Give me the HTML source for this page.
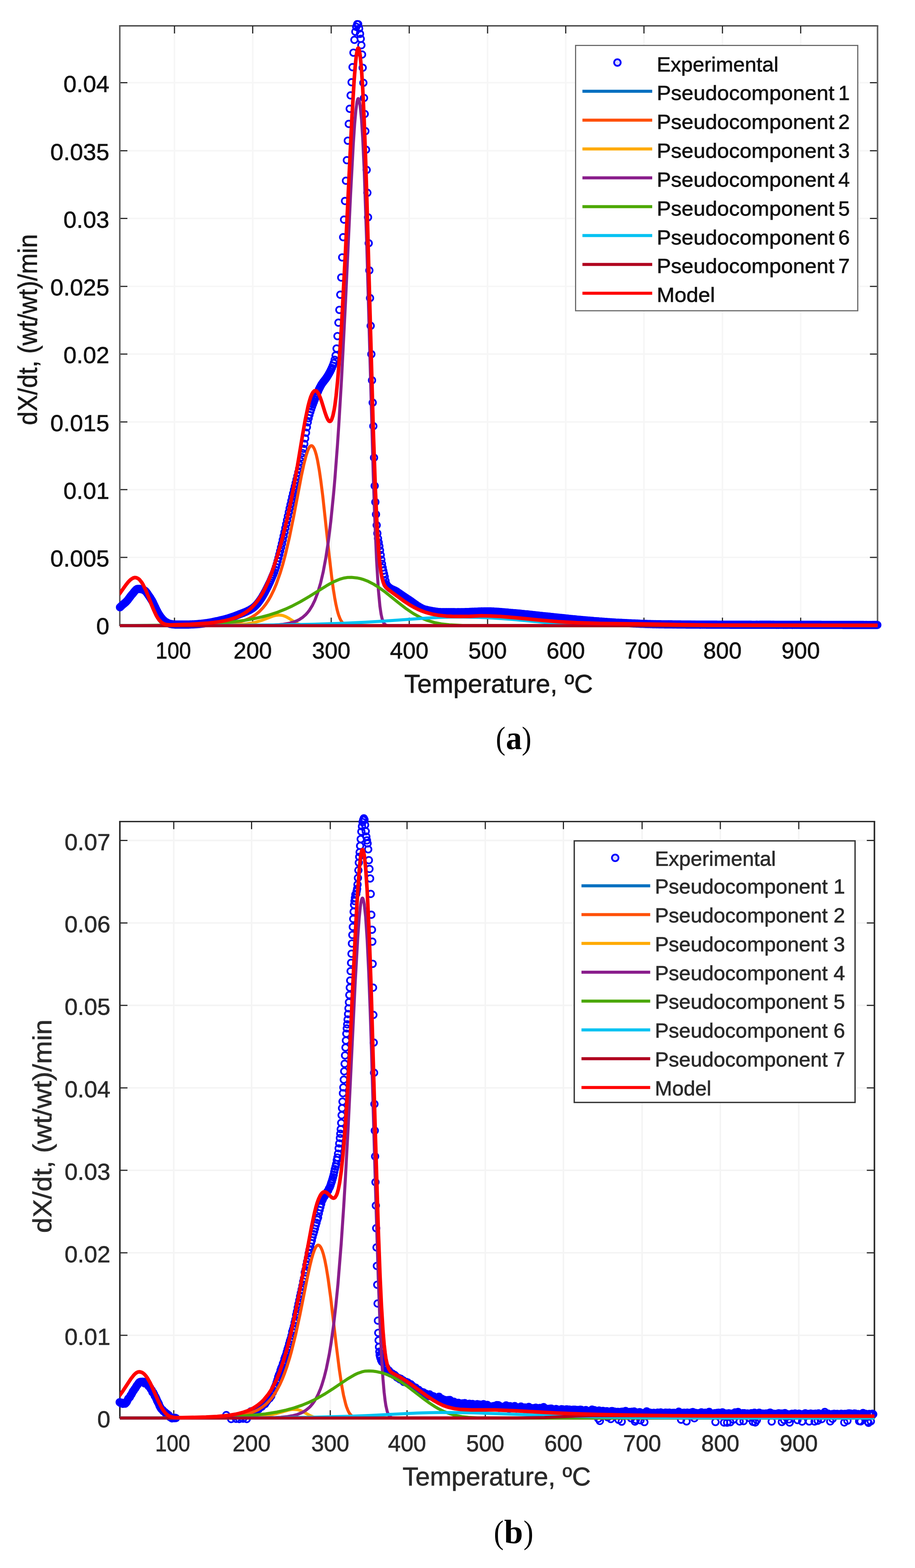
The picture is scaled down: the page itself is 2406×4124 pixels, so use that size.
<!DOCTYPE html><html><head><meta charset="utf-8"><title>DTG deconvolution</title><style>html,body{margin:0;padding:0;background:#fff}svg{display:block}</style></head><body>
<svg width="2406" height="4124" viewBox="0 0 2406 4124">
<rect width="2406" height="4124" fill="#fff"/>
<g font-family='"Liberation Sans", Arial, sans-serif' font-size="62" fill="#111" stroke="#111" stroke-width="0.9">
<path d="M458.8,68.0V1644.5M664.5,68.0V1644.5M870.9,68.0V1644.5M1076.1,68.0V1644.5M1282.1,68.0V1644.5M1487.6,68.0V1644.5M1693.3,68.0V1644.5M1899.7,68.0V1644.5M2105.4,68.0V1644.5M315.0,1466.0H2307.5M315.0,1287.7H2307.5M315.0,1109.8H2307.5M315.0,931.2H2307.5M315.0,753.2H2307.5M315.0,574.6H2307.5M315.0,396.6H2307.5M315.0,217.6H2307.5" stroke="#f6f6f6" stroke-width="4" fill="none"/>
<path d="M458.8,1644.5v-20.0M458.8,68.0v20.0M664.5,1644.5v-20.0M664.5,68.0v20.0M870.9,1644.5v-20.0M870.9,68.0v20.0M1076.1,1644.5v-20.0M1076.1,68.0v20.0M1282.1,1644.5v-20.0M1282.1,68.0v20.0M1487.6,1644.5v-20.0M1487.6,68.0v20.0M1693.3,1644.5v-20.0M1693.3,68.0v20.0M1899.7,1644.5v-20.0M1899.7,68.0v20.0M2105.4,1644.5v-20.0M2105.4,68.0v20.0M315.0,1644.4h20.0M2307.5,1644.4h-20.0M315.0,1466.0h20.0M2307.5,1466.0h-20.0M315.0,1287.7h20.0M2307.5,1287.7h-20.0M315.0,1109.8h20.0M2307.5,1109.8h-20.0M315.0,931.2h20.0M2307.5,931.2h-20.0M315.0,753.2h20.0M2307.5,753.2h-20.0M315.0,574.6h20.0M2307.5,574.6h-20.0M315.0,396.6h20.0M2307.5,396.6h-20.0M315.0,217.6h20.0M2307.5,217.6h-20.0" stroke="#262626" stroke-width="3" fill="none"/>
<path d="M313.0,68.0H2309.5 M313.0,1644.5H2309.5" stroke="#262626" stroke-width="3" fill="none"/>
<path d="M315.0,68.0V1644.5 M2307.5,68.0V1644.5" stroke="#5e5e5e" stroke-width="4" fill="none"/>
<path d="M306.9,1597.2a8.6,8.6 0 1,0 17.2,0a8.6,8.6 0 1,0 -17.2,0M309.2,1595.0a8.6,8.6 0 1,0 17.2,0a8.6,8.6 0 1,0 -17.2,0M311.4,1592.9a8.6,8.6 0 1,0 17.2,0a8.6,8.6 0 1,0 -17.2,0M313.7,1590.8a8.6,8.6 0 1,0 17.2,0a8.6,8.6 0 1,0 -17.2,0M316.0,1588.9a8.6,8.6 0 1,0 17.2,0a8.6,8.6 0 1,0 -17.2,0M318.2,1587.0a8.6,8.6 0 1,0 17.2,0a8.6,8.6 0 1,0 -17.2,0M320.5,1585.1a8.6,8.6 0 1,0 17.2,0a8.6,8.6 0 1,0 -17.2,0M322.8,1583.0a8.6,8.6 0 1,0 17.2,0a8.6,8.6 0 1,0 -17.2,0M325.0,1580.7a8.6,8.6 0 1,0 17.2,0a8.6,8.6 0 1,0 -17.2,0M327.3,1578.1a8.6,8.6 0 1,0 17.2,0a8.6,8.6 0 1,0 -17.2,0M329.5,1575.1a8.6,8.6 0 1,0 17.2,0a8.6,8.6 0 1,0 -17.2,0M331.8,1572.1a8.6,8.6 0 1,0 17.2,0a8.6,8.6 0 1,0 -17.2,0M334.1,1569.0a8.6,8.6 0 1,0 17.2,0a8.6,8.6 0 1,0 -17.2,0M336.3,1566.1a8.6,8.6 0 1,0 17.2,0a8.6,8.6 0 1,0 -17.2,0M338.6,1563.4a8.6,8.6 0 1,0 17.2,0a8.6,8.6 0 1,0 -17.2,0M340.9,1560.8a8.6,8.6 0 1,0 17.2,0a8.6,8.6 0 1,0 -17.2,0M343.1,1558.0a8.6,8.6 0 1,0 17.2,0a8.6,8.6 0 1,0 -17.2,0M345.4,1555.2a8.6,8.6 0 1,0 17.2,0a8.6,8.6 0 1,0 -17.2,0M347.7,1552.6a8.6,8.6 0 1,0 17.2,0a8.6,8.6 0 1,0 -17.2,0M349.9,1550.5a8.6,8.6 0 1,0 17.2,0a8.6,8.6 0 1,0 -17.2,0M352.2,1549.1a8.6,8.6 0 1,0 17.2,0a8.6,8.6 0 1,0 -17.2,0M354.5,1548.8a8.6,8.6 0 1,0 17.2,0a8.6,8.6 0 1,0 -17.2,0M356.7,1548.9a8.6,8.6 0 1,0 17.2,0a8.6,8.6 0 1,0 -17.2,0M359.0,1549.1a8.6,8.6 0 1,0 17.2,0a8.6,8.6 0 1,0 -17.2,0M361.3,1549.4a8.6,8.6 0 1,0 17.2,0a8.6,8.6 0 1,0 -17.2,0M363.5,1549.8a8.6,8.6 0 1,0 17.2,0a8.6,8.6 0 1,0 -17.2,0M365.8,1550.3a8.6,8.6 0 1,0 17.2,0a8.6,8.6 0 1,0 -17.2,0M368.0,1551.2a8.6,8.6 0 1,0 17.2,0a8.6,8.6 0 1,0 -17.2,0M370.3,1552.4a8.6,8.6 0 1,0 17.2,0a8.6,8.6 0 1,0 -17.2,0M372.6,1553.8a8.6,8.6 0 1,0 17.2,0a8.6,8.6 0 1,0 -17.2,0M374.8,1555.7a8.6,8.6 0 1,0 17.2,0a8.6,8.6 0 1,0 -17.2,0M377.1,1558.5a8.6,8.6 0 1,0 17.2,0a8.6,8.6 0 1,0 -17.2,0M379.4,1561.7a8.6,8.6 0 1,0 17.2,0a8.6,8.6 0 1,0 -17.2,0M381.6,1565.1a8.6,8.6 0 1,0 17.2,0a8.6,8.6 0 1,0 -17.2,0M383.9,1568.3a8.6,8.6 0 1,0 17.2,0a8.6,8.6 0 1,0 -17.2,0M386.2,1571.7a8.6,8.6 0 1,0 17.2,0a8.6,8.6 0 1,0 -17.2,0M388.4,1575.3a8.6,8.6 0 1,0 17.2,0a8.6,8.6 0 1,0 -17.2,0M390.7,1579.0a8.6,8.6 0 1,0 17.2,0a8.6,8.6 0 1,0 -17.2,0M393.0,1583.1a8.6,8.6 0 1,0 17.2,0a8.6,8.6 0 1,0 -17.2,0M395.2,1587.8a8.6,8.6 0 1,0 17.2,0a8.6,8.6 0 1,0 -17.2,0M397.5,1592.7a8.6,8.6 0 1,0 17.2,0a8.6,8.6 0 1,0 -17.2,0M399.8,1597.5a8.6,8.6 0 1,0 17.2,0a8.6,8.6 0 1,0 -17.2,0M402.0,1602.1a8.6,8.6 0 1,0 17.2,0a8.6,8.6 0 1,0 -17.2,0M404.3,1606.6a8.6,8.6 0 1,0 17.2,0a8.6,8.6 0 1,0 -17.2,0M406.5,1610.9a8.6,8.6 0 1,0 17.2,0a8.6,8.6 0 1,0 -17.2,0M408.8,1614.8a8.6,8.6 0 1,0 17.2,0a8.6,8.6 0 1,0 -17.2,0M411.1,1618.3a8.6,8.6 0 1,0 17.2,0a8.6,8.6 0 1,0 -17.2,0M413.3,1621.7a8.6,8.6 0 1,0 17.2,0a8.6,8.6 0 1,0 -17.2,0M415.6,1624.7a8.6,8.6 0 1,0 17.2,0a8.6,8.6 0 1,0 -17.2,0M417.9,1627.4a8.6,8.6 0 1,0 17.2,0a8.6,8.6 0 1,0 -17.2,0M420.1,1629.8a8.6,8.6 0 1,0 17.2,0a8.6,8.6 0 1,0 -17.2,0M422.4,1632.0a8.6,8.6 0 1,0 17.2,0a8.6,8.6 0 1,0 -17.2,0M424.7,1634.0a8.6,8.6 0 1,0 17.2,0a8.6,8.6 0 1,0 -17.2,0M426.9,1635.6a8.6,8.6 0 1,0 17.2,0a8.6,8.6 0 1,0 -17.2,0M429.2,1636.9a8.6,8.6 0 1,0 17.2,0a8.6,8.6 0 1,0 -17.2,0M431.5,1638.1a8.6,8.6 0 1,0 17.2,0a8.6,8.6 0 1,0 -17.2,0M433.7,1639.2a8.6,8.6 0 1,0 17.2,0a8.6,8.6 0 1,0 -17.2,0M436.0,1640.1a8.6,8.6 0 1,0 17.2,0a8.6,8.6 0 1,0 -17.2,0M438.3,1640.8a8.6,8.6 0 1,0 17.2,0a8.6,8.6 0 1,0 -17.2,0M440.5,1641.3a8.6,8.6 0 1,0 17.2,0a8.6,8.6 0 1,0 -17.2,0M442.8,1641.6a8.6,8.6 0 1,0 17.2,0a8.6,8.6 0 1,0 -17.2,0M445.0,1642.0a8.6,8.6 0 1,0 17.2,0a8.6,8.6 0 1,0 -17.2,0M447.3,1642.2a8.6,8.6 0 1,0 17.2,0a8.6,8.6 0 1,0 -17.2,0M449.6,1642.4a8.6,8.6 0 1,0 17.2,0a8.6,8.6 0 1,0 -17.2,0M451.8,1642.6a8.6,8.6 0 1,0 17.2,0a8.6,8.6 0 1,0 -17.2,0M454.1,1642.6a8.6,8.6 0 1,0 17.2,0a8.6,8.6 0 1,0 -17.2,0M456.4,1642.6a8.6,8.6 0 1,0 17.2,0a8.6,8.6 0 1,0 -17.2,0M458.6,1642.6a8.6,8.6 0 1,0 17.2,0a8.6,8.6 0 1,0 -17.2,0M460.9,1642.6a8.6,8.6 0 1,0 17.2,0a8.6,8.6 0 1,0 -17.2,0M463.2,1642.6a8.6,8.6 0 1,0 17.2,0a8.6,8.6 0 1,0 -17.2,0M465.4,1642.6a8.6,8.6 0 1,0 17.2,0a8.6,8.6 0 1,0 -17.2,0M467.7,1642.6a8.6,8.6 0 1,0 17.2,0a8.6,8.6 0 1,0 -17.2,0M470.0,1642.6a8.6,8.6 0 1,0 17.2,0a8.6,8.6 0 1,0 -17.2,0M472.2,1642.6a8.6,8.6 0 1,0 17.2,0a8.6,8.6 0 1,0 -17.2,0M474.5,1642.6a8.6,8.6 0 1,0 17.2,0a8.6,8.6 0 1,0 -17.2,0M476.8,1642.6a8.6,8.6 0 1,0 17.2,0a8.6,8.6 0 1,0 -17.2,0M479.0,1642.6a8.6,8.6 0 1,0 17.2,0a8.6,8.6 0 1,0 -17.2,0M481.3,1642.6a8.6,8.6 0 1,0 17.2,0a8.6,8.6 0 1,0 -17.2,0M483.5,1642.6a8.6,8.6 0 1,0 17.2,0a8.6,8.6 0 1,0 -17.2,0M485.8,1642.6a8.6,8.6 0 1,0 17.2,0a8.6,8.6 0 1,0 -17.2,0M488.1,1642.6a8.6,8.6 0 1,0 17.2,0a8.6,8.6 0 1,0 -17.2,0M490.3,1642.5a8.6,8.6 0 1,0 17.2,0a8.6,8.6 0 1,0 -17.2,0M492.6,1642.4a8.6,8.6 0 1,0 17.2,0a8.6,8.6 0 1,0 -17.2,0M494.9,1642.3a8.6,8.6 0 1,0 17.2,0a8.6,8.6 0 1,0 -17.2,0M497.1,1642.2a8.6,8.6 0 1,0 17.2,0a8.6,8.6 0 1,0 -17.2,0M499.4,1642.1a8.6,8.6 0 1,0 17.2,0a8.6,8.6 0 1,0 -17.2,0M501.7,1642.0a8.6,8.6 0 1,0 17.2,0a8.6,8.6 0 1,0 -17.2,0M503.9,1641.9a8.6,8.6 0 1,0 17.2,0a8.6,8.6 0 1,0 -17.2,0M506.2,1641.7a8.6,8.6 0 1,0 17.2,0a8.6,8.6 0 1,0 -17.2,0M508.5,1641.6a8.6,8.6 0 1,0 17.2,0a8.6,8.6 0 1,0 -17.2,0M510.7,1641.5a8.6,8.6 0 1,0 17.2,0a8.6,8.6 0 1,0 -17.2,0M513.0,1641.3a8.6,8.6 0 1,0 17.2,0a8.6,8.6 0 1,0 -17.2,0M515.3,1641.1a8.6,8.6 0 1,0 17.2,0a8.6,8.6 0 1,0 -17.2,0M517.5,1640.9a8.6,8.6 0 1,0 17.2,0a8.6,8.6 0 1,0 -17.2,0M519.8,1640.7a8.6,8.6 0 1,0 17.2,0a8.6,8.6 0 1,0 -17.2,0M522.0,1640.4a8.6,8.6 0 1,0 17.2,0a8.6,8.6 0 1,0 -17.2,0M524.3,1640.2a8.6,8.6 0 1,0 17.2,0a8.6,8.6 0 1,0 -17.2,0M526.6,1639.9a8.6,8.6 0 1,0 17.2,0a8.6,8.6 0 1,0 -17.2,0M528.8,1639.6a8.6,8.6 0 1,0 17.2,0a8.6,8.6 0 1,0 -17.2,0M531.1,1639.3a8.6,8.6 0 1,0 17.2,0a8.6,8.6 0 1,0 -17.2,0M533.4,1639.0a8.6,8.6 0 1,0 17.2,0a8.6,8.6 0 1,0 -17.2,0M535.6,1638.7a8.6,8.6 0 1,0 17.2,0a8.6,8.6 0 1,0 -17.2,0M537.9,1638.3a8.6,8.6 0 1,0 17.2,0a8.6,8.6 0 1,0 -17.2,0M540.2,1638.0a8.6,8.6 0 1,0 17.2,0a8.6,8.6 0 1,0 -17.2,0M542.4,1637.6a8.6,8.6 0 1,0 17.2,0a8.6,8.6 0 1,0 -17.2,0M544.7,1637.2a8.6,8.6 0 1,0 17.2,0a8.6,8.6 0 1,0 -17.2,0M547.0,1636.7a8.6,8.6 0 1,0 17.2,0a8.6,8.6 0 1,0 -17.2,0M549.2,1636.3a8.6,8.6 0 1,0 17.2,0a8.6,8.6 0 1,0 -17.2,0M551.5,1635.8a8.6,8.6 0 1,0 17.2,0a8.6,8.6 0 1,0 -17.2,0M553.8,1635.4a8.6,8.6 0 1,0 17.2,0a8.6,8.6 0 1,0 -17.2,0M556.0,1634.9a8.6,8.6 0 1,0 17.2,0a8.6,8.6 0 1,0 -17.2,0M558.3,1634.4a8.6,8.6 0 1,0 17.2,0a8.6,8.6 0 1,0 -17.2,0M560.5,1633.9a8.6,8.6 0 1,0 17.2,0a8.6,8.6 0 1,0 -17.2,0M562.8,1633.5a8.6,8.6 0 1,0 17.2,0a8.6,8.6 0 1,0 -17.2,0M565.1,1633.0a8.6,8.6 0 1,0 17.2,0a8.6,8.6 0 1,0 -17.2,0M567.3,1632.5a8.6,8.6 0 1,0 17.2,0a8.6,8.6 0 1,0 -17.2,0M569.6,1631.9a8.6,8.6 0 1,0 17.2,0a8.6,8.6 0 1,0 -17.2,0M571.9,1631.4a8.6,8.6 0 1,0 17.2,0a8.6,8.6 0 1,0 -17.2,0M574.1,1630.9a8.6,8.6 0 1,0 17.2,0a8.6,8.6 0 1,0 -17.2,0M576.4,1630.3a8.6,8.6 0 1,0 17.2,0a8.6,8.6 0 1,0 -17.2,0M578.7,1629.8a8.6,8.6 0 1,0 17.2,0a8.6,8.6 0 1,0 -17.2,0M580.9,1629.2a8.6,8.6 0 1,0 17.2,0a8.6,8.6 0 1,0 -17.2,0M583.2,1628.6a8.6,8.6 0 1,0 17.2,0a8.6,8.6 0 1,0 -17.2,0M585.5,1628.0a8.6,8.6 0 1,0 17.2,0a8.6,8.6 0 1,0 -17.2,0M587.7,1627.3a8.6,8.6 0 1,0 17.2,0a8.6,8.6 0 1,0 -17.2,0M590.0,1626.7a8.6,8.6 0 1,0 17.2,0a8.6,8.6 0 1,0 -17.2,0M592.3,1626.0a8.6,8.6 0 1,0 17.2,0a8.6,8.6 0 1,0 -17.2,0M594.5,1625.3a8.6,8.6 0 1,0 17.2,0a8.6,8.6 0 1,0 -17.2,0M596.8,1624.6a8.6,8.6 0 1,0 17.2,0a8.6,8.6 0 1,0 -17.2,0M599.0,1623.9a8.6,8.6 0 1,0 17.2,0a8.6,8.6 0 1,0 -17.2,0M601.3,1623.1a8.6,8.6 0 1,0 17.2,0a8.6,8.6 0 1,0 -17.2,0M603.6,1622.3a8.6,8.6 0 1,0 17.2,0a8.6,8.6 0 1,0 -17.2,0M605.8,1621.5a8.6,8.6 0 1,0 17.2,0a8.6,8.6 0 1,0 -17.2,0M608.1,1620.7a8.6,8.6 0 1,0 17.2,0a8.6,8.6 0 1,0 -17.2,0M610.4,1619.8a8.6,8.6 0 1,0 17.2,0a8.6,8.6 0 1,0 -17.2,0M612.6,1619.0a8.6,8.6 0 1,0 17.2,0a8.6,8.6 0 1,0 -17.2,0M614.9,1618.1a8.6,8.6 0 1,0 17.2,0a8.6,8.6 0 1,0 -17.2,0M617.2,1617.2a8.6,8.6 0 1,0 17.2,0a8.6,8.6 0 1,0 -17.2,0M619.4,1616.3a8.6,8.6 0 1,0 17.2,0a8.6,8.6 0 1,0 -17.2,0M621.7,1615.4a8.6,8.6 0 1,0 17.2,0a8.6,8.6 0 1,0 -17.2,0M624.0,1614.6a8.6,8.6 0 1,0 17.2,0a8.6,8.6 0 1,0 -17.2,0M626.2,1613.7a8.6,8.6 0 1,0 17.2,0a8.6,8.6 0 1,0 -17.2,0M628.5,1612.9a8.6,8.6 0 1,0 17.2,0a8.6,8.6 0 1,0 -17.2,0M630.8,1612.0a8.6,8.6 0 1,0 17.2,0a8.6,8.6 0 1,0 -17.2,0M633.0,1611.1a8.6,8.6 0 1,0 17.2,0a8.6,8.6 0 1,0 -17.2,0M635.3,1610.2a8.6,8.6 0 1,0 17.2,0a8.6,8.6 0 1,0 -17.2,0M637.5,1609.3a8.6,8.6 0 1,0 17.2,0a8.6,8.6 0 1,0 -17.2,0M639.8,1608.3a8.6,8.6 0 1,0 17.2,0a8.6,8.6 0 1,0 -17.2,0M642.1,1607.2a8.6,8.6 0 1,0 17.2,0a8.6,8.6 0 1,0 -17.2,0M644.3,1606.1a8.6,8.6 0 1,0 17.2,0a8.6,8.6 0 1,0 -17.2,0M646.6,1605.0a8.6,8.6 0 1,0 17.2,0a8.6,8.6 0 1,0 -17.2,0M648.9,1603.8a8.6,8.6 0 1,0 17.2,0a8.6,8.6 0 1,0 -17.2,0M651.1,1602.4a8.6,8.6 0 1,0 17.2,0a8.6,8.6 0 1,0 -17.2,0M653.4,1601.0a8.6,8.6 0 1,0 17.2,0a8.6,8.6 0 1,0 -17.2,0M655.7,1599.5a8.6,8.6 0 1,0 17.2,0a8.6,8.6 0 1,0 -17.2,0M657.9,1597.9a8.6,8.6 0 1,0 17.2,0a8.6,8.6 0 1,0 -17.2,0M660.2,1596.0a8.6,8.6 0 1,0 17.2,0a8.6,8.6 0 1,0 -17.2,0M662.5,1593.9a8.6,8.6 0 1,0 17.2,0a8.6,8.6 0 1,0 -17.2,0M664.7,1591.7a8.6,8.6 0 1,0 17.2,0a8.6,8.6 0 1,0 -17.2,0M667.0,1589.2a8.6,8.6 0 1,0 17.2,0a8.6,8.6 0 1,0 -17.2,0M669.3,1586.5a8.6,8.6 0 1,0 17.2,0a8.6,8.6 0 1,0 -17.2,0M671.5,1583.6a8.6,8.6 0 1,0 17.2,0a8.6,8.6 0 1,0 -17.2,0M673.8,1580.5a8.6,8.6 0 1,0 17.2,0a8.6,8.6 0 1,0 -17.2,0M676.0,1577.3a8.6,8.6 0 1,0 17.2,0a8.6,8.6 0 1,0 -17.2,0M678.3,1573.9a8.6,8.6 0 1,0 17.2,0a8.6,8.6 0 1,0 -17.2,0M680.6,1570.3a8.6,8.6 0 1,0 17.2,0a8.6,8.6 0 1,0 -17.2,0M682.8,1566.5a8.6,8.6 0 1,0 17.2,0a8.6,8.6 0 1,0 -17.2,0M685.1,1562.6a8.6,8.6 0 1,0 17.2,0a8.6,8.6 0 1,0 -17.2,0M687.4,1558.5a8.6,8.6 0 1,0 17.2,0a8.6,8.6 0 1,0 -17.2,0M689.6,1554.3a8.6,8.6 0 1,0 17.2,0a8.6,8.6 0 1,0 -17.2,0M691.9,1550.0a8.6,8.6 0 1,0 17.2,0a8.6,8.6 0 1,0 -17.2,0M694.2,1545.5a8.6,8.6 0 1,0 17.2,0a8.6,8.6 0 1,0 -17.2,0M696.4,1540.9a8.6,8.6 0 1,0 17.2,0a8.6,8.6 0 1,0 -17.2,0M698.7,1536.1a8.6,8.6 0 1,0 17.2,0a8.6,8.6 0 1,0 -17.2,0M701.0,1531.3a8.6,8.6 0 1,0 17.2,0a8.6,8.6 0 1,0 -17.2,0M703.2,1526.3a8.6,8.6 0 1,0 17.2,0a8.6,8.6 0 1,0 -17.2,0M705.5,1521.2a8.6,8.6 0 1,0 17.2,0a8.6,8.6 0 1,0 -17.2,0M707.7,1516.0a8.6,8.6 0 1,0 17.2,0a8.6,8.6 0 1,0 -17.2,0M710.0,1510.7a8.6,8.6 0 1,0 17.2,0a8.6,8.6 0 1,0 -17.2,0M712.3,1504.9a8.6,8.6 0 1,0 17.2,0a8.6,8.6 0 1,0 -17.2,0M714.5,1498.4a8.6,8.6 0 1,0 17.2,0a8.6,8.6 0 1,0 -17.2,0M716.8,1491.4a8.6,8.6 0 1,0 17.2,0a8.6,8.6 0 1,0 -17.2,0M719.1,1483.8a8.6,8.6 0 1,0 17.2,0a8.6,8.6 0 1,0 -17.2,0M721.3,1475.8a8.6,8.6 0 1,0 17.2,0a8.6,8.6 0 1,0 -17.2,0M723.6,1467.3a8.6,8.6 0 1,0 17.2,0a8.6,8.6 0 1,0 -17.2,0M725.9,1458.5a8.6,8.6 0 1,0 17.2,0a8.6,8.6 0 1,0 -17.2,0M728.1,1449.3a8.6,8.6 0 1,0 17.2,0a8.6,8.6 0 1,0 -17.2,0M730.4,1439.7a8.6,8.6 0 1,0 17.2,0a8.6,8.6 0 1,0 -17.2,0M732.7,1429.9a8.6,8.6 0 1,0 17.2,0a8.6,8.6 0 1,0 -17.2,0M734.9,1419.9a8.6,8.6 0 1,0 17.2,0a8.6,8.6 0 1,0 -17.2,0M737.2,1409.7a8.6,8.6 0 1,0 17.2,0a8.6,8.6 0 1,0 -17.2,0M739.5,1399.4a8.6,8.6 0 1,0 17.2,0a8.6,8.6 0 1,0 -17.2,0M741.7,1388.9a8.6,8.6 0 1,0 17.2,0a8.6,8.6 0 1,0 -17.2,0M744.0,1378.4a8.6,8.6 0 1,0 17.2,0a8.6,8.6 0 1,0 -17.2,0M746.2,1368.0a8.6,8.6 0 1,0 17.2,0a8.6,8.6 0 1,0 -17.2,0M748.5,1357.5a8.6,8.6 0 1,0 17.2,0a8.6,8.6 0 1,0 -17.2,0M750.8,1347.1a8.6,8.6 0 1,0 17.2,0a8.6,8.6 0 1,0 -17.2,0M753.0,1336.8a8.6,8.6 0 1,0 17.2,0a8.6,8.6 0 1,0 -17.2,0M755.3,1326.8a8.6,8.6 0 1,0 17.2,0a8.6,8.6 0 1,0 -17.2,0M757.6,1316.9a8.6,8.6 0 1,0 17.2,0a8.6,8.6 0 1,0 -17.2,0M759.8,1307.2a8.6,8.6 0 1,0 17.2,0a8.6,8.6 0 1,0 -17.2,0M762.1,1297.8a8.6,8.6 0 1,0 17.2,0a8.6,8.6 0 1,0 -17.2,0M764.4,1288.5a8.6,8.6 0 1,0 17.2,0a8.6,8.6 0 1,0 -17.2,0M766.6,1279.4a8.6,8.6 0 1,0 17.2,0a8.6,8.6 0 1,0 -17.2,0M768.9,1270.2a8.6,8.6 0 1,0 17.2,0a8.6,8.6 0 1,0 -17.2,0M771.2,1261.1a8.6,8.6 0 1,0 17.2,0a8.6,8.6 0 1,0 -17.2,0M773.4,1251.8a8.6,8.6 0 1,0 17.2,0a8.6,8.6 0 1,0 -17.2,0M775.7,1242.4a8.6,8.6 0 1,0 17.2,0a8.6,8.6 0 1,0 -17.2,0M778.0,1232.9a8.6,8.6 0 1,0 17.2,0a8.6,8.6 0 1,0 -17.2,0M780.2,1223.1a8.6,8.6 0 1,0 17.2,0a8.6,8.6 0 1,0 -17.2,0M782.5,1213.0a8.6,8.6 0 1,0 17.2,0a8.6,8.6 0 1,0 -17.2,0M784.7,1202.5a8.6,8.6 0 1,0 17.2,0a8.6,8.6 0 1,0 -17.2,0M787.0,1191.7a8.6,8.6 0 1,0 17.2,0a8.6,8.6 0 1,0 -17.2,0M789.3,1180.3a8.6,8.6 0 1,0 17.2,0a8.6,8.6 0 1,0 -17.2,0M791.5,1167.4a8.6,8.6 0 1,0 17.2,0a8.6,8.6 0 1,0 -17.2,0M793.8,1153.0a8.6,8.6 0 1,0 17.2,0a8.6,8.6 0 1,0 -17.2,0M796.1,1138.1a8.6,8.6 0 1,0 17.2,0a8.6,8.6 0 1,0 -17.2,0M798.3,1123.6a8.6,8.6 0 1,0 17.2,0a8.6,8.6 0 1,0 -17.2,0M800.6,1110.6a8.6,8.6 0 1,0 17.2,0a8.6,8.6 0 1,0 -17.2,0M802.9,1100.0a8.6,8.6 0 1,0 17.2,0a8.6,8.6 0 1,0 -17.2,0M805.1,1091.3a8.6,8.6 0 1,0 17.2,0a8.6,8.6 0 1,0 -17.2,0M807.4,1083.4a8.6,8.6 0 1,0 17.2,0a8.6,8.6 0 1,0 -17.2,0M809.7,1076.2a8.6,8.6 0 1,0 17.2,0a8.6,8.6 0 1,0 -17.2,0M811.9,1069.5a8.6,8.6 0 1,0 17.2,0a8.6,8.6 0 1,0 -17.2,0M814.2,1063.2a8.6,8.6 0 1,0 17.2,0a8.6,8.6 0 1,0 -17.2,0M816.5,1057.3a8.6,8.6 0 1,0 17.2,0a8.6,8.6 0 1,0 -17.2,0M818.7,1051.5a8.6,8.6 0 1,0 17.2,0a8.6,8.6 0 1,0 -17.2,0M821.0,1045.7a8.6,8.6 0 1,0 17.2,0a8.6,8.6 0 1,0 -17.2,0M823.2,1040.0a8.6,8.6 0 1,0 17.2,0a8.6,8.6 0 1,0 -17.2,0M825.5,1034.5a8.6,8.6 0 1,0 17.2,0a8.6,8.6 0 1,0 -17.2,0M827.8,1029.2a8.6,8.6 0 1,0 17.2,0a8.6,8.6 0 1,0 -17.2,0M830.0,1024.1a8.6,8.6 0 1,0 17.2,0a8.6,8.6 0 1,0 -17.2,0M832.3,1019.4a8.6,8.6 0 1,0 17.2,0a8.6,8.6 0 1,0 -17.2,0M834.6,1015.1a8.6,8.6 0 1,0 17.2,0a8.6,8.6 0 1,0 -17.2,0M836.8,1011.2a8.6,8.6 0 1,0 17.2,0a8.6,8.6 0 1,0 -17.2,0M839.1,1007.8a8.6,8.6 0 1,0 17.2,0a8.6,8.6 0 1,0 -17.2,0M841.4,1004.7a8.6,8.6 0 1,0 17.2,0a8.6,8.6 0 1,0 -17.2,0M843.6,1001.8a8.6,8.6 0 1,0 17.2,0a8.6,8.6 0 1,0 -17.2,0M845.9,998.9a8.6,8.6 0 1,0 17.2,0a8.6,8.6 0 1,0 -17.2,0M848.2,995.9a8.6,8.6 0 1,0 17.2,0a8.6,8.6 0 1,0 -17.2,0M850.4,992.7a8.6,8.6 0 1,0 17.2,0a8.6,8.6 0 1,0 -17.2,0M852.7,989.1a8.6,8.6 0 1,0 17.2,0a8.6,8.6 0 1,0 -17.2,0M855.0,985.3a8.6,8.6 0 1,0 17.2,0a8.6,8.6 0 1,0 -17.2,0M857.2,981.4a8.6,8.6 0 1,0 17.2,0a8.6,8.6 0 1,0 -17.2,0M859.5,977.2a8.6,8.6 0 1,0 17.2,0a8.6,8.6 0 1,0 -17.2,0M861.7,972.7a8.6,8.6 0 1,0 17.2,0a8.6,8.6 0 1,0 -17.2,0M864.0,967.7a8.6,8.6 0 1,0 17.2,0a8.6,8.6 0 1,0 -17.2,0M866.5,961.7a8.6,8.6 0 1,0 17.2,0a8.6,8.6 0 1,0 -17.2,0M869.0,954.9a8.6,8.6 0 1,0 17.2,0a8.6,8.6 0 1,0 -17.2,0M871.4,946.4a8.6,8.6 0 1,0 17.2,0a8.6,8.6 0 1,0 -17.2,0M873.9,934.9a8.6,8.6 0 1,0 17.2,0a8.6,8.6 0 1,0 -17.2,0M876.4,916.6a8.6,8.6 0 1,0 17.2,0a8.6,8.6 0 1,0 -17.2,0M878.8,884.0a8.6,8.6 0 1,0 17.2,0a8.6,8.6 0 1,0 -17.2,0M881.3,848.6a8.6,8.6 0 1,0 17.2,0a8.6,8.6 0 1,0 -17.2,0M883.8,815.0a8.6,8.6 0 1,0 17.2,0a8.6,8.6 0 1,0 -17.2,0M886.2,775.1a8.6,8.6 0 1,0 17.2,0a8.6,8.6 0 1,0 -17.2,0M888.7,729.9a8.6,8.6 0 1,0 17.2,0a8.6,8.6 0 1,0 -17.2,0M891.2,677.0a8.6,8.6 0 1,0 17.2,0a8.6,8.6 0 1,0 -17.2,0M893.7,623.8a8.6,8.6 0 1,0 17.2,0a8.6,8.6 0 1,0 -17.2,0M896.1,577.6a8.6,8.6 0 1,0 17.2,0a8.6,8.6 0 1,0 -17.2,0M898.6,528.6a8.6,8.6 0 1,0 17.2,0a8.6,8.6 0 1,0 -17.2,0M901.1,475.3a8.6,8.6 0 1,0 17.2,0a8.6,8.6 0 1,0 -17.2,0M903.5,421.3a8.6,8.6 0 1,0 17.2,0a8.6,8.6 0 1,0 -17.2,0M906.0,370.0a8.6,8.6 0 1,0 17.2,0a8.6,8.6 0 1,0 -17.2,0M908.5,325.9a8.6,8.6 0 1,0 17.2,0a8.6,8.6 0 1,0 -17.2,0M911.0,286.1a8.6,8.6 0 1,0 17.2,0a8.6,8.6 0 1,0 -17.2,0M913.4,250.9a8.6,8.6 0 1,0 17.2,0a8.6,8.6 0 1,0 -17.2,0M915.9,216.3a8.6,8.6 0 1,0 17.2,0a8.6,8.6 0 1,0 -17.2,0M918.4,176.6a8.6,8.6 0 1,0 17.2,0a8.6,8.6 0 1,0 -17.2,0M920.8,138.5a8.6,8.6 0 1,0 17.2,0a8.6,8.6 0 1,0 -17.2,0M923.3,104.8a8.6,8.6 0 1,0 17.2,0a8.6,8.6 0 1,0 -17.2,0M925.8,83.4a8.6,8.6 0 1,0 17.2,0a8.6,8.6 0 1,0 -17.2,0M928.2,70.5a8.6,8.6 0 1,0 17.2,0a8.6,8.6 0 1,0 -17.2,0M930.7,63.6a8.6,8.6 0 1,0 17.2,0a8.6,8.6 0 1,0 -17.2,0M933.2,63.7a8.6,8.6 0 1,0 17.2,0a8.6,8.6 0 1,0 -17.2,0M935.7,75.0a8.6,8.6 0 1,0 17.2,0a8.6,8.6 0 1,0 -17.2,0M938.1,89.0a8.6,8.6 0 1,0 17.2,0a8.6,8.6 0 1,0 -17.2,0M939.9,102.1a8.6,8.6 0 1,0 17.2,0a8.6,8.6 0 1,0 -17.2,0M941.6,118.9a8.6,8.6 0 1,0 17.2,0a8.6,8.6 0 1,0 -17.2,0M943.4,143.4a8.6,8.6 0 1,0 17.2,0a8.6,8.6 0 1,0 -17.2,0M945.1,178.2a8.6,8.6 0 1,0 17.2,0a8.6,8.6 0 1,0 -17.2,0M946.9,217.8a8.6,8.6 0 1,0 17.2,0a8.6,8.6 0 1,0 -17.2,0M948.6,257.6a8.6,8.6 0 1,0 17.2,0a8.6,8.6 0 1,0 -17.2,0M950.4,299.7a8.6,8.6 0 1,0 17.2,0a8.6,8.6 0 1,0 -17.2,0M952.1,344.9a8.6,8.6 0 1,0 17.2,0a8.6,8.6 0 1,0 -17.2,0M953.9,393.7a8.6,8.6 0 1,0 17.2,0a8.6,8.6 0 1,0 -17.2,0M955.6,446.8a8.6,8.6 0 1,0 17.2,0a8.6,8.6 0 1,0 -17.2,0M957.4,507.1a8.6,8.6 0 1,0 17.2,0a8.6,8.6 0 1,0 -17.2,0M959.1,571.5a8.6,8.6 0 1,0 17.2,0a8.6,8.6 0 1,0 -17.2,0M960.9,639.7a8.6,8.6 0 1,0 17.2,0a8.6,8.6 0 1,0 -17.2,0M962.6,711.2a8.6,8.6 0 1,0 17.2,0a8.6,8.6 0 1,0 -17.2,0M964.4,783.9a8.6,8.6 0 1,0 17.2,0a8.6,8.6 0 1,0 -17.2,0M966.1,856.9a8.6,8.6 0 1,0 17.2,0a8.6,8.6 0 1,0 -17.2,0M967.9,931.5a8.6,8.6 0 1,0 17.2,0a8.6,8.6 0 1,0 -17.2,0M969.6,1000.2a8.6,8.6 0 1,0 17.2,0a8.6,8.6 0 1,0 -17.2,0M971.4,1058.9a8.6,8.6 0 1,0 17.2,0a8.6,8.6 0 1,0 -17.2,0M973.1,1120.7a8.6,8.6 0 1,0 17.2,0a8.6,8.6 0 1,0 -17.2,0M974.9,1203.7a8.6,8.6 0 1,0 17.2,0a8.6,8.6 0 1,0 -17.2,0M976.6,1277.8a8.6,8.6 0 1,0 17.2,0a8.6,8.6 0 1,0 -17.2,0M978.4,1320.5a8.6,8.6 0 1,0 17.2,0a8.6,8.6 0 1,0 -17.2,0M980.1,1352.8a8.6,8.6 0 1,0 17.2,0a8.6,8.6 0 1,0 -17.2,0M981.9,1381.3a8.6,8.6 0 1,0 17.2,0a8.6,8.6 0 1,0 -17.2,0M983.6,1402.7a8.6,8.6 0 1,0 17.2,0a8.6,8.6 0 1,0 -17.2,0M985.4,1416.3a8.6,8.6 0 1,0 17.2,0a8.6,8.6 0 1,0 -17.2,0M987.1,1426.7a8.6,8.6 0 1,0 17.2,0a8.6,8.6 0 1,0 -17.2,0M988.9,1436.4a8.6,8.6 0 1,0 17.2,0a8.6,8.6 0 1,0 -17.2,0M990.6,1447.5a8.6,8.6 0 1,0 17.2,0a8.6,8.6 0 1,0 -17.2,0M992.4,1459.6a8.6,8.6 0 1,0 17.2,0a8.6,8.6 0 1,0 -17.2,0M994.1,1471.8a8.6,8.6 0 1,0 17.2,0a8.6,8.6 0 1,0 -17.2,0M995.9,1483.1a8.6,8.6 0 1,0 17.2,0a8.6,8.6 0 1,0 -17.2,0M997.6,1492.8a8.6,8.6 0 1,0 17.2,0a8.6,8.6 0 1,0 -17.2,0M999.4,1501.2a8.6,8.6 0 1,0 17.2,0a8.6,8.6 0 1,0 -17.2,0M1001.1,1508.9a8.6,8.6 0 1,0 17.2,0a8.6,8.6 0 1,0 -17.2,0M1002.9,1516.7a8.6,8.6 0 1,0 17.2,0a8.6,8.6 0 1,0 -17.2,0M1005.1,1527.7a8.6,8.6 0 1,0 17.2,0a8.6,8.6 0 1,0 -17.2,0M1007.4,1536.5a8.6,8.6 0 1,0 17.2,0a8.6,8.6 0 1,0 -17.2,0M1009.7,1540.1a8.6,8.6 0 1,0 17.2,0a8.6,8.6 0 1,0 -17.2,0M1011.9,1542.6a8.6,8.6 0 1,0 17.2,0a8.6,8.6 0 1,0 -17.2,0M1014.2,1544.7a8.6,8.6 0 1,0 17.2,0a8.6,8.6 0 1,0 -17.2,0M1016.5,1546.5a8.6,8.6 0 1,0 17.2,0a8.6,8.6 0 1,0 -17.2,0M1018.7,1548.0a8.6,8.6 0 1,0 17.2,0a8.6,8.6 0 1,0 -17.2,0M1021.0,1549.2a8.6,8.6 0 1,0 17.2,0a8.6,8.6 0 1,0 -17.2,0M1023.3,1550.3a8.6,8.6 0 1,0 17.2,0a8.6,8.6 0 1,0 -17.2,0M1025.5,1551.3a8.6,8.6 0 1,0 17.2,0a8.6,8.6 0 1,0 -17.2,0M1027.8,1552.3a8.6,8.6 0 1,0 17.2,0a8.6,8.6 0 1,0 -17.2,0M1030.1,1553.4a8.6,8.6 0 1,0 17.2,0a8.6,8.6 0 1,0 -17.2,0M1032.3,1554.6a8.6,8.6 0 1,0 17.2,0a8.6,8.6 0 1,0 -17.2,0M1034.6,1555.9a8.6,8.6 0 1,0 17.2,0a8.6,8.6 0 1,0 -17.2,0M1036.8,1557.4a8.6,8.6 0 1,0 17.2,0a8.6,8.6 0 1,0 -17.2,0M1039.1,1559.0a8.6,8.6 0 1,0 17.2,0a8.6,8.6 0 1,0 -17.2,0M1041.4,1560.5a8.6,8.6 0 1,0 17.2,0a8.6,8.6 0 1,0 -17.2,0M1043.6,1562.1a8.6,8.6 0 1,0 17.2,0a8.6,8.6 0 1,0 -17.2,0M1045.9,1563.6a8.6,8.6 0 1,0 17.2,0a8.6,8.6 0 1,0 -17.2,0M1048.2,1565.2a8.6,8.6 0 1,0 17.2,0a8.6,8.6 0 1,0 -17.2,0M1050.4,1566.7a8.6,8.6 0 1,0 17.2,0a8.6,8.6 0 1,0 -17.2,0M1052.7,1568.2a8.6,8.6 0 1,0 17.2,0a8.6,8.6 0 1,0 -17.2,0M1055.0,1569.8a8.6,8.6 0 1,0 17.2,0a8.6,8.6 0 1,0 -17.2,0M1057.2,1571.3a8.6,8.6 0 1,0 17.2,0a8.6,8.6 0 1,0 -17.2,0M1059.5,1572.8a8.6,8.6 0 1,0 17.2,0a8.6,8.6 0 1,0 -17.2,0M1061.8,1574.3a8.6,8.6 0 1,0 17.2,0a8.6,8.6 0 1,0 -17.2,0M1064.0,1575.7a8.6,8.6 0 1,0 17.2,0a8.6,8.6 0 1,0 -17.2,0M1066.3,1577.2a8.6,8.6 0 1,0 17.2,0a8.6,8.6 0 1,0 -17.2,0M1068.6,1578.7a8.6,8.6 0 1,0 17.2,0a8.6,8.6 0 1,0 -17.2,0M1070.8,1580.3a8.6,8.6 0 1,0 17.2,0a8.6,8.6 0 1,0 -17.2,0M1073.1,1581.9a8.6,8.6 0 1,0 17.2,0a8.6,8.6 0 1,0 -17.2,0M1075.3,1583.6a8.6,8.6 0 1,0 17.2,0a8.6,8.6 0 1,0 -17.2,0M1077.6,1585.2a8.6,8.6 0 1,0 17.2,0a8.6,8.6 0 1,0 -17.2,0M1079.9,1586.8a8.6,8.6 0 1,0 17.2,0a8.6,8.6 0 1,0 -17.2,0M1082.1,1588.5a8.6,8.6 0 1,0 17.2,0a8.6,8.6 0 1,0 -17.2,0M1084.4,1590.1a8.6,8.6 0 1,0 17.2,0a8.6,8.6 0 1,0 -17.2,0M1086.7,1591.6a8.6,8.6 0 1,0 17.2,0a8.6,8.6 0 1,0 -17.2,0M1088.9,1593.2a8.6,8.6 0 1,0 17.2,0a8.6,8.6 0 1,0 -17.2,0M1091.2,1594.6a8.6,8.6 0 1,0 17.2,0a8.6,8.6 0 1,0 -17.2,0M1093.5,1596.1a8.6,8.6 0 1,0 17.2,0a8.6,8.6 0 1,0 -17.2,0M1095.7,1597.4a8.6,8.6 0 1,0 17.2,0a8.6,8.6 0 1,0 -17.2,0M1098.0,1598.6a8.6,8.6 0 1,0 17.2,0a8.6,8.6 0 1,0 -17.2,0M1100.3,1599.8a8.6,8.6 0 1,0 17.2,0a8.6,8.6 0 1,0 -17.2,0M1102.5,1600.8a8.6,8.6 0 1,0 17.2,0a8.6,8.6 0 1,0 -17.2,0M1104.8,1601.7a8.6,8.6 0 1,0 17.2,0a8.6,8.6 0 1,0 -17.2,0M1107.1,1602.5a8.6,8.6 0 1,0 17.2,0a8.6,8.6 0 1,0 -17.2,0M1109.3,1603.2a8.6,8.6 0 1,0 17.2,0a8.6,8.6 0 1,0 -17.2,0M1111.6,1603.7a8.6,8.6 0 1,0 17.2,0a8.6,8.6 0 1,0 -17.2,0M1113.8,1604.3a8.6,8.6 0 1,0 17.2,0a8.6,8.6 0 1,0 -17.2,0M1116.1,1604.8a8.6,8.6 0 1,0 17.2,0a8.6,8.6 0 1,0 -17.2,0M1118.4,1605.3a8.6,8.6 0 1,0 17.2,0a8.6,8.6 0 1,0 -17.2,0M1120.6,1605.8a8.6,8.6 0 1,0 17.2,0a8.6,8.6 0 1,0 -17.2,0M1122.9,1606.2a8.6,8.6 0 1,0 17.2,0a8.6,8.6 0 1,0 -17.2,0M1125.2,1606.7a8.6,8.6 0 1,0 17.2,0a8.6,8.6 0 1,0 -17.2,0M1127.4,1607.1a8.6,8.6 0 1,0 17.2,0a8.6,8.6 0 1,0 -17.2,0M1129.7,1607.5a8.6,8.6 0 1,0 17.2,0a8.6,8.6 0 1,0 -17.2,0M1132.0,1607.9a8.6,8.6 0 1,0 17.2,0a8.6,8.6 0 1,0 -17.2,0M1134.2,1608.3a8.6,8.6 0 1,0 17.2,0a8.6,8.6 0 1,0 -17.2,0M1136.5,1608.6a8.6,8.6 0 1,0 17.2,0a8.6,8.6 0 1,0 -17.2,0M1138.8,1608.9a8.6,8.6 0 1,0 17.2,0a8.6,8.6 0 1,0 -17.2,0M1141.0,1609.2a8.6,8.6 0 1,0 17.2,0a8.6,8.6 0 1,0 -17.2,0M1143.3,1609.5a8.6,8.6 0 1,0 17.2,0a8.6,8.6 0 1,0 -17.2,0M1145.6,1609.7a8.6,8.6 0 1,0 17.2,0a8.6,8.6 0 1,0 -17.2,0M1147.8,1609.9a8.6,8.6 0 1,0 17.2,0a8.6,8.6 0 1,0 -17.2,0M1150.1,1610.0a8.6,8.6 0 1,0 17.2,0a8.6,8.6 0 1,0 -17.2,0M1152.3,1610.1a8.6,8.6 0 1,0 17.2,0a8.6,8.6 0 1,0 -17.2,0M1154.6,1610.1a8.6,8.6 0 1,0 17.2,0a8.6,8.6 0 1,0 -17.2,0M1156.9,1610.2a8.6,8.6 0 1,0 17.2,0a8.6,8.6 0 1,0 -17.2,0M1159.1,1610.2a8.6,8.6 0 1,0 17.2,0a8.6,8.6 0 1,0 -17.2,0M1161.4,1610.2a8.6,8.6 0 1,0 17.2,0a8.6,8.6 0 1,0 -17.2,0M1163.7,1610.2a8.6,8.6 0 1,0 17.2,0a8.6,8.6 0 1,0 -17.2,0M1165.9,1610.2a8.6,8.6 0 1,0 17.2,0a8.6,8.6 0 1,0 -17.2,0M1168.2,1610.2a8.6,8.6 0 1,0 17.2,0a8.6,8.6 0 1,0 -17.2,0M1170.5,1610.2a8.6,8.6 0 1,0 17.2,0a8.6,8.6 0 1,0 -17.2,0M1172.7,1610.2a8.6,8.6 0 1,0 17.2,0a8.6,8.6 0 1,0 -17.2,0M1175.0,1610.2a8.6,8.6 0 1,0 17.2,0a8.6,8.6 0 1,0 -17.2,0M1177.3,1610.2a8.6,8.6 0 1,0 17.2,0a8.6,8.6 0 1,0 -17.2,0M1179.5,1610.2a8.6,8.6 0 1,0 17.2,0a8.6,8.6 0 1,0 -17.2,0M1181.8,1610.2a8.6,8.6 0 1,0 17.2,0a8.6,8.6 0 1,0 -17.2,0M1184.1,1610.2a8.6,8.6 0 1,0 17.2,0a8.6,8.6 0 1,0 -17.2,0M1186.3,1610.2a8.6,8.6 0 1,0 17.2,0a8.6,8.6 0 1,0 -17.2,0M1188.6,1610.2a8.6,8.6 0 1,0 17.2,0a8.6,8.6 0 1,0 -17.2,0M1190.8,1610.2a8.6,8.6 0 1,0 17.2,0a8.6,8.6 0 1,0 -17.2,0M1193.1,1610.2a8.6,8.6 0 1,0 17.2,0a8.6,8.6 0 1,0 -17.2,0M1195.4,1610.2a8.6,8.6 0 1,0 17.2,0a8.6,8.6 0 1,0 -17.2,0M1197.6,1610.2a8.6,8.6 0 1,0 17.2,0a8.6,8.6 0 1,0 -17.2,0M1199.9,1610.2a8.6,8.6 0 1,0 17.2,0a8.6,8.6 0 1,0 -17.2,0M1202.2,1610.2a8.6,8.6 0 1,0 17.2,0a8.6,8.6 0 1,0 -17.2,0M1204.4,1610.1a8.6,8.6 0 1,0 17.2,0a8.6,8.6 0 1,0 -17.2,0M1206.7,1610.1a8.6,8.6 0 1,0 17.2,0a8.6,8.6 0 1,0 -17.2,0M1209.0,1610.1a8.6,8.6 0 1,0 17.2,0a8.6,8.6 0 1,0 -17.2,0M1211.2,1610.1a8.6,8.6 0 1,0 17.2,0a8.6,8.6 0 1,0 -17.2,0M1213.5,1610.0a8.6,8.6 0 1,0 17.2,0a8.6,8.6 0 1,0 -17.2,0M1215.8,1609.9a8.6,8.6 0 1,0 17.2,0a8.6,8.6 0 1,0 -17.2,0M1218.0,1609.9a8.6,8.6 0 1,0 17.2,0a8.6,8.6 0 1,0 -17.2,0M1220.3,1609.8a8.6,8.6 0 1,0 17.2,0a8.6,8.6 0 1,0 -17.2,0M1222.6,1609.7a8.6,8.6 0 1,0 17.2,0a8.6,8.6 0 1,0 -17.2,0M1224.8,1609.6a8.6,8.6 0 1,0 17.2,0a8.6,8.6 0 1,0 -17.2,0M1227.1,1609.5a8.6,8.6 0 1,0 17.2,0a8.6,8.6 0 1,0 -17.2,0M1229.3,1609.4a8.6,8.6 0 1,0 17.2,0a8.6,8.6 0 1,0 -17.2,0M1231.6,1609.3a8.6,8.6 0 1,0 17.2,0a8.6,8.6 0 1,0 -17.2,0M1233.9,1609.2a8.6,8.6 0 1,0 17.2,0a8.6,8.6 0 1,0 -17.2,0M1236.1,1609.1a8.6,8.6 0 1,0 17.2,0a8.6,8.6 0 1,0 -17.2,0M1238.4,1609.0a8.6,8.6 0 1,0 17.2,0a8.6,8.6 0 1,0 -17.2,0M1240.7,1608.9a8.6,8.6 0 1,0 17.2,0a8.6,8.6 0 1,0 -17.2,0M1242.9,1608.8a8.6,8.6 0 1,0 17.2,0a8.6,8.6 0 1,0 -17.2,0M1245.2,1608.7a8.6,8.6 0 1,0 17.2,0a8.6,8.6 0 1,0 -17.2,0M1247.5,1608.6a8.6,8.6 0 1,0 17.2,0a8.6,8.6 0 1,0 -17.2,0M1249.7,1608.5a8.6,8.6 0 1,0 17.2,0a8.6,8.6 0 1,0 -17.2,0M1252.0,1608.4a8.6,8.6 0 1,0 17.2,0a8.6,8.6 0 1,0 -17.2,0M1254.3,1608.4a8.6,8.6 0 1,0 17.2,0a8.6,8.6 0 1,0 -17.2,0M1256.5,1608.3a8.6,8.6 0 1,0 17.2,0a8.6,8.6 0 1,0 -17.2,0M1258.8,1608.2a8.6,8.6 0 1,0 17.2,0a8.6,8.6 0 1,0 -17.2,0M1261.1,1608.2a8.6,8.6 0 1,0 17.2,0a8.6,8.6 0 1,0 -17.2,0M1263.3,1608.1a8.6,8.6 0 1,0 17.2,0a8.6,8.6 0 1,0 -17.2,0M1265.6,1608.1a8.6,8.6 0 1,0 17.2,0a8.6,8.6 0 1,0 -17.2,0M1267.8,1608.0a8.6,8.6 0 1,0 17.2,0a8.6,8.6 0 1,0 -17.2,0M1270.1,1608.0a8.6,8.6 0 1,0 17.2,0a8.6,8.6 0 1,0 -17.2,0M1272.4,1608.0a8.6,8.6 0 1,0 17.2,0a8.6,8.6 0 1,0 -17.2,0M1274.6,1608.0a8.6,8.6 0 1,0 17.2,0a8.6,8.6 0 1,0 -17.2,0M1276.9,1608.1a8.6,8.6 0 1,0 17.2,0a8.6,8.6 0 1,0 -17.2,0M1279.2,1608.1a8.6,8.6 0 1,0 17.2,0a8.6,8.6 0 1,0 -17.2,0M1281.4,1608.2a8.6,8.6 0 1,0 17.2,0a8.6,8.6 0 1,0 -17.2,0M1283.7,1608.2a8.6,8.6 0 1,0 17.2,0a8.6,8.6 0 1,0 -17.2,0M1286.0,1608.3a8.6,8.6 0 1,0 17.2,0a8.6,8.6 0 1,0 -17.2,0M1288.2,1608.4a8.6,8.6 0 1,0 17.2,0a8.6,8.6 0 1,0 -17.2,0M1290.5,1608.5a8.6,8.6 0 1,0 17.2,0a8.6,8.6 0 1,0 -17.2,0M1292.8,1608.7a8.6,8.6 0 1,0 17.2,0a8.6,8.6 0 1,0 -17.2,0M1295.0,1608.8a8.6,8.6 0 1,0 17.2,0a8.6,8.6 0 1,0 -17.2,0M1297.3,1609.0a8.6,8.6 0 1,0 17.2,0a8.6,8.6 0 1,0 -17.2,0M1299.6,1609.1a8.6,8.6 0 1,0 17.2,0a8.6,8.6 0 1,0 -17.2,0M1301.8,1609.3a8.6,8.6 0 1,0 17.2,0a8.6,8.6 0 1,0 -17.2,0M1304.1,1609.5a8.6,8.6 0 1,0 17.2,0a8.6,8.6 0 1,0 -17.2,0M1306.3,1609.6a8.6,8.6 0 1,0 17.2,0a8.6,8.6 0 1,0 -17.2,0M1308.6,1609.8a8.6,8.6 0 1,0 17.2,0a8.6,8.6 0 1,0 -17.2,0M1310.9,1610.0a8.6,8.6 0 1,0 17.2,0a8.6,8.6 0 1,0 -17.2,0M1313.1,1610.2a8.6,8.6 0 1,0 17.2,0a8.6,8.6 0 1,0 -17.2,0M1315.4,1610.4a8.6,8.6 0 1,0 17.2,0a8.6,8.6 0 1,0 -17.2,0M1317.7,1610.6a8.6,8.6 0 1,0 17.2,0a8.6,8.6 0 1,0 -17.2,0M1319.9,1610.8a8.6,8.6 0 1,0 17.2,0a8.6,8.6 0 1,0 -17.2,0M1322.2,1611.0a8.6,8.6 0 1,0 17.2,0a8.6,8.6 0 1,0 -17.2,0M1324.5,1611.2a8.6,8.6 0 1,0 17.2,0a8.6,8.6 0 1,0 -17.2,0M1326.7,1611.4a8.6,8.6 0 1,0 17.2,0a8.6,8.6 0 1,0 -17.2,0M1329.0,1611.6a8.6,8.6 0 1,0 17.2,0a8.6,8.6 0 1,0 -17.2,0M1331.3,1611.8a8.6,8.6 0 1,0 17.2,0a8.6,8.6 0 1,0 -17.2,0M1333.5,1612.0a8.6,8.6 0 1,0 17.2,0a8.6,8.6 0 1,0 -17.2,0M1335.8,1612.2a8.6,8.6 0 1,0 17.2,0a8.6,8.6 0 1,0 -17.2,0M1338.1,1612.4a8.6,8.6 0 1,0 17.2,0a8.6,8.6 0 1,0 -17.2,0M1340.3,1612.6a8.6,8.6 0 1,0 17.2,0a8.6,8.6 0 1,0 -17.2,0M1342.6,1612.8a8.6,8.6 0 1,0 17.2,0a8.6,8.6 0 1,0 -17.2,0M1344.8,1612.9a8.6,8.6 0 1,0 17.2,0a8.6,8.6 0 1,0 -17.2,0M1347.1,1613.1a8.6,8.6 0 1,0 17.2,0a8.6,8.6 0 1,0 -17.2,0M1349.4,1613.3a8.6,8.6 0 1,0 17.2,0a8.6,8.6 0 1,0 -17.2,0M1351.6,1613.5a8.6,8.6 0 1,0 17.2,0a8.6,8.6 0 1,0 -17.2,0M1353.9,1613.7a8.6,8.6 0 1,0 17.2,0a8.6,8.6 0 1,0 -17.2,0M1356.2,1613.9a8.6,8.6 0 1,0 17.2,0a8.6,8.6 0 1,0 -17.2,0M1358.4,1614.1a8.6,8.6 0 1,0 17.2,0a8.6,8.6 0 1,0 -17.2,0M1360.7,1614.4a8.6,8.6 0 1,0 17.2,0a8.6,8.6 0 1,0 -17.2,0M1363.0,1614.6a8.6,8.6 0 1,0 17.2,0a8.6,8.6 0 1,0 -17.2,0M1365.2,1614.8a8.6,8.6 0 1,0 17.2,0a8.6,8.6 0 1,0 -17.2,0M1367.5,1615.0a8.6,8.6 0 1,0 17.2,0a8.6,8.6 0 1,0 -17.2,0M1369.8,1615.2a8.6,8.6 0 1,0 17.2,0a8.6,8.6 0 1,0 -17.2,0M1372.0,1615.5a8.6,8.6 0 1,0 17.2,0a8.6,8.6 0 1,0 -17.2,0M1374.3,1615.7a8.6,8.6 0 1,0 17.2,0a8.6,8.6 0 1,0 -17.2,0M1376.6,1615.9a8.6,8.6 0 1,0 17.2,0a8.6,8.6 0 1,0 -17.2,0M1378.8,1616.1a8.6,8.6 0 1,0 17.2,0a8.6,8.6 0 1,0 -17.2,0M1381.1,1616.4a8.6,8.6 0 1,0 17.2,0a8.6,8.6 0 1,0 -17.2,0M1383.3,1616.6a8.6,8.6 0 1,0 17.2,0a8.6,8.6 0 1,0 -17.2,0M1385.6,1616.9a8.6,8.6 0 1,0 17.2,0a8.6,8.6 0 1,0 -17.2,0M1387.9,1617.1a8.6,8.6 0 1,0 17.2,0a8.6,8.6 0 1,0 -17.2,0M1390.1,1617.3a8.6,8.6 0 1,0 17.2,0a8.6,8.6 0 1,0 -17.2,0M1392.4,1617.6a8.6,8.6 0 1,0 17.2,0a8.6,8.6 0 1,0 -17.2,0M1394.7,1617.8a8.6,8.6 0 1,0 17.2,0a8.6,8.6 0 1,0 -17.2,0M1396.9,1618.1a8.6,8.6 0 1,0 17.2,0a8.6,8.6 0 1,0 -17.2,0M1399.2,1618.3a8.6,8.6 0 1,0 17.2,0a8.6,8.6 0 1,0 -17.2,0M1401.5,1618.5a8.6,8.6 0 1,0 17.2,0a8.6,8.6 0 1,0 -17.2,0M1403.7,1618.8a8.6,8.6 0 1,0 17.2,0a8.6,8.6 0 1,0 -17.2,0M1406.0,1619.0a8.6,8.6 0 1,0 17.2,0a8.6,8.6 0 1,0 -17.2,0M1408.3,1619.3a8.6,8.6 0 1,0 17.2,0a8.6,8.6 0 1,0 -17.2,0M1410.5,1619.5a8.6,8.6 0 1,0 17.2,0a8.6,8.6 0 1,0 -17.2,0M1412.8,1619.7a8.6,8.6 0 1,0 17.2,0a8.6,8.6 0 1,0 -17.2,0M1415.1,1620.0a8.6,8.6 0 1,0 17.2,0a8.6,8.6 0 1,0 -17.2,0M1417.3,1620.2a8.6,8.6 0 1,0 17.2,0a8.6,8.6 0 1,0 -17.2,0M1419.6,1620.5a8.6,8.6 0 1,0 17.2,0a8.6,8.6 0 1,0 -17.2,0M1421.8,1620.7a8.6,8.6 0 1,0 17.2,0a8.6,8.6 0 1,0 -17.2,0M1424.1,1620.9a8.6,8.6 0 1,0 17.2,0a8.6,8.6 0 1,0 -17.2,0M1426.4,1621.2a8.6,8.6 0 1,0 17.2,0a8.6,8.6 0 1,0 -17.2,0M1428.6,1621.4a8.6,8.6 0 1,0 17.2,0a8.6,8.6 0 1,0 -17.2,0M1430.9,1621.6a8.6,8.6 0 1,0 17.2,0a8.6,8.6 0 1,0 -17.2,0M1433.2,1621.9a8.6,8.6 0 1,0 17.2,0a8.6,8.6 0 1,0 -17.2,0M1435.4,1622.1a8.6,8.6 0 1,0 17.2,0a8.6,8.6 0 1,0 -17.2,0M1437.7,1622.3a8.6,8.6 0 1,0 17.2,0a8.6,8.6 0 1,0 -17.2,0M1440.0,1622.6a8.6,8.6 0 1,0 17.2,0a8.6,8.6 0 1,0 -17.2,0M1442.2,1622.8a8.6,8.6 0 1,0 17.2,0a8.6,8.6 0 1,0 -17.2,0M1444.5,1623.0a8.6,8.6 0 1,0 17.2,0a8.6,8.6 0 1,0 -17.2,0M1446.8,1623.3a8.6,8.6 0 1,0 17.2,0a8.6,8.6 0 1,0 -17.2,0M1449.0,1623.5a8.6,8.6 0 1,0 17.2,0a8.6,8.6 0 1,0 -17.2,0M1451.3,1623.7a8.6,8.6 0 1,0 17.2,0a8.6,8.6 0 1,0 -17.2,0M1453.6,1624.0a8.6,8.6 0 1,0 17.2,0a8.6,8.6 0 1,0 -17.2,0M1455.8,1624.2a8.6,8.6 0 1,0 17.2,0a8.6,8.6 0 1,0 -17.2,0M1458.1,1624.4a8.6,8.6 0 1,0 17.2,0a8.6,8.6 0 1,0 -17.2,0M1460.3,1624.7a8.6,8.6 0 1,0 17.2,0a8.6,8.6 0 1,0 -17.2,0M1462.6,1624.9a8.6,8.6 0 1,0 17.2,0a8.6,8.6 0 1,0 -17.2,0M1464.9,1625.2a8.6,8.6 0 1,0 17.2,0a8.6,8.6 0 1,0 -17.2,0M1467.1,1625.4a8.6,8.6 0 1,0 17.2,0a8.6,8.6 0 1,0 -17.2,0M1469.4,1625.6a8.6,8.6 0 1,0 17.2,0a8.6,8.6 0 1,0 -17.2,0M1471.7,1625.9a8.6,8.6 0 1,0 17.2,0a8.6,8.6 0 1,0 -17.2,0M1473.9,1626.1a8.6,8.6 0 1,0 17.2,0a8.6,8.6 0 1,0 -17.2,0M1476.2,1626.3a8.6,8.6 0 1,0 17.2,0a8.6,8.6 0 1,0 -17.2,0M1478.5,1626.6a8.6,8.6 0 1,0 17.2,0a8.6,8.6 0 1,0 -17.2,0M1480.7,1626.8a8.6,8.6 0 1,0 17.2,0a8.6,8.6 0 1,0 -17.2,0M1483.0,1627.1a8.6,8.6 0 1,0 17.2,0a8.6,8.6 0 1,0 -17.2,0M1485.3,1627.3a8.6,8.6 0 1,0 17.2,0a8.6,8.6 0 1,0 -17.2,0M1487.5,1627.5a8.6,8.6 0 1,0 17.2,0a8.6,8.6 0 1,0 -17.2,0M1489.8,1627.8a8.6,8.6 0 1,0 17.2,0a8.6,8.6 0 1,0 -17.2,0M1492.0,1628.0a8.6,8.6 0 1,0 17.2,0a8.6,8.6 0 1,0 -17.2,0M1494.3,1628.2a8.6,8.6 0 1,0 17.2,0a8.6,8.6 0 1,0 -17.2,0M1496.6,1628.4a8.6,8.6 0 1,0 17.2,0a8.6,8.6 0 1,0 -17.2,0M1498.8,1628.7a8.6,8.6 0 1,0 17.2,0a8.6,8.6 0 1,0 -17.2,0M1501.1,1628.9a8.6,8.6 0 1,0 17.2,0a8.6,8.6 0 1,0 -17.2,0M1503.4,1629.1a8.6,8.6 0 1,0 17.2,0a8.6,8.6 0 1,0 -17.2,0M1505.6,1629.3a8.6,8.6 0 1,0 17.2,0a8.6,8.6 0 1,0 -17.2,0M1507.9,1629.6a8.6,8.6 0 1,0 17.2,0a8.6,8.6 0 1,0 -17.2,0M1510.2,1629.8a8.6,8.6 0 1,0 17.2,0a8.6,8.6 0 1,0 -17.2,0M1512.4,1630.0a8.6,8.6 0 1,0 17.2,0a8.6,8.6 0 1,0 -17.2,0M1514.7,1630.2a8.6,8.6 0 1,0 17.2,0a8.6,8.6 0 1,0 -17.2,0M1517.0,1630.4a8.6,8.6 0 1,0 17.2,0a8.6,8.6 0 1,0 -17.2,0M1519.2,1630.6a8.6,8.6 0 1,0 17.2,0a8.6,8.6 0 1,0 -17.2,0M1521.5,1630.8a8.6,8.6 0 1,0 17.2,0a8.6,8.6 0 1,0 -17.2,0M1523.8,1631.0a8.6,8.6 0 1,0 17.2,0a8.6,8.6 0 1,0 -17.2,0M1526.0,1631.2a8.6,8.6 0 1,0 17.2,0a8.6,8.6 0 1,0 -17.2,0M1528.3,1631.4a8.6,8.6 0 1,0 17.2,0a8.6,8.6 0 1,0 -17.2,0M1530.5,1631.6a8.6,8.6 0 1,0 17.2,0a8.6,8.6 0 1,0 -17.2,0M1532.8,1631.8a8.6,8.6 0 1,0 17.2,0a8.6,8.6 0 1,0 -17.2,0M1535.1,1632.0a8.6,8.6 0 1,0 17.2,0a8.6,8.6 0 1,0 -17.2,0M1537.3,1632.2a8.6,8.6 0 1,0 17.2,0a8.6,8.6 0 1,0 -17.2,0M1539.6,1632.3a8.6,8.6 0 1,0 17.2,0a8.6,8.6 0 1,0 -17.2,0M1541.9,1632.5a8.6,8.6 0 1,0 17.2,0a8.6,8.6 0 1,0 -17.2,0M1544.1,1632.7a8.6,8.6 0 1,0 17.2,0a8.6,8.6 0 1,0 -17.2,0M1546.4,1632.9a8.6,8.6 0 1,0 17.2,0a8.6,8.6 0 1,0 -17.2,0M1548.7,1633.1a8.6,8.6 0 1,0 17.2,0a8.6,8.6 0 1,0 -17.2,0M1550.9,1633.3a8.6,8.6 0 1,0 17.2,0a8.6,8.6 0 1,0 -17.2,0M1553.2,1633.5a8.6,8.6 0 1,0 17.2,0a8.6,8.6 0 1,0 -17.2,0M1555.5,1633.7a8.6,8.6 0 1,0 17.2,0a8.6,8.6 0 1,0 -17.2,0M1557.7,1633.9a8.6,8.6 0 1,0 17.2,0a8.6,8.6 0 1,0 -17.2,0M1560.0,1634.0a8.6,8.6 0 1,0 17.2,0a8.6,8.6 0 1,0 -17.2,0M1562.3,1634.2a8.6,8.6 0 1,0 17.2,0a8.6,8.6 0 1,0 -17.2,0M1564.5,1634.4a8.6,8.6 0 1,0 17.2,0a8.6,8.6 0 1,0 -17.2,0M1566.8,1634.6a8.6,8.6 0 1,0 17.2,0a8.6,8.6 0 1,0 -17.2,0M1569.0,1634.8a8.6,8.6 0 1,0 17.2,0a8.6,8.6 0 1,0 -17.2,0M1571.3,1634.9a8.6,8.6 0 1,0 17.2,0a8.6,8.6 0 1,0 -17.2,0M1573.6,1635.1a8.6,8.6 0 1,0 17.2,0a8.6,8.6 0 1,0 -17.2,0M1575.8,1635.3a8.6,8.6 0 1,0 17.2,0a8.6,8.6 0 1,0 -17.2,0M1578.1,1635.4a8.6,8.6 0 1,0 17.2,0a8.6,8.6 0 1,0 -17.2,0M1580.4,1635.6a8.6,8.6 0 1,0 17.2,0a8.6,8.6 0 1,0 -17.2,0M1582.6,1635.8a8.6,8.6 0 1,0 17.2,0a8.6,8.6 0 1,0 -17.2,0M1584.9,1635.9a8.6,8.6 0 1,0 17.2,0a8.6,8.6 0 1,0 -17.2,0M1587.2,1636.1a8.6,8.6 0 1,0 17.2,0a8.6,8.6 0 1,0 -17.2,0M1589.4,1636.3a8.6,8.6 0 1,0 17.2,0a8.6,8.6 0 1,0 -17.2,0M1591.7,1636.4a8.6,8.6 0 1,0 17.2,0a8.6,8.6 0 1,0 -17.2,0M1594.0,1636.6a8.6,8.6 0 1,0 17.2,0a8.6,8.6 0 1,0 -17.2,0M1596.2,1636.7a8.6,8.6 0 1,0 17.2,0a8.6,8.6 0 1,0 -17.2,0M1598.5,1636.9a8.6,8.6 0 1,0 17.2,0a8.6,8.6 0 1,0 -17.2,0M1600.8,1637.0a8.6,8.6 0 1,0 17.2,0a8.6,8.6 0 1,0 -17.2,0M1603.0,1637.1a8.6,8.6 0 1,0 17.2,0a8.6,8.6 0 1,0 -17.2,0M1605.3,1637.3a8.6,8.6 0 1,0 17.2,0a8.6,8.6 0 1,0 -17.2,0M1607.5,1637.4a8.6,8.6 0 1,0 17.2,0a8.6,8.6 0 1,0 -17.2,0M1609.8,1637.5a8.6,8.6 0 1,0 17.2,0a8.6,8.6 0 1,0 -17.2,0M1612.1,1637.7a8.6,8.6 0 1,0 17.2,0a8.6,8.6 0 1,0 -17.2,0M1614.3,1637.8a8.6,8.6 0 1,0 17.2,0a8.6,8.6 0 1,0 -17.2,0M1616.6,1637.9a8.6,8.6 0 1,0 17.2,0a8.6,8.6 0 1,0 -17.2,0M1618.9,1638.0a8.6,8.6 0 1,0 17.2,0a8.6,8.6 0 1,0 -17.2,0M1621.1,1638.1a8.6,8.6 0 1,0 17.2,0a8.6,8.6 0 1,0 -17.2,0M1623.4,1638.2a8.6,8.6 0 1,0 17.2,0a8.6,8.6 0 1,0 -17.2,0M1625.7,1638.3a8.6,8.6 0 1,0 17.2,0a8.6,8.6 0 1,0 -17.2,0M1627.9,1638.5a8.6,8.6 0 1,0 17.2,0a8.6,8.6 0 1,0 -17.2,0M1630.2,1638.6a8.6,8.6 0 1,0 17.2,0a8.6,8.6 0 1,0 -17.2,0M1632.5,1638.7a8.6,8.6 0 1,0 17.2,0a8.6,8.6 0 1,0 -17.2,0M1634.7,1638.8a8.6,8.6 0 1,0 17.2,0a8.6,8.6 0 1,0 -17.2,0M1637.0,1638.9a8.6,8.6 0 1,0 17.2,0a8.6,8.6 0 1,0 -17.2,0M1639.3,1639.0a8.6,8.6 0 1,0 17.2,0a8.6,8.6 0 1,0 -17.2,0M1641.5,1639.1a8.6,8.6 0 1,0 17.2,0a8.6,8.6 0 1,0 -17.2,0M1643.8,1639.2a8.6,8.6 0 1,0 17.2,0a8.6,8.6 0 1,0 -17.2,0M1646.0,1639.3a8.6,8.6 0 1,0 17.2,0a8.6,8.6 0 1,0 -17.2,0M1648.3,1639.4a8.6,8.6 0 1,0 17.2,0a8.6,8.6 0 1,0 -17.2,0M1650.6,1639.5a8.6,8.6 0 1,0 17.2,0a8.6,8.6 0 1,0 -17.2,0M1652.8,1639.6a8.6,8.6 0 1,0 17.2,0a8.6,8.6 0 1,0 -17.2,0M1655.1,1639.7a8.6,8.6 0 1,0 17.2,0a8.6,8.6 0 1,0 -17.2,0M1657.4,1639.8a8.6,8.6 0 1,0 17.2,0a8.6,8.6 0 1,0 -17.2,0M1659.6,1639.9a8.6,8.6 0 1,0 17.2,0a8.6,8.6 0 1,0 -17.2,0M1661.9,1640.0a8.6,8.6 0 1,0 17.2,0a8.6,8.6 0 1,0 -17.2,0M1664.2,1640.1a8.6,8.6 0 1,0 17.2,0a8.6,8.6 0 1,0 -17.2,0M1666.4,1640.2a8.6,8.6 0 1,0 17.2,0a8.6,8.6 0 1,0 -17.2,0M1668.7,1640.3a8.6,8.6 0 1,0 17.2,0a8.6,8.6 0 1,0 -17.2,0M1671.0,1640.4a8.6,8.6 0 1,0 17.2,0a8.6,8.6 0 1,0 -17.2,0M1673.2,1640.5a8.6,8.6 0 1,0 17.2,0a8.6,8.6 0 1,0 -17.2,0M1675.5,1640.6a8.6,8.6 0 1,0 17.2,0a8.6,8.6 0 1,0 -17.2,0M1677.8,1640.7a8.6,8.6 0 1,0 17.2,0a8.6,8.6 0 1,0 -17.2,0M1680.0,1640.7a8.6,8.6 0 1,0 17.2,0a8.6,8.6 0 1,0 -17.2,0M1682.3,1640.8a8.6,8.6 0 1,0 17.2,0a8.6,8.6 0 1,0 -17.2,0M1684.5,1640.9a8.6,8.6 0 1,0 17.2,0a8.6,8.6 0 1,0 -17.2,0M1686.8,1641.0a8.6,8.6 0 1,0 17.2,0a8.6,8.6 0 1,0 -17.2,0M1689.1,1641.1a8.6,8.6 0 1,0 17.2,0a8.6,8.6 0 1,0 -17.2,0M1691.3,1641.1a8.6,8.6 0 1,0 17.2,0a8.6,8.6 0 1,0 -17.2,0M1693.6,1641.2a8.6,8.6 0 1,0 17.2,0a8.6,8.6 0 1,0 -17.2,0M1695.9,1641.3a8.6,8.6 0 1,0 17.2,0a8.6,8.6 0 1,0 -17.2,0M1698.1,1641.3a8.6,8.6 0 1,0 17.2,0a8.6,8.6 0 1,0 -17.2,0M1700.4,1641.4a8.6,8.6 0 1,0 17.2,0a8.6,8.6 0 1,0 -17.2,0M1702.7,1641.5a8.6,8.6 0 1,0 17.2,0a8.6,8.6 0 1,0 -17.2,0M1704.9,1641.5a8.6,8.6 0 1,0 17.2,0a8.6,8.6 0 1,0 -17.2,0M1707.2,1641.6a8.6,8.6 0 1,0 17.2,0a8.6,8.6 0 1,0 -17.2,0M1709.5,1641.6a8.6,8.6 0 1,0 17.2,0a8.6,8.6 0 1,0 -17.2,0M1711.7,1641.7a8.6,8.6 0 1,0 17.2,0a8.6,8.6 0 1,0 -17.2,0M1714.0,1641.7a8.6,8.6 0 1,0 17.2,0a8.6,8.6 0 1,0 -17.2,0M1716.3,1641.8a8.6,8.6 0 1,0 17.2,0a8.6,8.6 0 1,0 -17.2,0M1718.5,1641.8a8.6,8.6 0 1,0 17.2,0a8.6,8.6 0 1,0 -17.2,0M1720.8,1641.8a8.6,8.6 0 1,0 17.2,0a8.6,8.6 0 1,0 -17.2,0M1723.0,1641.9a8.6,8.6 0 1,0 17.2,0a8.6,8.6 0 1,0 -17.2,0M1725.3,1641.9a8.6,8.6 0 1,0 17.2,0a8.6,8.6 0 1,0 -17.2,0M1727.6,1641.9a8.6,8.6 0 1,0 17.2,0a8.6,8.6 0 1,0 -17.2,0M1729.8,1642.0a8.6,8.6 0 1,0 17.2,0a8.6,8.6 0 1,0 -17.2,0M1732.1,1642.0a8.6,8.6 0 1,0 17.2,0a8.6,8.6 0 1,0 -17.2,0M1734.4,1642.0a8.6,8.6 0 1,0 17.2,0a8.6,8.6 0 1,0 -17.2,0M1736.6,1642.0a8.6,8.6 0 1,0 17.2,0a8.6,8.6 0 1,0 -17.2,0M1738.9,1642.1a8.6,8.6 0 1,0 17.2,0a8.6,8.6 0 1,0 -17.2,0M1741.2,1642.1a8.6,8.6 0 1,0 17.2,0a8.6,8.6 0 1,0 -17.2,0M1743.4,1642.1a8.6,8.6 0 1,0 17.2,0a8.6,8.6 0 1,0 -17.2,0M1745.7,1642.1a8.6,8.6 0 1,0 17.2,0a8.6,8.6 0 1,0 -17.2,0M1748.0,1642.2a8.6,8.6 0 1,0 17.2,0a8.6,8.6 0 1,0 -17.2,0M1750.2,1642.2a8.6,8.6 0 1,0 17.2,0a8.6,8.6 0 1,0 -17.2,0M1752.5,1642.2a8.6,8.6 0 1,0 17.2,0a8.6,8.6 0 1,0 -17.2,0M1754.8,1642.2a8.6,8.6 0 1,0 17.2,0a8.6,8.6 0 1,0 -17.2,0M1757.0,1642.2a8.6,8.6 0 1,0 17.2,0a8.6,8.6 0 1,0 -17.2,0M1759.3,1642.3a8.6,8.6 0 1,0 17.2,0a8.6,8.6 0 1,0 -17.2,0M1761.5,1642.3a8.6,8.6 0 1,0 17.2,0a8.6,8.6 0 1,0 -17.2,0M1763.8,1642.3a8.6,8.6 0 1,0 17.2,0a8.6,8.6 0 1,0 -17.2,0M1766.1,1642.3a8.6,8.6 0 1,0 17.2,0a8.6,8.6 0 1,0 -17.2,0M1768.3,1642.3a8.6,8.6 0 1,0 17.2,0a8.6,8.6 0 1,0 -17.2,0M1770.6,1642.4a8.6,8.6 0 1,0 17.2,0a8.6,8.6 0 1,0 -17.2,0M1772.9,1642.4a8.6,8.6 0 1,0 17.2,0a8.6,8.6 0 1,0 -17.2,0M1775.1,1642.4a8.6,8.6 0 1,0 17.2,0a8.6,8.6 0 1,0 -17.2,0M1777.4,1642.4a8.6,8.6 0 1,0 17.2,0a8.6,8.6 0 1,0 -17.2,0M1779.7,1642.4a8.6,8.6 0 1,0 17.2,0a8.6,8.6 0 1,0 -17.2,0M1781.9,1642.5a8.6,8.6 0 1,0 17.2,0a8.6,8.6 0 1,0 -17.2,0M1784.2,1642.5a8.6,8.6 0 1,0 17.2,0a8.6,8.6 0 1,0 -17.2,0M1786.5,1642.5a8.6,8.6 0 1,0 17.2,0a8.6,8.6 0 1,0 -17.2,0M1788.7,1642.5a8.6,8.6 0 1,0 17.2,0a8.6,8.6 0 1,0 -17.2,0M1791.0,1642.5a8.6,8.6 0 1,0 17.2,0a8.6,8.6 0 1,0 -17.2,0M1793.3,1642.5a8.6,8.6 0 1,0 17.2,0a8.6,8.6 0 1,0 -17.2,0M1795.5,1642.6a8.6,8.6 0 1,0 17.2,0a8.6,8.6 0 1,0 -17.2,0M1797.8,1642.6a8.6,8.6 0 1,0 17.2,0a8.6,8.6 0 1,0 -17.2,0M1800.0,1642.6a8.6,8.6 0 1,0 17.2,0a8.6,8.6 0 1,0 -17.2,0M1802.3,1642.6a8.6,8.6 0 1,0 17.2,0a8.6,8.6 0 1,0 -17.2,0M1804.6,1642.6a8.6,8.6 0 1,0 17.2,0a8.6,8.6 0 1,0 -17.2,0M1806.8,1642.6a8.6,8.6 0 1,0 17.2,0a8.6,8.6 0 1,0 -17.2,0M1809.1,1642.6a8.6,8.6 0 1,0 17.2,0a8.6,8.6 0 1,0 -17.2,0M1811.4,1642.7a8.6,8.6 0 1,0 17.2,0a8.6,8.6 0 1,0 -17.2,0M1813.6,1642.7a8.6,8.6 0 1,0 17.2,0a8.6,8.6 0 1,0 -17.2,0M1815.9,1642.7a8.6,8.6 0 1,0 17.2,0a8.6,8.6 0 1,0 -17.2,0M1818.2,1642.7a8.6,8.6 0 1,0 17.2,0a8.6,8.6 0 1,0 -17.2,0M1820.4,1642.7a8.6,8.6 0 1,0 17.2,0a8.6,8.6 0 1,0 -17.2,0M1822.7,1642.7a8.6,8.6 0 1,0 17.2,0a8.6,8.6 0 1,0 -17.2,0M1825.0,1642.7a8.6,8.6 0 1,0 17.2,0a8.6,8.6 0 1,0 -17.2,0M1827.2,1642.7a8.6,8.6 0 1,0 17.2,0a8.6,8.6 0 1,0 -17.2,0M1829.5,1642.8a8.6,8.6 0 1,0 17.2,0a8.6,8.6 0 1,0 -17.2,0M1831.8,1642.8a8.6,8.6 0 1,0 17.2,0a8.6,8.6 0 1,0 -17.2,0M1834.0,1642.8a8.6,8.6 0 1,0 17.2,0a8.6,8.6 0 1,0 -17.2,0M1836.3,1642.8a8.6,8.6 0 1,0 17.2,0a8.6,8.6 0 1,0 -17.2,0M1838.5,1642.8a8.6,8.6 0 1,0 17.2,0a8.6,8.6 0 1,0 -17.2,0M1840.8,1642.8a8.6,8.6 0 1,0 17.2,0a8.6,8.6 0 1,0 -17.2,0M1843.1,1642.8a8.6,8.6 0 1,0 17.2,0a8.6,8.6 0 1,0 -17.2,0M1845.3,1642.8a8.6,8.6 0 1,0 17.2,0a8.6,8.6 0 1,0 -17.2,0M1847.6,1642.8a8.6,8.6 0 1,0 17.2,0a8.6,8.6 0 1,0 -17.2,0M1849.9,1642.9a8.6,8.6 0 1,0 17.2,0a8.6,8.6 0 1,0 -17.2,0M1852.1,1642.9a8.6,8.6 0 1,0 17.2,0a8.6,8.6 0 1,0 -17.2,0M1854.4,1642.9a8.6,8.6 0 1,0 17.2,0a8.6,8.6 0 1,0 -17.2,0M1856.7,1642.9a8.6,8.6 0 1,0 17.2,0a8.6,8.6 0 1,0 -17.2,0M1858.9,1642.9a8.6,8.6 0 1,0 17.2,0a8.6,8.6 0 1,0 -17.2,0M1861.2,1642.9a8.6,8.6 0 1,0 17.2,0a8.6,8.6 0 1,0 -17.2,0M1863.5,1642.9a8.6,8.6 0 1,0 17.2,0a8.6,8.6 0 1,0 -17.2,0M1865.7,1642.9a8.6,8.6 0 1,0 17.2,0a8.6,8.6 0 1,0 -17.2,0M1868.0,1642.9a8.6,8.6 0 1,0 17.2,0a8.6,8.6 0 1,0 -17.2,0M1870.3,1642.9a8.6,8.6 0 1,0 17.2,0a8.6,8.6 0 1,0 -17.2,0M1872.5,1642.9a8.6,8.6 0 1,0 17.2,0a8.6,8.6 0 1,0 -17.2,0M1874.8,1642.9a8.6,8.6 0 1,0 17.2,0a8.6,8.6 0 1,0 -17.2,0M1877.0,1643.0a8.6,8.6 0 1,0 17.2,0a8.6,8.6 0 1,0 -17.2,0M1879.3,1643.0a8.6,8.6 0 1,0 17.2,0a8.6,8.6 0 1,0 -17.2,0M1881.6,1643.0a8.6,8.6 0 1,0 17.2,0a8.6,8.6 0 1,0 -17.2,0M1883.8,1643.0a8.6,8.6 0 1,0 17.2,0a8.6,8.6 0 1,0 -17.2,0M1886.1,1643.0a8.6,8.6 0 1,0 17.2,0a8.6,8.6 0 1,0 -17.2,0M1888.4,1643.0a8.6,8.6 0 1,0 17.2,0a8.6,8.6 0 1,0 -17.2,0M1890.6,1643.0a8.6,8.6 0 1,0 17.2,0a8.6,8.6 0 1,0 -17.2,0M1892.9,1643.0a8.6,8.6 0 1,0 17.2,0a8.6,8.6 0 1,0 -17.2,0M1895.2,1643.0a8.6,8.6 0 1,0 17.2,0a8.6,8.6 0 1,0 -17.2,0M1897.4,1643.0a8.6,8.6 0 1,0 17.2,0a8.6,8.6 0 1,0 -17.2,0M1899.7,1643.0a8.6,8.6 0 1,0 17.2,0a8.6,8.6 0 1,0 -17.2,0M1902.0,1643.0a8.6,8.6 0 1,0 17.2,0a8.6,8.6 0 1,0 -17.2,0M1904.2,1643.0a8.6,8.6 0 1,0 17.2,0a8.6,8.6 0 1,0 -17.2,0M1906.5,1643.0a8.6,8.6 0 1,0 17.2,0a8.6,8.6 0 1,0 -17.2,0M1908.8,1643.0a8.6,8.6 0 1,0 17.2,0a8.6,8.6 0 1,0 -17.2,0M1911.0,1643.1a8.6,8.6 0 1,0 17.2,0a8.6,8.6 0 1,0 -17.2,0M1913.3,1643.1a8.6,8.6 0 1,0 17.2,0a8.6,8.6 0 1,0 -17.2,0M1915.5,1643.1a8.6,8.6 0 1,0 17.2,0a8.6,8.6 0 1,0 -17.2,0M1917.8,1643.1a8.6,8.6 0 1,0 17.2,0a8.6,8.6 0 1,0 -17.2,0M1920.1,1643.1a8.6,8.6 0 1,0 17.2,0a8.6,8.6 0 1,0 -17.2,0M1922.3,1643.1a8.6,8.6 0 1,0 17.2,0a8.6,8.6 0 1,0 -17.2,0M1924.6,1643.1a8.6,8.6 0 1,0 17.2,0a8.6,8.6 0 1,0 -17.2,0M1926.9,1643.1a8.6,8.6 0 1,0 17.2,0a8.6,8.6 0 1,0 -17.2,0M1929.1,1643.1a8.6,8.6 0 1,0 17.2,0a8.6,8.6 0 1,0 -17.2,0M1931.4,1643.1a8.6,8.6 0 1,0 17.2,0a8.6,8.6 0 1,0 -17.2,0M1933.7,1643.1a8.6,8.6 0 1,0 17.2,0a8.6,8.6 0 1,0 -17.2,0M1935.9,1643.1a8.6,8.6 0 1,0 17.2,0a8.6,8.6 0 1,0 -17.2,0M1938.2,1643.1a8.6,8.6 0 1,0 17.2,0a8.6,8.6 0 1,0 -17.2,0M1940.5,1643.1a8.6,8.6 0 1,0 17.2,0a8.6,8.6 0 1,0 -17.2,0M1942.7,1643.1a8.6,8.6 0 1,0 17.2,0a8.6,8.6 0 1,0 -17.2,0M1945.0,1643.1a8.6,8.6 0 1,0 17.2,0a8.6,8.6 0 1,0 -17.2,0M1947.3,1643.1a8.6,8.6 0 1,0 17.2,0a8.6,8.6 0 1,0 -17.2,0M1949.5,1643.1a8.6,8.6 0 1,0 17.2,0a8.6,8.6 0 1,0 -17.2,0M1951.8,1643.1a8.6,8.6 0 1,0 17.2,0a8.6,8.6 0 1,0 -17.2,0M1954.0,1643.1a8.6,8.6 0 1,0 17.2,0a8.6,8.6 0 1,0 -17.2,0M1956.3,1643.1a8.6,8.6 0 1,0 17.2,0a8.6,8.6 0 1,0 -17.2,0M1958.6,1643.1a8.6,8.6 0 1,0 17.2,0a8.6,8.6 0 1,0 -17.2,0M1960.8,1643.2a8.6,8.6 0 1,0 17.2,0a8.6,8.6 0 1,0 -17.2,0M1963.1,1643.2a8.6,8.6 0 1,0 17.2,0a8.6,8.6 0 1,0 -17.2,0M1965.4,1643.2a8.6,8.6 0 1,0 17.2,0a8.6,8.6 0 1,0 -17.2,0M1967.6,1643.2a8.6,8.6 0 1,0 17.2,0a8.6,8.6 0 1,0 -17.2,0M1969.9,1643.2a8.6,8.6 0 1,0 17.2,0a8.6,8.6 0 1,0 -17.2,0M1972.2,1643.2a8.6,8.6 0 1,0 17.2,0a8.6,8.6 0 1,0 -17.2,0M1974.4,1643.2a8.6,8.6 0 1,0 17.2,0a8.6,8.6 0 1,0 -17.2,0M1976.7,1643.2a8.6,8.6 0 1,0 17.2,0a8.6,8.6 0 1,0 -17.2,0M1979.0,1643.2a8.6,8.6 0 1,0 17.2,0a8.6,8.6 0 1,0 -17.2,0M1981.2,1643.2a8.6,8.6 0 1,0 17.2,0a8.6,8.6 0 1,0 -17.2,0M1983.5,1643.2a8.6,8.6 0 1,0 17.2,0a8.6,8.6 0 1,0 -17.2,0M1985.8,1643.2a8.6,8.6 0 1,0 17.2,0a8.6,8.6 0 1,0 -17.2,0M1988.0,1643.2a8.6,8.6 0 1,0 17.2,0a8.6,8.6 0 1,0 -17.2,0M1990.3,1643.2a8.6,8.6 0 1,0 17.2,0a8.6,8.6 0 1,0 -17.2,0M1992.5,1643.2a8.6,8.6 0 1,0 17.2,0a8.6,8.6 0 1,0 -17.2,0M1994.8,1643.2a8.6,8.6 0 1,0 17.2,0a8.6,8.6 0 1,0 -17.2,0M1997.1,1643.2a8.6,8.6 0 1,0 17.2,0a8.6,8.6 0 1,0 -17.2,0M1999.3,1643.2a8.6,8.6 0 1,0 17.2,0a8.6,8.6 0 1,0 -17.2,0M2001.6,1643.2a8.6,8.6 0 1,0 17.2,0a8.6,8.6 0 1,0 -17.2,0M2003.9,1643.2a8.6,8.6 0 1,0 17.2,0a8.6,8.6 0 1,0 -17.2,0M2006.1,1643.2a8.6,8.6 0 1,0 17.2,0a8.6,8.6 0 1,0 -17.2,0M2008.4,1643.2a8.6,8.6 0 1,0 17.2,0a8.6,8.6 0 1,0 -17.2,0M2010.7,1643.2a8.6,8.6 0 1,0 17.2,0a8.6,8.6 0 1,0 -17.2,0M2012.9,1643.2a8.6,8.6 0 1,0 17.2,0a8.6,8.6 0 1,0 -17.2,0M2015.2,1643.2a8.6,8.6 0 1,0 17.2,0a8.6,8.6 0 1,0 -17.2,0M2017.5,1643.2a8.6,8.6 0 1,0 17.2,0a8.6,8.6 0 1,0 -17.2,0M2019.7,1643.2a8.6,8.6 0 1,0 17.2,0a8.6,8.6 0 1,0 -17.2,0M2022.0,1643.2a8.6,8.6 0 1,0 17.2,0a8.6,8.6 0 1,0 -17.2,0M2024.2,1643.2a8.6,8.6 0 1,0 17.2,0a8.6,8.6 0 1,0 -17.2,0M2026.5,1643.3a8.6,8.6 0 1,0 17.2,0a8.6,8.6 0 1,0 -17.2,0M2028.8,1643.3a8.6,8.6 0 1,0 17.2,0a8.6,8.6 0 1,0 -17.2,0M2031.0,1643.3a8.6,8.6 0 1,0 17.2,0a8.6,8.6 0 1,0 -17.2,0M2033.3,1643.3a8.6,8.6 0 1,0 17.2,0a8.6,8.6 0 1,0 -17.2,0M2035.6,1643.3a8.6,8.6 0 1,0 17.2,0a8.6,8.6 0 1,0 -17.2,0M2037.8,1643.3a8.6,8.6 0 1,0 17.2,0a8.6,8.6 0 1,0 -17.2,0M2040.1,1643.3a8.6,8.6 0 1,0 17.2,0a8.6,8.6 0 1,0 -17.2,0M2042.4,1643.3a8.6,8.6 0 1,0 17.2,0a8.6,8.6 0 1,0 -17.2,0M2044.6,1643.3a8.6,8.6 0 1,0 17.2,0a8.6,8.6 0 1,0 -17.2,0M2046.9,1643.3a8.6,8.6 0 1,0 17.2,0a8.6,8.6 0 1,0 -17.2,0M2049.2,1643.3a8.6,8.6 0 1,0 17.2,0a8.6,8.6 0 1,0 -17.2,0M2051.4,1643.3a8.6,8.6 0 1,0 17.2,0a8.6,8.6 0 1,0 -17.2,0M2053.7,1643.3a8.6,8.6 0 1,0 17.2,0a8.6,8.6 0 1,0 -17.2,0M2056.0,1643.3a8.6,8.6 0 1,0 17.2,0a8.6,8.6 0 1,0 -17.2,0M2058.2,1643.3a8.6,8.6 0 1,0 17.2,0a8.6,8.6 0 1,0 -17.2,0M2060.5,1643.3a8.6,8.6 0 1,0 17.2,0a8.6,8.6 0 1,0 -17.2,0M2062.7,1643.3a8.6,8.6 0 1,0 17.2,0a8.6,8.6 0 1,0 -17.2,0M2065.0,1643.3a8.6,8.6 0 1,0 17.2,0a8.6,8.6 0 1,0 -17.2,0M2067.3,1643.3a8.6,8.6 0 1,0 17.2,0a8.6,8.6 0 1,0 -17.2,0M2069.5,1643.3a8.6,8.6 0 1,0 17.2,0a8.6,8.6 0 1,0 -17.2,0M2071.8,1643.3a8.6,8.6 0 1,0 17.2,0a8.6,8.6 0 1,0 -17.2,0M2074.1,1643.3a8.6,8.6 0 1,0 17.2,0a8.6,8.6 0 1,0 -17.2,0M2076.3,1643.3a8.6,8.6 0 1,0 17.2,0a8.6,8.6 0 1,0 -17.2,0M2078.6,1643.3a8.6,8.6 0 1,0 17.2,0a8.6,8.6 0 1,0 -17.2,0M2080.9,1643.3a8.6,8.6 0 1,0 17.2,0a8.6,8.6 0 1,0 -17.2,0M2083.1,1643.3a8.6,8.6 0 1,0 17.2,0a8.6,8.6 0 1,0 -17.2,0M2085.4,1643.3a8.6,8.6 0 1,0 17.2,0a8.6,8.6 0 1,0 -17.2,0M2087.7,1643.3a8.6,8.6 0 1,0 17.2,0a8.6,8.6 0 1,0 -17.2,0M2089.9,1643.3a8.6,8.6 0 1,0 17.2,0a8.6,8.6 0 1,0 -17.2,0M2092.2,1643.3a8.6,8.6 0 1,0 17.2,0a8.6,8.6 0 1,0 -17.2,0M2094.5,1643.4a8.6,8.6 0 1,0 17.2,0a8.6,8.6 0 1,0 -17.2,0M2096.7,1643.4a8.6,8.6 0 1,0 17.2,0a8.6,8.6 0 1,0 -17.2,0M2099.0,1643.4a8.6,8.6 0 1,0 17.2,0a8.6,8.6 0 1,0 -17.2,0M2101.2,1643.4a8.6,8.6 0 1,0 17.2,0a8.6,8.6 0 1,0 -17.2,0M2103.5,1643.4a8.6,8.6 0 1,0 17.2,0a8.6,8.6 0 1,0 -17.2,0M2105.8,1643.4a8.6,8.6 0 1,0 17.2,0a8.6,8.6 0 1,0 -17.2,0M2108.0,1643.4a8.6,8.6 0 1,0 17.2,0a8.6,8.6 0 1,0 -17.2,0M2110.3,1643.4a8.6,8.6 0 1,0 17.2,0a8.6,8.6 0 1,0 -17.2,0M2112.6,1643.4a8.6,8.6 0 1,0 17.2,0a8.6,8.6 0 1,0 -17.2,0M2114.8,1643.4a8.6,8.6 0 1,0 17.2,0a8.6,8.6 0 1,0 -17.2,0M2117.1,1643.4a8.6,8.6 0 1,0 17.2,0a8.6,8.6 0 1,0 -17.2,0M2119.4,1643.4a8.6,8.6 0 1,0 17.2,0a8.6,8.6 0 1,0 -17.2,0M2121.6,1643.4a8.6,8.6 0 1,0 17.2,0a8.6,8.6 0 1,0 -17.2,0M2123.9,1643.4a8.6,8.6 0 1,0 17.2,0a8.6,8.6 0 1,0 -17.2,0M2126.2,1643.4a8.6,8.6 0 1,0 17.2,0a8.6,8.6 0 1,0 -17.2,0M2128.4,1643.4a8.6,8.6 0 1,0 17.2,0a8.6,8.6 0 1,0 -17.2,0M2130.7,1643.4a8.6,8.6 0 1,0 17.2,0a8.6,8.6 0 1,0 -17.2,0M2133.0,1643.4a8.6,8.6 0 1,0 17.2,0a8.6,8.6 0 1,0 -17.2,0M2135.2,1643.4a8.6,8.6 0 1,0 17.2,0a8.6,8.6 0 1,0 -17.2,0M2137.5,1643.4a8.6,8.6 0 1,0 17.2,0a8.6,8.6 0 1,0 -17.2,0M2139.7,1643.4a8.6,8.6 0 1,0 17.2,0a8.6,8.6 0 1,0 -17.2,0M2142.0,1643.4a8.6,8.6 0 1,0 17.2,0a8.6,8.6 0 1,0 -17.2,0M2144.3,1643.4a8.6,8.6 0 1,0 17.2,0a8.6,8.6 0 1,0 -17.2,0M2146.5,1643.4a8.6,8.6 0 1,0 17.2,0a8.6,8.6 0 1,0 -17.2,0M2148.8,1643.4a8.6,8.6 0 1,0 17.2,0a8.6,8.6 0 1,0 -17.2,0M2151.1,1643.5a8.6,8.6 0 1,0 17.2,0a8.6,8.6 0 1,0 -17.2,0M2153.3,1643.5a8.6,8.6 0 1,0 17.2,0a8.6,8.6 0 1,0 -17.2,0M2155.6,1643.5a8.6,8.6 0 1,0 17.2,0a8.6,8.6 0 1,0 -17.2,0M2157.9,1643.5a8.6,8.6 0 1,0 17.2,0a8.6,8.6 0 1,0 -17.2,0M2160.1,1643.5a8.6,8.6 0 1,0 17.2,0a8.6,8.6 0 1,0 -17.2,0M2162.4,1643.5a8.6,8.6 0 1,0 17.2,0a8.6,8.6 0 1,0 -17.2,0M2164.7,1643.5a8.6,8.6 0 1,0 17.2,0a8.6,8.6 0 1,0 -17.2,0M2166.9,1643.5a8.6,8.6 0 1,0 17.2,0a8.6,8.6 0 1,0 -17.2,0M2169.2,1643.5a8.6,8.6 0 1,0 17.2,0a8.6,8.6 0 1,0 -17.2,0M2171.5,1643.5a8.6,8.6 0 1,0 17.2,0a8.6,8.6 0 1,0 -17.2,0M2173.7,1643.5a8.6,8.6 0 1,0 17.2,0a8.6,8.6 0 1,0 -17.2,0M2176.0,1643.5a8.6,8.6 0 1,0 17.2,0a8.6,8.6 0 1,0 -17.2,0M2178.2,1643.5a8.6,8.6 0 1,0 17.2,0a8.6,8.6 0 1,0 -17.2,0M2180.5,1643.5a8.6,8.6 0 1,0 17.2,0a8.6,8.6 0 1,0 -17.2,0M2182.8,1643.5a8.6,8.6 0 1,0 17.2,0a8.6,8.6 0 1,0 -17.2,0M2185.0,1643.5a8.6,8.6 0 1,0 17.2,0a8.6,8.6 0 1,0 -17.2,0M2187.3,1643.5a8.6,8.6 0 1,0 17.2,0a8.6,8.6 0 1,0 -17.2,0M2189.6,1643.5a8.6,8.6 0 1,0 17.2,0a8.6,8.6 0 1,0 -17.2,0M2191.8,1643.5a8.6,8.6 0 1,0 17.2,0a8.6,8.6 0 1,0 -17.2,0M2194.1,1643.5a8.6,8.6 0 1,0 17.2,0a8.6,8.6 0 1,0 -17.2,0M2196.4,1643.5a8.6,8.6 0 1,0 17.2,0a8.6,8.6 0 1,0 -17.2,0M2198.6,1643.5a8.6,8.6 0 1,0 17.2,0a8.6,8.6 0 1,0 -17.2,0M2200.9,1643.5a8.6,8.6 0 1,0 17.2,0a8.6,8.6 0 1,0 -17.2,0M2203.2,1643.5a8.6,8.6 0 1,0 17.2,0a8.6,8.6 0 1,0 -17.2,0M2205.4,1643.5a8.6,8.6 0 1,0 17.2,0a8.6,8.6 0 1,0 -17.2,0M2207.7,1643.6a8.6,8.6 0 1,0 17.2,0a8.6,8.6 0 1,0 -17.2,0M2210.0,1643.6a8.6,8.6 0 1,0 17.2,0a8.6,8.6 0 1,0 -17.2,0M2212.2,1643.6a8.6,8.6 0 1,0 17.2,0a8.6,8.6 0 1,0 -17.2,0M2214.5,1643.6a8.6,8.6 0 1,0 17.2,0a8.6,8.6 0 1,0 -17.2,0M2216.7,1643.6a8.6,8.6 0 1,0 17.2,0a8.6,8.6 0 1,0 -17.2,0M2219.0,1643.6a8.6,8.6 0 1,0 17.2,0a8.6,8.6 0 1,0 -17.2,0M2221.3,1643.6a8.6,8.6 0 1,0 17.2,0a8.6,8.6 0 1,0 -17.2,0M2223.5,1643.6a8.6,8.6 0 1,0 17.2,0a8.6,8.6 0 1,0 -17.2,0M2225.8,1643.6a8.6,8.6 0 1,0 17.2,0a8.6,8.6 0 1,0 -17.2,0M2228.1,1643.6a8.6,8.6 0 1,0 17.2,0a8.6,8.6 0 1,0 -17.2,0M2230.3,1643.6a8.6,8.6 0 1,0 17.2,0a8.6,8.6 0 1,0 -17.2,0M2232.6,1643.6a8.6,8.6 0 1,0 17.2,0a8.6,8.6 0 1,0 -17.2,0M2234.9,1643.6a8.6,8.6 0 1,0 17.2,0a8.6,8.6 0 1,0 -17.2,0M2237.1,1643.6a8.6,8.6 0 1,0 17.2,0a8.6,8.6 0 1,0 -17.2,0M2239.4,1643.6a8.6,8.6 0 1,0 17.2,0a8.6,8.6 0 1,0 -17.2,0M2241.7,1643.6a8.6,8.6 0 1,0 17.2,0a8.6,8.6 0 1,0 -17.2,0M2243.9,1643.6a8.6,8.6 0 1,0 17.2,0a8.6,8.6 0 1,0 -17.2,0M2246.2,1643.6a8.6,8.6 0 1,0 17.2,0a8.6,8.6 0 1,0 -17.2,0M2248.5,1643.6a8.6,8.6 0 1,0 17.2,0a8.6,8.6 0 1,0 -17.2,0M2250.7,1643.6a8.6,8.6 0 1,0 17.2,0a8.6,8.6 0 1,0 -17.2,0M2253.0,1643.6a8.6,8.6 0 1,0 17.2,0a8.6,8.6 0 1,0 -17.2,0M2255.2,1643.6a8.6,8.6 0 1,0 17.2,0a8.6,8.6 0 1,0 -17.2,0M2257.5,1643.6a8.6,8.6 0 1,0 17.2,0a8.6,8.6 0 1,0 -17.2,0M2259.8,1643.6a8.6,8.6 0 1,0 17.2,0a8.6,8.6 0 1,0 -17.2,0M2262.0,1643.6a8.6,8.6 0 1,0 17.2,0a8.6,8.6 0 1,0 -17.2,0M2264.3,1643.7a8.6,8.6 0 1,0 17.2,0a8.6,8.6 0 1,0 -17.2,0M2266.6,1643.7a8.6,8.6 0 1,0 17.2,0a8.6,8.6 0 1,0 -17.2,0M2268.8,1643.7a8.6,8.6 0 1,0 17.2,0a8.6,8.6 0 1,0 -17.2,0M2271.1,1643.7a8.6,8.6 0 1,0 17.2,0a8.6,8.6 0 1,0 -17.2,0M2273.4,1643.7a8.6,8.6 0 1,0 17.2,0a8.6,8.6 0 1,0 -17.2,0M2275.6,1643.7a8.6,8.6 0 1,0 17.2,0a8.6,8.6 0 1,0 -17.2,0M2277.9,1643.7a8.6,8.6 0 1,0 17.2,0a8.6,8.6 0 1,0 -17.2,0M2280.2,1643.7a8.6,8.6 0 1,0 17.2,0a8.6,8.6 0 1,0 -17.2,0M2282.4,1643.7a8.6,8.6 0 1,0 17.2,0a8.6,8.6 0 1,0 -17.2,0M2284.7,1643.7a8.6,8.6 0 1,0 17.2,0a8.6,8.6 0 1,0 -17.2,0M2287.0,1643.7a8.6,8.6 0 1,0 17.2,0a8.6,8.6 0 1,0 -17.2,0M2289.2,1643.7a8.6,8.6 0 1,0 17.2,0a8.6,8.6 0 1,0 -17.2,0M2291.5,1643.7a8.6,8.6 0 1,0 17.2,0a8.6,8.6 0 1,0 -17.2,0M2293.7,1643.7a8.6,8.6 0 1,0 17.2,0a8.6,8.6 0 1,0 -17.2,0M2296.0,1643.7a8.6,8.6 0 1,0 17.2,0a8.6,8.6 0 1,0 -17.2,0M2298.3,1643.7a8.6,8.6 0 1,0 17.2,0a8.6,8.6 0 1,0 -17.2,0" stroke="#0000ff" stroke-width="4.4" fill="none"/>
<clipPath id="clip1"><rect x="315.0" y="8.0" width="1992.5" height="1696.5"/></clipPath>
<g clip-path="url(#clip1)">
<path d="M312.9,1564.6 326.3,1545.3 333,1536.3 340.2,1528 343.8,1524.7 349,1521.3 353.6,1519.8 355.7,1519.7 358.8,1520.2 362.9,1522.1 366,1524.5 370.1,1529 376.3,1538.6 379.9,1545.6 387.1,1562.1 400.4,1596.5 406.1,1610 410.7,1619.5 416.4,1629 420.5,1634.3 423.6,1637.4 429.3,1641.4 433.4,1643.2 437,1644.2 446.3,1645.3 2309,1645.5" stroke="#0070c0" stroke-width="8.0" fill="none" stroke-linejoin="round"/>
<path d="M312.9,1645.5 466.3,1645.4 523.5,1644.9 566.2,1643.6 597.6,1641.2 610.4,1639.5 624.9,1636.8 642.4,1631.9 652.7,1627.8 663.5,1622.2 672.2,1616.5 681.5,1608.9 691.3,1598.8 698.5,1589.7 706.2,1578.2 712.4,1567.3 719.6,1552.6 726.3,1536.8 737.1,1506.2 743.8,1483.8 751,1456.6 761.3,1412 772.1,1359 792.6,1251.1 799.3,1219.9 805,1197.9 809.6,1184.1 812.2,1178.5 814.3,1175.2 816.8,1172.7 818.4,1172.2 819.9,1172.3 821.5,1173.1 824,1176 826.6,1180.9 829.2,1187.8 831.8,1196.8 834.9,1210.4 839.5,1236.2 843.6,1264.3 848.8,1305.4 865.7,1462.3 872.4,1519.3 876.5,1549.6 880.1,1572.4 883.2,1589 886.3,1603 888.9,1612.6 890.4,1617.6 894,1627 897.1,1633 900.7,1637.9 904.9,1641.5 910,1643.9 914.6,1644.9 925.4,1645.5 2309,1645.5" stroke="#ff5008" stroke-width="8.0" fill="none" stroke-linejoin="round"/>
<path d="M312.9,1645.5 541,1645.4 586.8,1644.9 621.3,1643.6 648.5,1641 669.6,1637.1 686.6,1632.2 719,1620.1 725.2,1618.5 730.9,1617.7 736,1617.7 740.7,1618.3 744.8,1619.2 751.5,1621.7 760.2,1626.5 777.2,1637.5 784.4,1641.1 788.5,1642.6 791.6,1643.5 799.9,1644.9 812.7,1645.5 2309,1645.5" stroke="#ffaa00" stroke-width="8.0" fill="none" stroke-linejoin="round"/>
<path d="M312.9,1645.5 668.6,1645.3 716.5,1644.2 733.5,1643.1 744.8,1641.9 759.2,1639.5 773.1,1635.7 779.3,1633.3 786.5,1629.8 796.3,1623.3 804,1616.5 808.6,1611.4 813.8,1604.7 821.5,1592.1 828.2,1578.2 835.4,1559.2 843.1,1533.1 849.8,1504.4 857,1465.7 863.2,1424.7 869.9,1370.7 877.1,1299.4 880.7,1257.9 887.4,1169.8 891,1116.1 898.2,995.2 908.5,794.5 921.8,512.4 929,378.6 932.6,325.3 935.7,290.4 938.8,267.7 940.4,261.6 941.4,259.6 941.9,259.3 942.4,259.4 943.5,260.8 944.5,263.7 947.1,278 950.7,315.5 953.8,364.5 957.9,453.4 964.6,648.8 981.5,1249.3 985.1,1355 990.3,1475.3 994.9,1550.8 999,1594.5 1002.1,1615.5 1004.7,1627.2 1007.8,1636 1009.3,1638.8 1011.4,1641.5 1013.5,1643.2 1016.5,1644.6 1019.6,1645.2 1025.3,1645.5 2309,1645.5" stroke="#8a1e8c" stroke-width="8.0" fill="none" stroke-linejoin="round"/>
<path d="M312.9,1645.2 387.6,1644.8 450.4,1644 493.6,1643 544,1641 583.7,1638.4 612,1635.7 641.8,1631.8 667.1,1627.4 688.7,1622.6 708.2,1617.3 729.9,1610.2 749.9,1602.3 768.5,1593.8 789.6,1582.8 813.2,1568.9 859,1540.3 868.3,1535 879.6,1529.2 893.5,1523.4 903.3,1520.5 914.1,1518.7 924.4,1518.5 938.3,1519.9 947.1,1521.7 953.8,1523.6 968.2,1529.1 982.6,1536.5 996,1544.9 1013.5,1557.6 1047.9,1585.4 1068.5,1601.3 1086.5,1613.5 1104,1623.3 1114.9,1628.3 1124.1,1631.9 1142.6,1637.4 1160.7,1640.9 1181.2,1643.3 1216.2,1645 1265.7,1645.5 2309,1645.5" stroke="#4ca800" stroke-width="8.0" fill="none" stroke-linejoin="round"/>
<path d="M312.9,1645.4 483.8,1645.2 637.7,1644.5 746.3,1643.3 825.1,1641.7 901.3,1639.2 961,1636.4 1027.9,1632.3 1116.4,1626.1 1152.4,1624.1 1185.9,1623 1218.8,1622.9 1259.5,1623.8 1299.1,1625.7 1346,1629.1 1426.2,1636.4 1471,1640 1520.9,1642.9 1574,1644.6 1679.5,1645.5 2309,1645.5" stroke="#00c2f2" stroke-width="8.0" fill="none" stroke-linejoin="round"/>
<path d="M312.9,1645.5 2309,1645.5" stroke="#b0001e" stroke-width="8.0" fill="none" stroke-linejoin="round"/>
<path d="M312.9,1564.1 330.4,1539.2 337.1,1530.8 340.7,1527 344.3,1523.7 350,1520.2 354.1,1519.1 358.8,1519.5 363.4,1521.7 367,1524.7 372.7,1531.8 376.3,1537.8 383.5,1552.6 402.5,1600.5 410.7,1618.3 414.3,1624.6 417.9,1629.8 423.6,1636 427.2,1638.7 430.3,1640.4 435.4,1642.2 440.6,1643.1 447.8,1643.5 500.3,1642 545.1,1639.1 562.1,1637.3 577.5,1635.1 591.9,1632.4 603.8,1629.5 617.7,1625.1 625.9,1621.8 635.2,1617.3 646.5,1610.4 656.3,1602.9 663.5,1596.2 670.2,1589 677.4,1580 684.6,1569.4 691.3,1558.2 698.5,1544.3 705.2,1529.6 712.9,1510.5 719.6,1492 729.9,1460.2 737.1,1435.6 743.8,1410.9 754.6,1366.7 764.9,1319.1 772.1,1282.1 782.4,1224 795.7,1143.8 802.9,1103.2 810.1,1068.5 813.2,1056.4 816.8,1044.7 820.4,1036.1 823.5,1031.1 826.1,1028.5 827.6,1027.7 830.2,1027.6 831.8,1028.3 834.9,1031.3 838.5,1037.3 842.1,1045.6 845.7,1055.9 854.9,1085.6 859,1097.1 862.1,1103.7 864.7,1107.2 865.7,1108 866.8,1108.4 868.8,1108 870.4,1106.5 872.4,1102.8 875.5,1093.2 878.6,1078.4 880.7,1065.5 883.8,1041.3 887.9,1000.2 892,948.9 898.2,854.5 908.5,659.7 924.9,317.3 931.1,212.5 934.7,166.9 937.3,143.7 939.3,131.8 940.9,127.2 941.9,126.3 942.4,126.4 943.5,128 944.5,131 947.1,145.8 950.7,184.1 953.8,233.8 957.4,311.2 961,408.1 964.6,521.5 981.5,1129.4 987.2,1290.9 991.3,1380.2 995.4,1445.3 998.5,1479.9 1001.6,1504.4 1004.7,1521 1007.8,1531.9 1009.3,1535.8 1011.9,1540.8 1016,1546.1 1025.8,1554.3 1061.8,1580.7 1079.3,1592 1090.1,1598.1 1099.4,1602.7 1107.6,1606.3 1117.9,1610.1 1134.9,1614.9 1153.5,1618.3 1173.5,1620.4 1189,1621.1 1208,1621.3 1235.3,1621 1266.7,1619.6 1286.2,1619.9 1317.1,1621.6 1353.7,1624.4 1425.2,1631.6 1466.9,1635 1520.4,1637.9 1581.2,1639.8 1684.1,1641 1770.1,1642.6 1876.1,1644 2309,1644.4" stroke="#ff0000" stroke-width="9.5" fill="none" stroke-linejoin="round"/>
</g>
<text x="455.8" y="1732.0" text-anchor="middle" textLength="93.0" lengthAdjust="spacingAndGlyphs">100</text>
<text x="664.5" y="1732.0" text-anchor="middle" textLength="101.0" lengthAdjust="spacingAndGlyphs">200</text>
<text x="870.9" y="1732.0" text-anchor="middle" textLength="101.0" lengthAdjust="spacingAndGlyphs">300</text>
<text x="1076.1" y="1732.0" text-anchor="middle" textLength="101.0" lengthAdjust="spacingAndGlyphs">400</text>
<text x="1282.1" y="1732.0" text-anchor="middle" textLength="101.0" lengthAdjust="spacingAndGlyphs">500</text>
<text x="1487.6" y="1732.0" text-anchor="middle" textLength="101.0" lengthAdjust="spacingAndGlyphs">600</text>
<text x="1693.3" y="1732.0" text-anchor="middle" textLength="101.0" lengthAdjust="spacingAndGlyphs">700</text>
<text x="1899.7" y="1732.0" text-anchor="middle" textLength="101.0" lengthAdjust="spacingAndGlyphs">800</text>
<text x="2105.4" y="1732.0" text-anchor="middle" textLength="101.0" lengthAdjust="spacingAndGlyphs">900</text>
<text x="287.5" y="1668.4" text-anchor="end">0</text>
<text x="287.5" y="1490.0" text-anchor="end">0.005</text>
<text x="287.5" y="1311.7" text-anchor="end">0.01</text>
<text x="287.5" y="1133.8" text-anchor="end">0.015</text>
<text x="287.5" y="955.2" text-anchor="end">0.02</text>
<text x="287.5" y="777.2" text-anchor="end">0.025</text>
<text x="287.5" y="598.6" text-anchor="end">0.03</text>
<text x="287.5" y="420.6" text-anchor="end">0.035</text>
<text x="287.5" y="241.6" text-anchor="end">0.04</text>
</g>
<g font-family='"Liberation Sans", Arial, sans-serif' font-size="54.5" fill="#111" stroke="#111" stroke-width="0.9">
<rect x="1513.5" y="119.5" width="742.0" height="697.8" fill="#fff" stroke="#6a6a6a" stroke-width="3"/>
<circle cx="1623.5" cy="164.5" r="8.7" stroke="#0000ff" stroke-width="4.5" fill="#d8d8ff"/>
<text x="1727.0" y="187.5" textLength="320" lengthAdjust="spacingAndGlyphs">Experimental</text>
<path d="M1531.5,240.0H1715.0" stroke="#0070c0" stroke-width="8"/>
<text x="1727.0" y="263.0"><tspan textLength="467" lengthAdjust="spacingAndGlyphs">Pseudocomponent</tspan><tspan x="2234.5" text-anchor="end">1</tspan></text>
<path d="M1531.5,315.9H1715.0" stroke="#ff5008" stroke-width="8"/>
<text x="1727.0" y="338.9"><tspan textLength="467" lengthAdjust="spacingAndGlyphs">Pseudocomponent</tspan><tspan x="2234.5" text-anchor="end">2</tspan></text>
<path d="M1531.5,391.8H1715.0" stroke="#ffaa00" stroke-width="8"/>
<text x="1727.0" y="414.8"><tspan textLength="467" lengthAdjust="spacingAndGlyphs">Pseudocomponent</tspan><tspan x="2234.5" text-anchor="end">3</tspan></text>
<path d="M1531.5,467.7H1715.0" stroke="#8a1e8c" stroke-width="8"/>
<text x="1727.0" y="490.7"><tspan textLength="467" lengthAdjust="spacingAndGlyphs">Pseudocomponent</tspan><tspan x="2234.5" text-anchor="end">4</tspan></text>
<path d="M1531.5,543.6H1715.0" stroke="#4ca800" stroke-width="8"/>
<text x="1727.0" y="566.6"><tspan textLength="467" lengthAdjust="spacingAndGlyphs">Pseudocomponent</tspan><tspan x="2234.5" text-anchor="end">5</tspan></text>
<path d="M1531.5,619.5H1715.0" stroke="#00c2f2" stroke-width="8"/>
<text x="1727.0" y="642.5"><tspan textLength="467" lengthAdjust="spacingAndGlyphs">Pseudocomponent</tspan><tspan x="2234.5" text-anchor="end">6</tspan></text>
<path d="M1531.5,695.4H1715.0" stroke="#b0001e" stroke-width="8"/>
<text x="1727.0" y="718.4"><tspan textLength="467" lengthAdjust="spacingAndGlyphs">Pseudocomponent</tspan><tspan x="2234.5" text-anchor="end">7</tspan></text>
<path d="M1531.5,771.3H1715.0" stroke="#ff0000" stroke-width="8"/>
<text x="1727.0" y="794.3" textLength="153" lengthAdjust="spacingAndGlyphs">Model</text>
</g>
<g font-family='"Liberation Sans", Arial, sans-serif' font-size="62" fill="#2a2a2a" stroke="#2a2a2a" stroke-width="0.9">
<path d="M456.9,2160.8V3729.0M661.5,2160.8V3729.0M868.4,2160.8V3729.0M1070.3,2160.8V3729.0M1276.1,2160.8V3729.0M1481.5,2160.8V3729.0M1688.4,2160.8V3729.0M1894.1,2160.8V3729.0M2100.4,2160.8V3729.0M315.2,3512.0H2299.3M315.2,3295.1H2299.3M315.2,3078.1H2299.3M315.2,2861.2H2299.3M315.2,2644.3H2299.3M315.2,2427.4H2299.3M315.2,2210.5H2299.3" stroke="#f4f4f4" stroke-width="4" fill="none"/>
<path d="M456.9,3729.0v-20.0M456.9,2160.8v20.0M661.5,3729.0v-20.0M661.5,2160.8v20.0M868.4,3729.0v-20.0M868.4,2160.8v20.0M1070.3,3729.0v-20.0M1070.3,2160.8v20.0M1276.1,3729.0v-20.0M1276.1,2160.8v20.0M1481.5,3729.0v-20.0M1481.5,2160.8v20.0M1688.4,3729.0v-20.0M1688.4,2160.8v20.0M1894.1,3729.0v-20.0M1894.1,2160.8v20.0M2100.4,3729.0v-20.0M2100.4,2160.8v20.0M315.2,3728.9h20.0M2299.3,3728.9h-20.0M315.2,3512.0h20.0M2299.3,3512.0h-20.0M315.2,3295.1h20.0M2299.3,3295.1h-20.0M315.2,3078.1h20.0M2299.3,3078.1h-20.0M315.2,2861.2h20.0M2299.3,2861.2h-20.0M315.2,2644.3h20.0M2299.3,2644.3h-20.0M315.2,2427.4h20.0M2299.3,2427.4h-20.0M315.2,2210.5h20.0M2299.3,2210.5h-20.0" stroke="#262626" stroke-width="3" fill="none"/>
<path d="M313.2,2160.8H2301.3 M313.2,3729.0H2301.3" stroke="#262626" stroke-width="3.5" fill="none"/>
<path d="M315.2,2160.8V3729.0 M2299.3,2160.8V3729.0" stroke="#262626" stroke-width="4" fill="none"/>
<path d="M306.1,3688.0a8.6,8.6 0 1,0 17.2,0a8.6,8.6 0 1,0 -17.2,0M308.1,3688.8a8.6,8.6 0 1,0 17.2,0a8.6,8.6 0 1,0 -17.2,0M310.2,3691.0a8.6,8.6 0 1,0 17.2,0a8.6,8.6 0 1,0 -17.2,0M312.2,3689.3a8.6,8.6 0 1,0 17.2,0a8.6,8.6 0 1,0 -17.2,0M314.3,3692.1a8.6,8.6 0 1,0 17.2,0a8.6,8.6 0 1,0 -17.2,0M316.3,3691.9a8.6,8.6 0 1,0 17.2,0a8.6,8.6 0 1,0 -17.2,0M318.4,3691.2a8.6,8.6 0 1,0 17.2,0a8.6,8.6 0 1,0 -17.2,0M320.4,3691.8a8.6,8.6 0 1,0 17.2,0a8.6,8.6 0 1,0 -17.2,0M322.5,3689.9a8.6,8.6 0 1,0 17.2,0a8.6,8.6 0 1,0 -17.2,0M324.6,3687.2a8.6,8.6 0 1,0 17.2,0a8.6,8.6 0 1,0 -17.2,0M326.6,3683.1a8.6,8.6 0 1,0 17.2,0a8.6,8.6 0 1,0 -17.2,0M328.7,3678.6a8.6,8.6 0 1,0 17.2,0a8.6,8.6 0 1,0 -17.2,0M330.7,3676.7a8.6,8.6 0 1,0 17.2,0a8.6,8.6 0 1,0 -17.2,0M332.8,3674.5a8.6,8.6 0 1,0 17.2,0a8.6,8.6 0 1,0 -17.2,0M334.8,3670.2a8.6,8.6 0 1,0 17.2,0a8.6,8.6 0 1,0 -17.2,0M336.9,3667.6a8.6,8.6 0 1,0 17.2,0a8.6,8.6 0 1,0 -17.2,0M338.9,3663.7a8.6,8.6 0 1,0 17.2,0a8.6,8.6 0 1,0 -17.2,0M341.0,3659.4a8.6,8.6 0 1,0 17.2,0a8.6,8.6 0 1,0 -17.2,0M343.0,3657.3a8.6,8.6 0 1,0 17.2,0a8.6,8.6 0 1,0 -17.2,0M345.1,3653.6a8.6,8.6 0 1,0 17.2,0a8.6,8.6 0 1,0 -17.2,0M347.1,3651.3a8.6,8.6 0 1,0 17.2,0a8.6,8.6 0 1,0 -17.2,0M349.2,3647.7a8.6,8.6 0 1,0 17.2,0a8.6,8.6 0 1,0 -17.2,0M351.3,3644.2a8.6,8.6 0 1,0 17.2,0a8.6,8.6 0 1,0 -17.2,0M353.3,3641.9a8.6,8.6 0 1,0 17.2,0a8.6,8.6 0 1,0 -17.2,0M355.4,3638.6a8.6,8.6 0 1,0 17.2,0a8.6,8.6 0 1,0 -17.2,0M357.4,3636.1a8.6,8.6 0 1,0 17.2,0a8.6,8.6 0 1,0 -17.2,0M359.5,3634.7a8.6,8.6 0 1,0 17.2,0a8.6,8.6 0 1,0 -17.2,0M361.5,3634.2a8.6,8.6 0 1,0 17.2,0a8.6,8.6 0 1,0 -17.2,0M363.6,3634.5a8.6,8.6 0 1,0 17.2,0a8.6,8.6 0 1,0 -17.2,0M365.6,3634.1a8.6,8.6 0 1,0 17.2,0a8.6,8.6 0 1,0 -17.2,0M367.7,3635.0a8.6,8.6 0 1,0 17.2,0a8.6,8.6 0 1,0 -17.2,0M369.7,3634.3a8.6,8.6 0 1,0 17.2,0a8.6,8.6 0 1,0 -17.2,0M371.8,3638.3a8.6,8.6 0 1,0 17.2,0a8.6,8.6 0 1,0 -17.2,0M373.8,3637.9a8.6,8.6 0 1,0 17.2,0a8.6,8.6 0 1,0 -17.2,0M375.9,3639.2a8.6,8.6 0 1,0 17.2,0a8.6,8.6 0 1,0 -17.2,0M378.0,3640.3a8.6,8.6 0 1,0 17.2,0a8.6,8.6 0 1,0 -17.2,0M380.0,3642.7a8.6,8.6 0 1,0 17.2,0a8.6,8.6 0 1,0 -17.2,0M382.1,3645.7a8.6,8.6 0 1,0 17.2,0a8.6,8.6 0 1,0 -17.2,0M384.1,3647.5a8.6,8.6 0 1,0 17.2,0a8.6,8.6 0 1,0 -17.2,0M386.2,3650.0a8.6,8.6 0 1,0 17.2,0a8.6,8.6 0 1,0 -17.2,0M388.2,3653.6a8.6,8.6 0 1,0 17.2,0a8.6,8.6 0 1,0 -17.2,0M390.3,3656.2a8.6,8.6 0 1,0 17.2,0a8.6,8.6 0 1,0 -17.2,0M392.3,3661.5a8.6,8.6 0 1,0 17.2,0a8.6,8.6 0 1,0 -17.2,0M394.4,3662.7a8.6,8.6 0 1,0 17.2,0a8.6,8.6 0 1,0 -17.2,0M396.4,3666.6a8.6,8.6 0 1,0 17.2,0a8.6,8.6 0 1,0 -17.2,0M398.5,3671.5a8.6,8.6 0 1,0 17.2,0a8.6,8.6 0 1,0 -17.2,0M400.5,3674.5a8.6,8.6 0 1,0 17.2,0a8.6,8.6 0 1,0 -17.2,0M402.6,3678.9a8.6,8.6 0 1,0 17.2,0a8.6,8.6 0 1,0 -17.2,0M404.6,3683.9a8.6,8.6 0 1,0 17.2,0a8.6,8.6 0 1,0 -17.2,0M406.7,3687.9a8.6,8.6 0 1,0 17.2,0a8.6,8.6 0 1,0 -17.2,0M408.8,3691.9a8.6,8.6 0 1,0 17.2,0a8.6,8.6 0 1,0 -17.2,0M410.8,3697.3a8.6,8.6 0 1,0 17.2,0a8.6,8.6 0 1,0 -17.2,0M412.9,3701.3a8.6,8.6 0 1,0 17.2,0a8.6,8.6 0 1,0 -17.2,0M414.9,3704.6a8.6,8.6 0 1,0 17.2,0a8.6,8.6 0 1,0 -17.2,0M417.0,3706.9a8.6,8.6 0 1,0 17.2,0a8.6,8.6 0 1,0 -17.2,0M419.0,3708.5a8.6,8.6 0 1,0 17.2,0a8.6,8.6 0 1,0 -17.2,0M421.1,3711.7a8.6,8.6 0 1,0 17.2,0a8.6,8.6 0 1,0 -17.2,0M423.1,3712.7a8.6,8.6 0 1,0 17.2,0a8.6,8.6 0 1,0 -17.2,0M425.2,3714.4a8.6,8.6 0 1,0 17.2,0a8.6,8.6 0 1,0 -17.2,0M427.2,3717.3a8.6,8.6 0 1,0 17.2,0a8.6,8.6 0 1,0 -17.2,0M429.3,3717.8a8.6,8.6 0 1,0 17.2,0a8.6,8.6 0 1,0 -17.2,0M431.3,3719.2a8.6,8.6 0 1,0 17.2,0a8.6,8.6 0 1,0 -17.2,0M433.4,3720.8a8.6,8.6 0 1,0 17.2,0a8.6,8.6 0 1,0 -17.2,0M435.5,3722.6a8.6,8.6 0 1,0 17.2,0a8.6,8.6 0 1,0 -17.2,0M437.5,3726.4a8.6,8.6 0 1,0 17.2,0a8.6,8.6 0 1,0 -17.2,0M439.6,3727.2a8.6,8.6 0 1,0 17.2,0a8.6,8.6 0 1,0 -17.2,0M441.6,3729.2a8.6,8.6 0 1,0 17.2,0a8.6,8.6 0 1,0 -17.2,0M443.7,3730.4a8.6,8.6 0 1,0 17.2,0a8.6,8.6 0 1,0 -17.2,0M445.7,3729.2a8.6,8.6 0 1,0 17.2,0a8.6,8.6 0 1,0 -17.2,0M447.8,3729.0a8.6,8.6 0 1,0 17.2,0a8.6,8.6 0 1,0 -17.2,0M449.8,3729.9a8.6,8.6 0 1,0 17.2,0a8.6,8.6 0 1,0 -17.2,0M451.9,3729.0a8.6,8.6 0 1,0 17.2,0a8.6,8.6 0 1,0 -17.2,0M453.9,3729.7a8.6,8.6 0 1,0 17.2,0a8.6,8.6 0 1,0 -17.2,0M586.4,3721.9a8.6,8.6 0 1,0 17.2,0a8.6,8.6 0 1,0 -17.2,0M599.3,3732.1a8.6,8.6 0 1,0 17.2,0a8.6,8.6 0 1,0 -17.2,0M612.1,3731.7a8.6,8.6 0 1,0 17.2,0a8.6,8.6 0 1,0 -17.2,0M620.5,3732.1a8.6,8.6 0 1,0 17.2,0a8.6,8.6 0 1,0 -17.2,0M630.5,3731.2a8.6,8.6 0 1,0 17.2,0a8.6,8.6 0 1,0 -17.2,0M640.2,3732.1a8.6,8.6 0 1,0 17.2,0a8.6,8.6 0 1,0 -17.2,0M651.1,3712.1a8.6,8.6 0 1,0 17.2,0a8.6,8.6 0 1,0 -17.2,0M653.1,3714.8a8.6,8.6 0 1,0 17.2,0a8.6,8.6 0 1,0 -17.2,0M655.2,3713.1a8.6,8.6 0 1,0 17.2,0a8.6,8.6 0 1,0 -17.2,0M657.2,3715.9a8.6,8.6 0 1,0 17.2,0a8.6,8.6 0 1,0 -17.2,0M659.3,3712.3a8.6,8.6 0 1,0 17.2,0a8.6,8.6 0 1,0 -17.2,0M661.3,3710.8a8.6,8.6 0 1,0 17.2,0a8.6,8.6 0 1,0 -17.2,0M663.4,3710.9a8.6,8.6 0 1,0 17.2,0a8.6,8.6 0 1,0 -17.2,0M665.5,3710.3a8.6,8.6 0 1,0 17.2,0a8.6,8.6 0 1,0 -17.2,0M667.5,3707.8a8.6,8.6 0 1,0 17.2,0a8.6,8.6 0 1,0 -17.2,0M669.6,3707.2a8.6,8.6 0 1,0 17.2,0a8.6,8.6 0 1,0 -17.2,0M671.6,3706.2a8.6,8.6 0 1,0 17.2,0a8.6,8.6 0 1,0 -17.2,0M673.7,3702.8a8.6,8.6 0 1,0 17.2,0a8.6,8.6 0 1,0 -17.2,0M675.7,3701.1a8.6,8.6 0 1,0 17.2,0a8.6,8.6 0 1,0 -17.2,0M677.8,3700.6a8.6,8.6 0 1,0 17.2,0a8.6,8.6 0 1,0 -17.2,0M679.8,3699.7a8.6,8.6 0 1,0 17.2,0a8.6,8.6 0 1,0 -17.2,0M681.9,3696.8a8.6,8.6 0 1,0 17.2,0a8.6,8.6 0 1,0 -17.2,0M683.9,3694.5a8.6,8.6 0 1,0 17.2,0a8.6,8.6 0 1,0 -17.2,0M686.0,3692.7a8.6,8.6 0 1,0 17.2,0a8.6,8.6 0 1,0 -17.2,0M688.0,3692.9a8.6,8.6 0 1,0 17.2,0a8.6,8.6 0 1,0 -17.2,0M690.1,3689.5a8.6,8.6 0 1,0 17.2,0a8.6,8.6 0 1,0 -17.2,0M692.2,3686.4a8.6,8.6 0 1,0 17.2,0a8.6,8.6 0 1,0 -17.2,0M694.2,3683.7a8.6,8.6 0 1,0 17.2,0a8.6,8.6 0 1,0 -17.2,0M696.3,3680.8a8.6,8.6 0 1,0 17.2,0a8.6,8.6 0 1,0 -17.2,0M698.3,3678.3a8.6,8.6 0 1,0 17.2,0a8.6,8.6 0 1,0 -17.2,0M700.4,3677.6a8.6,8.6 0 1,0 17.2,0a8.6,8.6 0 1,0 -17.2,0M702.4,3674.3a8.6,8.6 0 1,0 17.2,0a8.6,8.6 0 1,0 -17.2,0M704.5,3671.8a8.6,8.6 0 1,0 17.2,0a8.6,8.6 0 1,0 -17.2,0M706.5,3664.8a8.6,8.6 0 1,0 17.2,0a8.6,8.6 0 1,0 -17.2,0M708.6,3662.4a8.6,8.6 0 1,0 17.2,0a8.6,8.6 0 1,0 -17.2,0M710.6,3657.2a8.6,8.6 0 1,0 17.2,0a8.6,8.6 0 1,0 -17.2,0M712.7,3651.6a8.6,8.6 0 1,0 17.2,0a8.6,8.6 0 1,0 -17.2,0M714.7,3647.5a8.6,8.6 0 1,0 17.2,0a8.6,8.6 0 1,0 -17.2,0M716.8,3642.6a8.6,8.6 0 1,0 17.2,0a8.6,8.6 0 1,0 -17.2,0M718.8,3635.8a8.6,8.6 0 1,0 17.2,0a8.6,8.6 0 1,0 -17.2,0M720.9,3629.4a8.6,8.6 0 1,0 17.2,0a8.6,8.6 0 1,0 -17.2,0M723.0,3621.3a8.6,8.6 0 1,0 17.2,0a8.6,8.6 0 1,0 -17.2,0M725.0,3615.8a8.6,8.6 0 1,0 17.2,0a8.6,8.6 0 1,0 -17.2,0M727.1,3611.7a8.6,8.6 0 1,0 17.2,0a8.6,8.6 0 1,0 -17.2,0M729.1,3603.8a8.6,8.6 0 1,0 17.2,0a8.6,8.6 0 1,0 -17.2,0M731.2,3597.8a8.6,8.6 0 1,0 17.2,0a8.6,8.6 0 1,0 -17.2,0M733.2,3593.8a8.6,8.6 0 1,0 17.2,0a8.6,8.6 0 1,0 -17.2,0M735.3,3586.7a8.6,8.6 0 1,0 17.2,0a8.6,8.6 0 1,0 -17.2,0M737.3,3582.5a8.6,8.6 0 1,0 17.2,0a8.6,8.6 0 1,0 -17.2,0M739.4,3574.0a8.6,8.6 0 1,0 17.2,0a8.6,8.6 0 1,0 -17.2,0M741.4,3568.5a8.6,8.6 0 1,0 17.2,0a8.6,8.6 0 1,0 -17.2,0M743.5,3563.2a8.6,8.6 0 1,0 17.2,0a8.6,8.6 0 1,0 -17.2,0M745.5,3556.0a8.6,8.6 0 1,0 17.2,0a8.6,8.6 0 1,0 -17.2,0M747.6,3548.3a8.6,8.6 0 1,0 17.2,0a8.6,8.6 0 1,0 -17.2,0M749.7,3542.4a8.6,8.6 0 1,0 17.2,0a8.6,8.6 0 1,0 -17.2,0M751.7,3534.5a8.6,8.6 0 1,0 17.2,0a8.6,8.6 0 1,0 -17.2,0M753.8,3527.0a8.6,8.6 0 1,0 17.2,0a8.6,8.6 0 1,0 -17.2,0M755.8,3521.1a8.6,8.6 0 1,0 17.2,0a8.6,8.6 0 1,0 -17.2,0M757.9,3512.9a8.6,8.6 0 1,0 17.2,0a8.6,8.6 0 1,0 -17.2,0M759.9,3502.3a8.6,8.6 0 1,0 17.2,0a8.6,8.6 0 1,0 -17.2,0M762.0,3496.1a8.6,8.6 0 1,0 17.2,0a8.6,8.6 0 1,0 -17.2,0M764.0,3488.5a8.6,8.6 0 1,0 17.2,0a8.6,8.6 0 1,0 -17.2,0M766.1,3478.4a8.6,8.6 0 1,0 17.2,0a8.6,8.6 0 1,0 -17.2,0M768.1,3470.7a8.6,8.6 0 1,0 17.2,0a8.6,8.6 0 1,0 -17.2,0M770.2,3458.5a8.6,8.6 0 1,0 17.2,0a8.6,8.6 0 1,0 -17.2,0M772.2,3449.6a8.6,8.6 0 1,0 17.2,0a8.6,8.6 0 1,0 -17.2,0M774.3,3439.0a8.6,8.6 0 1,0 17.2,0a8.6,8.6 0 1,0 -17.2,0M776.3,3429.4a8.6,8.6 0 1,0 17.2,0a8.6,8.6 0 1,0 -17.2,0M778.4,3420.0a8.6,8.6 0 1,0 17.2,0a8.6,8.6 0 1,0 -17.2,0M780.5,3409.5a8.6,8.6 0 1,0 17.2,0a8.6,8.6 0 1,0 -17.2,0M782.5,3400.6a8.6,8.6 0 1,0 17.2,0a8.6,8.6 0 1,0 -17.2,0M784.6,3391.5a8.6,8.6 0 1,0 17.2,0a8.6,8.6 0 1,0 -17.2,0M786.6,3381.7a8.6,8.6 0 1,0 17.2,0a8.6,8.6 0 1,0 -17.2,0M788.7,3370.5a8.6,8.6 0 1,0 17.2,0a8.6,8.6 0 1,0 -17.2,0M790.7,3362.1a8.6,8.6 0 1,0 17.2,0a8.6,8.6 0 1,0 -17.2,0M792.8,3346.6a8.6,8.6 0 1,0 17.2,0a8.6,8.6 0 1,0 -17.2,0M794.8,3339.7a8.6,8.6 0 1,0 17.2,0a8.6,8.6 0 1,0 -17.2,0M796.9,3327.3a8.6,8.6 0 1,0 17.2,0a8.6,8.6 0 1,0 -17.2,0M798.9,3318.2a8.6,8.6 0 1,0 17.2,0a8.6,8.6 0 1,0 -17.2,0M801.0,3308.7a8.6,8.6 0 1,0 17.2,0a8.6,8.6 0 1,0 -17.2,0M803.0,3296.7a8.6,8.6 0 1,0 17.2,0a8.6,8.6 0 1,0 -17.2,0M805.1,3287.5a8.6,8.6 0 1,0 17.2,0a8.6,8.6 0 1,0 -17.2,0M807.2,3278.3a8.6,8.6 0 1,0 17.2,0a8.6,8.6 0 1,0 -17.2,0M809.2,3269.0a8.6,8.6 0 1,0 17.2,0a8.6,8.6 0 1,0 -17.2,0M811.3,3262.2a8.6,8.6 0 1,0 17.2,0a8.6,8.6 0 1,0 -17.2,0M813.3,3253.3a8.6,8.6 0 1,0 17.2,0a8.6,8.6 0 1,0 -17.2,0M815.4,3245.5a8.6,8.6 0 1,0 17.2,0a8.6,8.6 0 1,0 -17.2,0M817.4,3239.0a8.6,8.6 0 1,0 17.2,0a8.6,8.6 0 1,0 -17.2,0M819.5,3231.5a8.6,8.6 0 1,0 17.2,0a8.6,8.6 0 1,0 -17.2,0M821.5,3223.1a8.6,8.6 0 1,0 17.2,0a8.6,8.6 0 1,0 -17.2,0M823.6,3216.0a8.6,8.6 0 1,0 17.2,0a8.6,8.6 0 1,0 -17.2,0M825.6,3208.0a8.6,8.6 0 1,0 17.2,0a8.6,8.6 0 1,0 -17.2,0M827.7,3202.3a8.6,8.6 0 1,0 17.2,0a8.6,8.6 0 1,0 -17.2,0M829.7,3191.2a8.6,8.6 0 1,0 17.2,0a8.6,8.6 0 1,0 -17.2,0M831.8,3182.4a8.6,8.6 0 1,0 17.2,0a8.6,8.6 0 1,0 -17.2,0M833.8,3174.8a8.6,8.6 0 1,0 17.2,0a8.6,8.6 0 1,0 -17.2,0M835.9,3166.8a8.6,8.6 0 1,0 17.2,0a8.6,8.6 0 1,0 -17.2,0M838.0,3158.4a8.6,8.6 0 1,0 17.2,0a8.6,8.6 0 1,0 -17.2,0M840.0,3154.7a8.6,8.6 0 1,0 17.2,0a8.6,8.6 0 1,0 -17.2,0M842.1,3149.5a8.6,8.6 0 1,0 17.2,0a8.6,8.6 0 1,0 -17.2,0M844.1,3147.3a8.6,8.6 0 1,0 17.2,0a8.6,8.6 0 1,0 -17.2,0M846.2,3144.0a8.6,8.6 0 1,0 17.2,0a8.6,8.6 0 1,0 -17.2,0M848.2,3140.5a8.6,8.6 0 1,0 17.2,0a8.6,8.6 0 1,0 -17.2,0M850.3,3138.0a8.6,8.6 0 1,0 17.2,0a8.6,8.6 0 1,0 -17.2,0M852.3,3133.7a8.6,8.6 0 1,0 17.2,0a8.6,8.6 0 1,0 -17.2,0M854.4,3131.1a8.6,8.6 0 1,0 17.2,0a8.6,8.6 0 1,0 -17.2,0M856.4,3126.1a8.6,8.6 0 1,0 17.2,0a8.6,8.6 0 1,0 -17.2,0M858.5,3122.6a8.6,8.6 0 1,0 17.2,0a8.6,8.6 0 1,0 -17.2,0M860.5,3117.5a8.6,8.6 0 1,0 17.2,0a8.6,8.6 0 1,0 -17.2,0M862.2,3111.9a8.6,8.6 0 1,0 17.2,0a8.6,8.6 0 1,0 -17.2,0M863.8,3107.4a8.6,8.6 0 1,0 17.2,0a8.6,8.6 0 1,0 -17.2,0M865.5,3101.8a8.6,8.6 0 1,0 17.2,0a8.6,8.6 0 1,0 -17.2,0M867.1,3096.1a8.6,8.6 0 1,0 17.2,0a8.6,8.6 0 1,0 -17.2,0M868.8,3089.9a8.6,8.6 0 1,0 17.2,0a8.6,8.6 0 1,0 -17.2,0M870.4,3082.0a8.6,8.6 0 1,0 17.2,0a8.6,8.6 0 1,0 -17.2,0M872.0,3074.8a8.6,8.6 0 1,0 17.2,0a8.6,8.6 0 1,0 -17.2,0M873.7,3068.3a8.6,8.6 0 1,0 17.2,0a8.6,8.6 0 1,0 -17.2,0M875.3,3061.6a8.6,8.6 0 1,0 17.2,0a8.6,8.6 0 1,0 -17.2,0M877.0,3050.9a8.6,8.6 0 1,0 17.2,0a8.6,8.6 0 1,0 -17.2,0M878.6,3044.5a8.6,8.6 0 1,0 17.2,0a8.6,8.6 0 1,0 -17.2,0M880.3,3034.4a8.6,8.6 0 1,0 17.2,0a8.6,8.6 0 1,0 -17.2,0M881.9,3020.2a8.6,8.6 0 1,0 17.2,0a8.6,8.6 0 1,0 -17.2,0M883.5,3007.4a8.6,8.6 0 1,0 17.2,0a8.6,8.6 0 1,0 -17.2,0M885.2,2993.2a8.6,8.6 0 1,0 17.2,0a8.6,8.6 0 1,0 -17.2,0M886.3,2981.8a8.6,8.6 0 1,0 17.2,0a8.6,8.6 0 1,0 -17.2,0M887.4,2969.8a8.6,8.6 0 1,0 17.2,0a8.6,8.6 0 1,0 -17.2,0M888.6,2953.3a8.6,8.6 0 1,0 17.2,0a8.6,8.6 0 1,0 -17.2,0M889.7,2933.1a8.6,8.6 0 1,0 17.2,0a8.6,8.6 0 1,0 -17.2,0M890.8,2914.6a8.6,8.6 0 1,0 17.2,0a8.6,8.6 0 1,0 -17.2,0M892.0,2897.3a8.6,8.6 0 1,0 17.2,0a8.6,8.6 0 1,0 -17.2,0M893.1,2875.3a8.6,8.6 0 1,0 17.2,0a8.6,8.6 0 1,0 -17.2,0M894.2,2860.0a8.6,8.6 0 1,0 17.2,0a8.6,8.6 0 1,0 -17.2,0M895.4,2839.6a8.6,8.6 0 1,0 17.2,0a8.6,8.6 0 1,0 -17.2,0M896.5,2817.7a8.6,8.6 0 1,0 17.2,0a8.6,8.6 0 1,0 -17.2,0M897.6,2797.9a8.6,8.6 0 1,0 17.2,0a8.6,8.6 0 1,0 -17.2,0M898.7,2775.9a8.6,8.6 0 1,0 17.2,0a8.6,8.6 0 1,0 -17.2,0M899.9,2755.2a8.6,8.6 0 1,0 17.2,0a8.6,8.6 0 1,0 -17.2,0M901.0,2736.6a8.6,8.6 0 1,0 17.2,0a8.6,8.6 0 1,0 -17.2,0M902.1,2718.6a8.6,8.6 0 1,0 17.2,0a8.6,8.6 0 1,0 -17.2,0M903.3,2704.8a8.6,8.6 0 1,0 17.2,0a8.6,8.6 0 1,0 -17.2,0M904.4,2694.1a8.6,8.6 0 1,0 17.2,0a8.6,8.6 0 1,0 -17.2,0M905.5,2681.4a8.6,8.6 0 1,0 17.2,0a8.6,8.6 0 1,0 -17.2,0M906.7,2667.1a8.6,8.6 0 1,0 17.2,0a8.6,8.6 0 1,0 -17.2,0M907.8,2652.0a8.6,8.6 0 1,0 17.2,0a8.6,8.6 0 1,0 -17.2,0M908.9,2636.1a8.6,8.6 0 1,0 17.2,0a8.6,8.6 0 1,0 -17.2,0M910.0,2617.0a8.6,8.6 0 1,0 17.2,0a8.6,8.6 0 1,0 -17.2,0M911.2,2597.6a8.6,8.6 0 1,0 17.2,0a8.6,8.6 0 1,0 -17.2,0M912.3,2578.8a8.6,8.6 0 1,0 17.2,0a8.6,8.6 0 1,0 -17.2,0M913.4,2554.2a8.6,8.6 0 1,0 17.2,0a8.6,8.6 0 1,0 -17.2,0M914.6,2532.4a8.6,8.6 0 1,0 17.2,0a8.6,8.6 0 1,0 -17.2,0M915.7,2508.4a8.6,8.6 0 1,0 17.2,0a8.6,8.6 0 1,0 -17.2,0M916.8,2481.5a8.6,8.6 0 1,0 17.2,0a8.6,8.6 0 1,0 -17.2,0M917.9,2459.0a8.6,8.6 0 1,0 17.2,0a8.6,8.6 0 1,0 -17.2,0M919.1,2437.9a8.6,8.6 0 1,0 17.2,0a8.6,8.6 0 1,0 -17.2,0M920.2,2416.8a8.6,8.6 0 1,0 17.2,0a8.6,8.6 0 1,0 -17.2,0M921.3,2397.9a8.6,8.6 0 1,0 17.2,0a8.6,8.6 0 1,0 -17.2,0M922.5,2380.0a8.6,8.6 0 1,0 17.2,0a8.6,8.6 0 1,0 -17.2,0M923.6,2369.9a8.6,8.6 0 1,0 17.2,0a8.6,8.6 0 1,0 -17.2,0M924.7,2361.5a8.6,8.6 0 1,0 17.2,0a8.6,8.6 0 1,0 -17.2,0M925.9,2352.7a8.6,8.6 0 1,0 17.2,0a8.6,8.6 0 1,0 -17.2,0M927.0,2352.3a8.6,8.6 0 1,0 17.2,0a8.6,8.6 0 1,0 -17.2,0M928.1,2351.0a8.6,8.6 0 1,0 17.2,0a8.6,8.6 0 1,0 -17.2,0M929.2,2344.0a8.6,8.6 0 1,0 17.2,0a8.6,8.6 0 1,0 -17.2,0M930.4,2337.9a8.6,8.6 0 1,0 17.2,0a8.6,8.6 0 1,0 -17.2,0M931.5,2326.5a8.6,8.6 0 1,0 17.2,0a8.6,8.6 0 1,0 -17.2,0M932.6,2309.1a8.6,8.6 0 1,0 17.2,0a8.6,8.6 0 1,0 -17.2,0M933.8,2288.8a8.6,8.6 0 1,0 17.2,0a8.6,8.6 0 1,0 -17.2,0M934.9,2268.8a8.6,8.6 0 1,0 17.2,0a8.6,8.6 0 1,0 -17.2,0M936.0,2253.6a8.6,8.6 0 1,0 17.2,0a8.6,8.6 0 1,0 -17.2,0M937.1,2241.3a8.6,8.6 0 1,0 17.2,0a8.6,8.6 0 1,0 -17.2,0M938.3,2224.7a8.6,8.6 0 1,0 17.2,0a8.6,8.6 0 1,0 -17.2,0M939.9,2207.0a8.6,8.6 0 1,0 17.2,0a8.6,8.6 0 1,0 -17.2,0M941.6,2187.2a8.6,8.6 0 1,0 17.2,0a8.6,8.6 0 1,0 -17.2,0M943.2,2173.4a8.6,8.6 0 1,0 17.2,0a8.6,8.6 0 1,0 -17.2,0M944.8,2162.2a8.6,8.6 0 1,0 17.2,0a8.6,8.6 0 1,0 -17.2,0M946.5,2156.5a8.6,8.6 0 1,0 17.2,0a8.6,8.6 0 1,0 -17.2,0M948.1,2152.3a8.6,8.6 0 1,0 17.2,0a8.6,8.6 0 1,0 -17.2,0M949.8,2155.9a8.6,8.6 0 1,0 17.2,0a8.6,8.6 0 1,0 -17.2,0M951.4,2169.6a8.6,8.6 0 1,0 17.2,0a8.6,8.6 0 1,0 -17.2,0M953.1,2186.3a8.6,8.6 0 1,0 17.2,0a8.6,8.6 0 1,0 -17.2,0M954.7,2200.4a8.6,8.6 0 1,0 17.2,0a8.6,8.6 0 1,0 -17.2,0M956.3,2210.2a8.6,8.6 0 1,0 17.2,0a8.6,8.6 0 1,0 -17.2,0M958.0,2218.3a8.6,8.6 0 1,0 17.2,0a8.6,8.6 0 1,0 -17.2,0M959.6,2233.8a8.6,8.6 0 1,0 17.2,0a8.6,8.6 0 1,0 -17.2,0M961.3,2262.4a8.6,8.6 0 1,0 17.2,0a8.6,8.6 0 1,0 -17.2,0M962.9,2285.4a8.6,8.6 0 1,0 17.2,0a8.6,8.6 0 1,0 -17.2,0M964.6,2310.5a8.6,8.6 0 1,0 17.2,0a8.6,8.6 0 1,0 -17.2,0M966.2,2351.1a8.6,8.6 0 1,0 17.2,0a8.6,8.6 0 1,0 -17.2,0M967.8,2405.9a8.6,8.6 0 1,0 17.2,0a8.6,8.6 0 1,0 -17.2,0M969.5,2445.3a8.6,8.6 0 1,0 17.2,0a8.6,8.6 0 1,0 -17.2,0M970.4,2476.6a8.6,8.6 0 1,0 17.2,0a8.6,8.6 0 1,0 -17.2,0M971.3,2535.0a8.6,8.6 0 1,0 17.2,0a8.6,8.6 0 1,0 -17.2,0M972.3,2597.6a8.6,8.6 0 1,0 17.2,0a8.6,8.6 0 1,0 -17.2,0M973.2,2669.3a8.6,8.6 0 1,0 17.2,0a8.6,8.6 0 1,0 -17.2,0M974.1,2742.0a8.6,8.6 0 1,0 17.2,0a8.6,8.6 0 1,0 -17.2,0M975.0,2821.4a8.6,8.6 0 1,0 17.2,0a8.6,8.6 0 1,0 -17.2,0M976.0,2903.7a8.6,8.6 0 1,0 17.2,0a8.6,8.6 0 1,0 -17.2,0M976.9,2973.6a8.6,8.6 0 1,0 17.2,0a8.6,8.6 0 1,0 -17.2,0M977.8,3041.3a8.6,8.6 0 1,0 17.2,0a8.6,8.6 0 1,0 -17.2,0M978.7,3109.2a8.6,8.6 0 1,0 17.2,0a8.6,8.6 0 1,0 -17.2,0M979.7,3170.7a8.6,8.6 0 1,0 17.2,0a8.6,8.6 0 1,0 -17.2,0M980.6,3230.3a8.6,8.6 0 1,0 17.2,0a8.6,8.6 0 1,0 -17.2,0M981.5,3280.9a8.6,8.6 0 1,0 17.2,0a8.6,8.6 0 1,0 -17.2,0M982.4,3329.5a8.6,8.6 0 1,0 17.2,0a8.6,8.6 0 1,0 -17.2,0M983.4,3379.0a8.6,8.6 0 1,0 17.2,0a8.6,8.6 0 1,0 -17.2,0M984.3,3428.4a8.6,8.6 0 1,0 17.2,0a8.6,8.6 0 1,0 -17.2,0M985.2,3473.4a8.6,8.6 0 1,0 17.2,0a8.6,8.6 0 1,0 -17.2,0M986.1,3505.5a8.6,8.6 0 1,0 17.2,0a8.6,8.6 0 1,0 -17.2,0M987.0,3525.2a8.6,8.6 0 1,0 17.2,0a8.6,8.6 0 1,0 -17.2,0M988.0,3542.6a8.6,8.6 0 1,0 17.2,0a8.6,8.6 0 1,0 -17.2,0M988.9,3555.1a8.6,8.6 0 1,0 17.2,0a8.6,8.6 0 1,0 -17.2,0M989.8,3563.7a8.6,8.6 0 1,0 17.2,0a8.6,8.6 0 1,0 -17.2,0M990.7,3567.4a8.6,8.6 0 1,0 17.2,0a8.6,8.6 0 1,0 -17.2,0M991.7,3571.4a8.6,8.6 0 1,0 17.2,0a8.6,8.6 0 1,0 -17.2,0M993.7,3577.4a8.6,8.6 0 1,0 17.2,0a8.6,8.6 0 1,0 -17.2,0M995.8,3581.5a8.6,8.6 0 1,0 17.2,0a8.6,8.6 0 1,0 -17.2,0M997.8,3583.2a8.6,8.6 0 1,0 17.2,0a8.6,8.6 0 1,0 -17.2,0M999.9,3583.9a8.6,8.6 0 1,0 17.2,0a8.6,8.6 0 1,0 -17.2,0M1001.9,3588.7a8.6,8.6 0 1,0 17.2,0a8.6,8.6 0 1,0 -17.2,0M1004.0,3592.7a8.6,8.6 0 1,0 17.2,0a8.6,8.6 0 1,0 -17.2,0M1006.0,3594.9a8.6,8.6 0 1,0 17.2,0a8.6,8.6 0 1,0 -17.2,0M1008.1,3598.5a8.6,8.6 0 1,0 17.2,0a8.6,8.6 0 1,0 -17.2,0M1010.2,3602.9a8.6,8.6 0 1,0 17.2,0a8.6,8.6 0 1,0 -17.2,0M1012.2,3603.9a8.6,8.6 0 1,0 17.2,0a8.6,8.6 0 1,0 -17.2,0M1014.3,3605.0a8.6,8.6 0 1,0 17.2,0a8.6,8.6 0 1,0 -17.2,0M1016.3,3609.3a8.6,8.6 0 1,0 17.2,0a8.6,8.6 0 1,0 -17.2,0M1018.4,3612.1a8.6,8.6 0 1,0 17.2,0a8.6,8.6 0 1,0 -17.2,0M1020.4,3612.0a8.6,8.6 0 1,0 17.2,0a8.6,8.6 0 1,0 -17.2,0M1022.5,3612.2a8.6,8.6 0 1,0 17.2,0a8.6,8.6 0 1,0 -17.2,0M1024.5,3614.7a8.6,8.6 0 1,0 17.2,0a8.6,8.6 0 1,0 -17.2,0M1026.6,3616.0a8.6,8.6 0 1,0 17.2,0a8.6,8.6 0 1,0 -17.2,0M1028.6,3616.0a8.6,8.6 0 1,0 17.2,0a8.6,8.6 0 1,0 -17.2,0M1030.7,3618.0a8.6,8.6 0 1,0 17.2,0a8.6,8.6 0 1,0 -17.2,0M1032.7,3620.2a8.6,8.6 0 1,0 17.2,0a8.6,8.6 0 1,0 -17.2,0M1034.8,3622.4a8.6,8.6 0 1,0 17.2,0a8.6,8.6 0 1,0 -17.2,0M1036.8,3623.2a8.6,8.6 0 1,0 17.2,0a8.6,8.6 0 1,0 -17.2,0M1038.9,3624.6a8.6,8.6 0 1,0 17.2,0a8.6,8.6 0 1,0 -17.2,0M1041.0,3624.7a8.6,8.6 0 1,0 17.2,0a8.6,8.6 0 1,0 -17.2,0M1043.0,3627.7a8.6,8.6 0 1,0 17.2,0a8.6,8.6 0 1,0 -17.2,0M1045.1,3626.3a8.6,8.6 0 1,0 17.2,0a8.6,8.6 0 1,0 -17.2,0M1047.1,3629.0a8.6,8.6 0 1,0 17.2,0a8.6,8.6 0 1,0 -17.2,0M1049.2,3630.6a8.6,8.6 0 1,0 17.2,0a8.6,8.6 0 1,0 -17.2,0M1051.2,3630.4a8.6,8.6 0 1,0 17.2,0a8.6,8.6 0 1,0 -17.2,0M1053.3,3634.5a8.6,8.6 0 1,0 17.2,0a8.6,8.6 0 1,0 -17.2,0M1055.3,3634.2a8.6,8.6 0 1,0 17.2,0a8.6,8.6 0 1,0 -17.2,0M1057.4,3635.1a8.6,8.6 0 1,0 17.2,0a8.6,8.6 0 1,0 -17.2,0M1059.4,3634.5a8.6,8.6 0 1,0 17.2,0a8.6,8.6 0 1,0 -17.2,0M1061.5,3637.0a8.6,8.6 0 1,0 17.2,0a8.6,8.6 0 1,0 -17.2,0M1063.5,3636.1a8.6,8.6 0 1,0 17.2,0a8.6,8.6 0 1,0 -17.2,0M1065.6,3639.6a8.6,8.6 0 1,0 17.2,0a8.6,8.6 0 1,0 -17.2,0M1067.7,3639.2a8.6,8.6 0 1,0 17.2,0a8.6,8.6 0 1,0 -17.2,0M1069.7,3642.7a8.6,8.6 0 1,0 17.2,0a8.6,8.6 0 1,0 -17.2,0M1071.8,3640.8a8.6,8.6 0 1,0 17.2,0a8.6,8.6 0 1,0 -17.2,0M1073.8,3644.7a8.6,8.6 0 1,0 17.2,0a8.6,8.6 0 1,0 -17.2,0M1075.9,3644.8a8.6,8.6 0 1,0 17.2,0a8.6,8.6 0 1,0 -17.2,0M1077.9,3648.0a8.6,8.6 0 1,0 17.2,0a8.6,8.6 0 1,0 -17.2,0M1080.0,3650.5a8.6,8.6 0 1,0 17.2,0a8.6,8.6 0 1,0 -17.2,0M1082.0,3650.4a8.6,8.6 0 1,0 17.2,0a8.6,8.6 0 1,0 -17.2,0M1084.1,3649.5a8.6,8.6 0 1,0 17.2,0a8.6,8.6 0 1,0 -17.2,0M1086.1,3654.5a8.6,8.6 0 1,0 17.2,0a8.6,8.6 0 1,0 -17.2,0M1088.2,3656.7a8.6,8.6 0 1,0 17.2,0a8.6,8.6 0 1,0 -17.2,0M1090.2,3655.9a8.6,8.6 0 1,0 17.2,0a8.6,8.6 0 1,0 -17.2,0M1092.3,3655.3a8.6,8.6 0 1,0 17.2,0a8.6,8.6 0 1,0 -17.2,0M1094.3,3659.8a8.6,8.6 0 1,0 17.2,0a8.6,8.6 0 1,0 -17.2,0M1096.4,3660.2a8.6,8.6 0 1,0 17.2,0a8.6,8.6 0 1,0 -17.2,0M1098.5,3660.2a8.6,8.6 0 1,0 17.2,0a8.6,8.6 0 1,0 -17.2,0M1100.5,3662.3a8.6,8.6 0 1,0 17.2,0a8.6,8.6 0 1,0 -17.2,0M1102.6,3662.4a8.6,8.6 0 1,0 17.2,0a8.6,8.6 0 1,0 -17.2,0M1104.6,3662.0a8.6,8.6 0 1,0 17.2,0a8.6,8.6 0 1,0 -17.2,0M1106.7,3665.0a8.6,8.6 0 1,0 17.2,0a8.6,8.6 0 1,0 -17.2,0M1108.7,3666.1a8.6,8.6 0 1,0 17.2,0a8.6,8.6 0 1,0 -17.2,0M1110.8,3665.6a8.6,8.6 0 1,0 17.2,0a8.6,8.6 0 1,0 -17.2,0M1112.8,3667.8a8.6,8.6 0 1,0 17.2,0a8.6,8.6 0 1,0 -17.2,0M1114.9,3670.1a8.6,8.6 0 1,0 17.2,0a8.6,8.6 0 1,0 -17.2,0M1116.9,3671.0a8.6,8.6 0 1,0 17.2,0a8.6,8.6 0 1,0 -17.2,0M1119.0,3671.9a8.6,8.6 0 1,0 17.2,0a8.6,8.6 0 1,0 -17.2,0M1121.0,3667.3a8.6,8.6 0 1,0 17.2,0a8.6,8.6 0 1,0 -17.2,0M1123.1,3671.3a8.6,8.6 0 1,0 17.2,0a8.6,8.6 0 1,0 -17.2,0M1125.2,3670.9a8.6,8.6 0 1,0 17.2,0a8.6,8.6 0 1,0 -17.2,0M1127.2,3671.3a8.6,8.6 0 1,0 17.2,0a8.6,8.6 0 1,0 -17.2,0M1129.3,3674.7a8.6,8.6 0 1,0 17.2,0a8.6,8.6 0 1,0 -17.2,0M1131.3,3672.6a8.6,8.6 0 1,0 17.2,0a8.6,8.6 0 1,0 -17.2,0M1133.4,3675.2a8.6,8.6 0 1,0 17.2,0a8.6,8.6 0 1,0 -17.2,0M1135.4,3678.5a8.6,8.6 0 1,0 17.2,0a8.6,8.6 0 1,0 -17.2,0M1137.5,3675.7a8.6,8.6 0 1,0 17.2,0a8.6,8.6 0 1,0 -17.2,0M1139.5,3677.8a8.6,8.6 0 1,0 17.2,0a8.6,8.6 0 1,0 -17.2,0M1141.6,3677.0a8.6,8.6 0 1,0 17.2,0a8.6,8.6 0 1,0 -17.2,0M1143.6,3676.4a8.6,8.6 0 1,0 17.2,0a8.6,8.6 0 1,0 -17.2,0M1145.7,3673.5a8.6,8.6 0 1,0 17.2,0a8.6,8.6 0 1,0 -17.2,0M1147.7,3678.9a8.6,8.6 0 1,0 17.2,0a8.6,8.6 0 1,0 -17.2,0M1149.8,3678.8a8.6,8.6 0 1,0 17.2,0a8.6,8.6 0 1,0 -17.2,0M1151.8,3678.4a8.6,8.6 0 1,0 17.2,0a8.6,8.6 0 1,0 -17.2,0M1153.9,3679.3a8.6,8.6 0 1,0 17.2,0a8.6,8.6 0 1,0 -17.2,0M1156.0,3680.5a8.6,8.6 0 1,0 17.2,0a8.6,8.6 0 1,0 -17.2,0M1158.0,3682.6a8.6,8.6 0 1,0 17.2,0a8.6,8.6 0 1,0 -17.2,0M1160.1,3683.0a8.6,8.6 0 1,0 17.2,0a8.6,8.6 0 1,0 -17.2,0M1162.1,3682.2a8.6,8.6 0 1,0 17.2,0a8.6,8.6 0 1,0 -17.2,0M1164.2,3684.5a8.6,8.6 0 1,0 17.2,0a8.6,8.6 0 1,0 -17.2,0M1166.2,3684.2a8.6,8.6 0 1,0 17.2,0a8.6,8.6 0 1,0 -17.2,0M1168.3,3685.8a8.6,8.6 0 1,0 17.2,0a8.6,8.6 0 1,0 -17.2,0M1170.3,3682.3a8.6,8.6 0 1,0 17.2,0a8.6,8.6 0 1,0 -17.2,0M1172.4,3687.5a8.6,8.6 0 1,0 17.2,0a8.6,8.6 0 1,0 -17.2,0M1174.4,3682.1a8.6,8.6 0 1,0 17.2,0a8.6,8.6 0 1,0 -17.2,0M1176.5,3687.0a8.6,8.6 0 1,0 17.2,0a8.6,8.6 0 1,0 -17.2,0M1178.5,3688.4a8.6,8.6 0 1,0 17.2,0a8.6,8.6 0 1,0 -17.2,0M1180.6,3689.2a8.6,8.6 0 1,0 17.2,0a8.6,8.6 0 1,0 -17.2,0M1182.7,3686.4a8.6,8.6 0 1,0 17.2,0a8.6,8.6 0 1,0 -17.2,0M1184.7,3686.5a8.6,8.6 0 1,0 17.2,0a8.6,8.6 0 1,0 -17.2,0M1186.8,3690.2a8.6,8.6 0 1,0 17.2,0a8.6,8.6 0 1,0 -17.2,0M1188.8,3688.7a8.6,8.6 0 1,0 17.2,0a8.6,8.6 0 1,0 -17.2,0M1190.9,3690.0a8.6,8.6 0 1,0 17.2,0a8.6,8.6 0 1,0 -17.2,0M1192.9,3690.6a8.6,8.6 0 1,0 17.2,0a8.6,8.6 0 1,0 -17.2,0M1195.0,3690.3a8.6,8.6 0 1,0 17.2,0a8.6,8.6 0 1,0 -17.2,0M1197.0,3689.6a8.6,8.6 0 1,0 17.2,0a8.6,8.6 0 1,0 -17.2,0M1199.1,3694.6a8.6,8.6 0 1,0 17.2,0a8.6,8.6 0 1,0 -17.2,0M1201.1,3695.4a8.6,8.6 0 1,0 17.2,0a8.6,8.6 0 1,0 -17.2,0M1203.2,3691.5a8.6,8.6 0 1,0 17.2,0a8.6,8.6 0 1,0 -17.2,0M1205.2,3692.2a8.6,8.6 0 1,0 17.2,0a8.6,8.6 0 1,0 -17.2,0M1207.3,3691.2a8.6,8.6 0 1,0 17.2,0a8.6,8.6 0 1,0 -17.2,0M1209.4,3695.5a8.6,8.6 0 1,0 17.2,0a8.6,8.6 0 1,0 -17.2,0M1211.4,3694.5a8.6,8.6 0 1,0 17.2,0a8.6,8.6 0 1,0 -17.2,0M1213.5,3690.3a8.6,8.6 0 1,0 17.2,0a8.6,8.6 0 1,0 -17.2,0M1215.5,3695.5a8.6,8.6 0 1,0 17.2,0a8.6,8.6 0 1,0 -17.2,0M1217.6,3692.8a8.6,8.6 0 1,0 17.2,0a8.6,8.6 0 1,0 -17.2,0M1219.6,3695.0a8.6,8.6 0 1,0 17.2,0a8.6,8.6 0 1,0 -17.2,0M1221.7,3694.5a8.6,8.6 0 1,0 17.2,0a8.6,8.6 0 1,0 -17.2,0M1223.7,3696.4a8.6,8.6 0 1,0 17.2,0a8.6,8.6 0 1,0 -17.2,0M1225.8,3692.1a8.6,8.6 0 1,0 17.2,0a8.6,8.6 0 1,0 -17.2,0M1227.8,3697.6a8.6,8.6 0 1,0 17.2,0a8.6,8.6 0 1,0 -17.2,0M1229.9,3696.5a8.6,8.6 0 1,0 17.2,0a8.6,8.6 0 1,0 -17.2,0M1231.9,3696.2a8.6,8.6 0 1,0 17.2,0a8.6,8.6 0 1,0 -17.2,0M1234.0,3692.7a8.6,8.6 0 1,0 17.2,0a8.6,8.6 0 1,0 -17.2,0M1236.0,3694.4a8.6,8.6 0 1,0 17.2,0a8.6,8.6 0 1,0 -17.2,0M1238.1,3693.9a8.6,8.6 0 1,0 17.2,0a8.6,8.6 0 1,0 -17.2,0M1240.2,3695.2a8.6,8.6 0 1,0 17.2,0a8.6,8.6 0 1,0 -17.2,0M1242.2,3694.9a8.6,8.6 0 1,0 17.2,0a8.6,8.6 0 1,0 -17.2,0M1244.3,3694.6a8.6,8.6 0 1,0 17.2,0a8.6,8.6 0 1,0 -17.2,0M1246.3,3693.0a8.6,8.6 0 1,0 17.2,0a8.6,8.6 0 1,0 -17.2,0M1248.4,3695.4a8.6,8.6 0 1,0 17.2,0a8.6,8.6 0 1,0 -17.2,0M1250.4,3698.5a8.6,8.6 0 1,0 17.2,0a8.6,8.6 0 1,0 -17.2,0M1252.5,3694.1a8.6,8.6 0 1,0 17.2,0a8.6,8.6 0 1,0 -17.2,0M1254.5,3696.1a8.6,8.6 0 1,0 17.2,0a8.6,8.6 0 1,0 -17.2,0M1256.6,3698.3a8.6,8.6 0 1,0 17.2,0a8.6,8.6 0 1,0 -17.2,0M1258.6,3696.8a8.6,8.6 0 1,0 17.2,0a8.6,8.6 0 1,0 -17.2,0M1260.7,3698.3a8.6,8.6 0 1,0 17.2,0a8.6,8.6 0 1,0 -17.2,0M1262.7,3693.2a8.6,8.6 0 1,0 17.2,0a8.6,8.6 0 1,0 -17.2,0M1264.8,3697.5a8.6,8.6 0 1,0 17.2,0a8.6,8.6 0 1,0 -17.2,0M1266.9,3700.5a8.6,8.6 0 1,0 17.2,0a8.6,8.6 0 1,0 -17.2,0M1268.9,3696.6a8.6,8.6 0 1,0 17.2,0a8.6,8.6 0 1,0 -17.2,0M1271.0,3698.7a8.6,8.6 0 1,0 17.2,0a8.6,8.6 0 1,0 -17.2,0M1273.0,3695.2a8.6,8.6 0 1,0 17.2,0a8.6,8.6 0 1,0 -17.2,0M1275.1,3697.3a8.6,8.6 0 1,0 17.2,0a8.6,8.6 0 1,0 -17.2,0M1277.1,3700.8a8.6,8.6 0 1,0 17.2,0a8.6,8.6 0 1,0 -17.2,0M1279.2,3698.7a8.6,8.6 0 1,0 17.2,0a8.6,8.6 0 1,0 -17.2,0M1281.2,3699.8a8.6,8.6 0 1,0 17.2,0a8.6,8.6 0 1,0 -17.2,0M1283.3,3699.3a8.6,8.6 0 1,0 17.2,0a8.6,8.6 0 1,0 -17.2,0M1285.3,3699.3a8.6,8.6 0 1,0 17.2,0a8.6,8.6 0 1,0 -17.2,0M1287.4,3701.8a8.6,8.6 0 1,0 17.2,0a8.6,8.6 0 1,0 -17.2,0M1289.4,3698.0a8.6,8.6 0 1,0 17.2,0a8.6,8.6 0 1,0 -17.2,0M1291.5,3700.0a8.6,8.6 0 1,0 17.2,0a8.6,8.6 0 1,0 -17.2,0M1293.5,3700.2a8.6,8.6 0 1,0 17.2,0a8.6,8.6 0 1,0 -17.2,0M1295.6,3697.4a8.6,8.6 0 1,0 17.2,0a8.6,8.6 0 1,0 -17.2,0M1297.7,3695.6a8.6,8.6 0 1,0 17.2,0a8.6,8.6 0 1,0 -17.2,0M1299.7,3700.1a8.6,8.6 0 1,0 17.2,0a8.6,8.6 0 1,0 -17.2,0M1301.8,3695.9a8.6,8.6 0 1,0 17.2,0a8.6,8.6 0 1,0 -17.2,0M1303.8,3702.8a8.6,8.6 0 1,0 17.2,0a8.6,8.6 0 1,0 -17.2,0M1305.9,3698.3a8.6,8.6 0 1,0 17.2,0a8.6,8.6 0 1,0 -17.2,0M1307.9,3700.4a8.6,8.6 0 1,0 17.2,0a8.6,8.6 0 1,0 -17.2,0M1310.0,3699.7a8.6,8.6 0 1,0 17.2,0a8.6,8.6 0 1,0 -17.2,0M1312.0,3701.4a8.6,8.6 0 1,0 17.2,0a8.6,8.6 0 1,0 -17.2,0M1314.1,3700.8a8.6,8.6 0 1,0 17.2,0a8.6,8.6 0 1,0 -17.2,0M1316.1,3700.4a8.6,8.6 0 1,0 17.2,0a8.6,8.6 0 1,0 -17.2,0M1318.2,3700.6a8.6,8.6 0 1,0 17.2,0a8.6,8.6 0 1,0 -17.2,0M1320.2,3699.4a8.6,8.6 0 1,0 17.2,0a8.6,8.6 0 1,0 -17.2,0M1322.3,3696.2a8.6,8.6 0 1,0 17.2,0a8.6,8.6 0 1,0 -17.2,0M1324.4,3701.4a8.6,8.6 0 1,0 17.2,0a8.6,8.6 0 1,0 -17.2,0M1326.4,3700.7a8.6,8.6 0 1,0 17.2,0a8.6,8.6 0 1,0 -17.2,0M1328.5,3703.6a8.6,8.6 0 1,0 17.2,0a8.6,8.6 0 1,0 -17.2,0M1330.5,3705.0a8.6,8.6 0 1,0 17.2,0a8.6,8.6 0 1,0 -17.2,0M1332.6,3698.3a8.6,8.6 0 1,0 17.2,0a8.6,8.6 0 1,0 -17.2,0M1334.6,3703.1a8.6,8.6 0 1,0 17.2,0a8.6,8.6 0 1,0 -17.2,0M1336.7,3702.2a8.6,8.6 0 1,0 17.2,0a8.6,8.6 0 1,0 -17.2,0M1338.7,3701.0a8.6,8.6 0 1,0 17.2,0a8.6,8.6 0 1,0 -17.2,0M1340.8,3699.6a8.6,8.6 0 1,0 17.2,0a8.6,8.6 0 1,0 -17.2,0M1342.8,3700.7a8.6,8.6 0 1,0 17.2,0a8.6,8.6 0 1,0 -17.2,0M1344.9,3698.1a8.6,8.6 0 1,0 17.2,0a8.6,8.6 0 1,0 -17.2,0M1346.9,3701.8a8.6,8.6 0 1,0 17.2,0a8.6,8.6 0 1,0 -17.2,0M1349.0,3704.7a8.6,8.6 0 1,0 17.2,0a8.6,8.6 0 1,0 -17.2,0M1351.0,3701.4a8.6,8.6 0 1,0 17.2,0a8.6,8.6 0 1,0 -17.2,0M1353.1,3701.6a8.6,8.6 0 1,0 17.2,0a8.6,8.6 0 1,0 -17.2,0M1355.2,3703.3a8.6,8.6 0 1,0 17.2,0a8.6,8.6 0 1,0 -17.2,0M1357.2,3702.5a8.6,8.6 0 1,0 17.2,0a8.6,8.6 0 1,0 -17.2,0M1359.3,3703.1a8.6,8.6 0 1,0 17.2,0a8.6,8.6 0 1,0 -17.2,0M1361.3,3699.2a8.6,8.6 0 1,0 17.2,0a8.6,8.6 0 1,0 -17.2,0M1363.4,3703.3a8.6,8.6 0 1,0 17.2,0a8.6,8.6 0 1,0 -17.2,0M1365.4,3704.8a8.6,8.6 0 1,0 17.2,0a8.6,8.6 0 1,0 -17.2,0M1367.5,3702.0a8.6,8.6 0 1,0 17.2,0a8.6,8.6 0 1,0 -17.2,0M1369.5,3705.7a8.6,8.6 0 1,0 17.2,0a8.6,8.6 0 1,0 -17.2,0M1371.6,3701.9a8.6,8.6 0 1,0 17.2,0a8.6,8.6 0 1,0 -17.2,0M1373.6,3702.1a8.6,8.6 0 1,0 17.2,0a8.6,8.6 0 1,0 -17.2,0M1375.7,3704.3a8.6,8.6 0 1,0 17.2,0a8.6,8.6 0 1,0 -17.2,0M1377.7,3704.0a8.6,8.6 0 1,0 17.2,0a8.6,8.6 0 1,0 -17.2,0M1379.8,3704.1a8.6,8.6 0 1,0 17.2,0a8.6,8.6 0 1,0 -17.2,0M1381.9,3700.4a8.6,8.6 0 1,0 17.2,0a8.6,8.6 0 1,0 -17.2,0M1383.9,3702.6a8.6,8.6 0 1,0 17.2,0a8.6,8.6 0 1,0 -17.2,0M1386.0,3705.5a8.6,8.6 0 1,0 17.2,0a8.6,8.6 0 1,0 -17.2,0M1388.0,3705.7a8.6,8.6 0 1,0 17.2,0a8.6,8.6 0 1,0 -17.2,0M1390.1,3703.7a8.6,8.6 0 1,0 17.2,0a8.6,8.6 0 1,0 -17.2,0M1392.1,3703.7a8.6,8.6 0 1,0 17.2,0a8.6,8.6 0 1,0 -17.2,0M1394.2,3705.1a8.6,8.6 0 1,0 17.2,0a8.6,8.6 0 1,0 -17.2,0M1396.2,3703.4a8.6,8.6 0 1,0 17.2,0a8.6,8.6 0 1,0 -17.2,0M1398.3,3704.4a8.6,8.6 0 1,0 17.2,0a8.6,8.6 0 1,0 -17.2,0M1400.3,3702.2a8.6,8.6 0 1,0 17.2,0a8.6,8.6 0 1,0 -17.2,0M1402.4,3703.5a8.6,8.6 0 1,0 17.2,0a8.6,8.6 0 1,0 -17.2,0M1404.4,3704.5a8.6,8.6 0 1,0 17.2,0a8.6,8.6 0 1,0 -17.2,0M1406.5,3704.2a8.6,8.6 0 1,0 17.2,0a8.6,8.6 0 1,0 -17.2,0M1408.5,3706.1a8.6,8.6 0 1,0 17.2,0a8.6,8.6 0 1,0 -17.2,0M1410.6,3703.1a8.6,8.6 0 1,0 17.2,0a8.6,8.6 0 1,0 -17.2,0M1412.7,3704.1a8.6,8.6 0 1,0 17.2,0a8.6,8.6 0 1,0 -17.2,0M1414.7,3705.6a8.6,8.6 0 1,0 17.2,0a8.6,8.6 0 1,0 -17.2,0M1416.8,3704.7a8.6,8.6 0 1,0 17.2,0a8.6,8.6 0 1,0 -17.2,0M1418.8,3706.0a8.6,8.6 0 1,0 17.2,0a8.6,8.6 0 1,0 -17.2,0M1420.9,3700.8a8.6,8.6 0 1,0 17.2,0a8.6,8.6 0 1,0 -17.2,0M1422.9,3706.0a8.6,8.6 0 1,0 17.2,0a8.6,8.6 0 1,0 -17.2,0M1425.0,3704.4a8.6,8.6 0 1,0 17.2,0a8.6,8.6 0 1,0 -17.2,0M1427.0,3704.8a8.6,8.6 0 1,0 17.2,0a8.6,8.6 0 1,0 -17.2,0M1429.1,3706.9a8.6,8.6 0 1,0 17.2,0a8.6,8.6 0 1,0 -17.2,0M1431.1,3705.6a8.6,8.6 0 1,0 17.2,0a8.6,8.6 0 1,0 -17.2,0M1433.2,3706.3a8.6,8.6 0 1,0 17.2,0a8.6,8.6 0 1,0 -17.2,0M1435.2,3705.4a8.6,8.6 0 1,0 17.2,0a8.6,8.6 0 1,0 -17.2,0M1437.3,3705.5a8.6,8.6 0 1,0 17.2,0a8.6,8.6 0 1,0 -17.2,0M1439.4,3704.7a8.6,8.6 0 1,0 17.2,0a8.6,8.6 0 1,0 -17.2,0M1441.4,3704.8a8.6,8.6 0 1,0 17.2,0a8.6,8.6 0 1,0 -17.2,0M1443.5,3706.9a8.6,8.6 0 1,0 17.2,0a8.6,8.6 0 1,0 -17.2,0M1445.5,3707.3a8.6,8.6 0 1,0 17.2,0a8.6,8.6 0 1,0 -17.2,0M1447.6,3707.5a8.6,8.6 0 1,0 17.2,0a8.6,8.6 0 1,0 -17.2,0M1449.6,3708.0a8.6,8.6 0 1,0 17.2,0a8.6,8.6 0 1,0 -17.2,0M1451.7,3709.7a8.6,8.6 0 1,0 17.2,0a8.6,8.6 0 1,0 -17.2,0M1453.7,3705.7a8.6,8.6 0 1,0 17.2,0a8.6,8.6 0 1,0 -17.2,0M1455.8,3707.0a8.6,8.6 0 1,0 17.2,0a8.6,8.6 0 1,0 -17.2,0M1457.8,3707.3a8.6,8.6 0 1,0 17.2,0a8.6,8.6 0 1,0 -17.2,0M1459.9,3709.9a8.6,8.6 0 1,0 17.2,0a8.6,8.6 0 1,0 -17.2,0M1461.9,3709.7a8.6,8.6 0 1,0 17.2,0a8.6,8.6 0 1,0 -17.2,0M1464.0,3711.6a8.6,8.6 0 1,0 17.2,0a8.6,8.6 0 1,0 -17.2,0M1466.1,3707.5a8.6,8.6 0 1,0 17.2,0a8.6,8.6 0 1,0 -17.2,0M1468.1,3706.3a8.6,8.6 0 1,0 17.2,0a8.6,8.6 0 1,0 -17.2,0M1470.2,3706.5a8.6,8.6 0 1,0 17.2,0a8.6,8.6 0 1,0 -17.2,0M1472.2,3707.8a8.6,8.6 0 1,0 17.2,0a8.6,8.6 0 1,0 -17.2,0M1474.3,3709.6a8.6,8.6 0 1,0 17.2,0a8.6,8.6 0 1,0 -17.2,0M1476.3,3707.9a8.6,8.6 0 1,0 17.2,0a8.6,8.6 0 1,0 -17.2,0M1478.4,3707.9a8.6,8.6 0 1,0 17.2,0a8.6,8.6 0 1,0 -17.2,0M1480.4,3706.8a8.6,8.6 0 1,0 17.2,0a8.6,8.6 0 1,0 -17.2,0M1482.5,3706.8a8.6,8.6 0 1,0 17.2,0a8.6,8.6 0 1,0 -17.2,0M1484.5,3708.7a8.6,8.6 0 1,0 17.2,0a8.6,8.6 0 1,0 -17.2,0M1486.6,3708.4a8.6,8.6 0 1,0 17.2,0a8.6,8.6 0 1,0 -17.2,0M1488.6,3707.3a8.6,8.6 0 1,0 17.2,0a8.6,8.6 0 1,0 -17.2,0M1490.7,3707.8a8.6,8.6 0 1,0 17.2,0a8.6,8.6 0 1,0 -17.2,0M1492.7,3709.0a8.6,8.6 0 1,0 17.2,0a8.6,8.6 0 1,0 -17.2,0M1494.8,3712.5a8.6,8.6 0 1,0 17.2,0a8.6,8.6 0 1,0 -17.2,0M1496.9,3710.0a8.6,8.6 0 1,0 17.2,0a8.6,8.6 0 1,0 -17.2,0M1498.9,3707.5a8.6,8.6 0 1,0 17.2,0a8.6,8.6 0 1,0 -17.2,0M1501.0,3708.8a8.6,8.6 0 1,0 17.2,0a8.6,8.6 0 1,0 -17.2,0M1503.0,3707.6a8.6,8.6 0 1,0 17.2,0a8.6,8.6 0 1,0 -17.2,0M1505.1,3709.9a8.6,8.6 0 1,0 17.2,0a8.6,8.6 0 1,0 -17.2,0M1507.1,3709.3a8.6,8.6 0 1,0 17.2,0a8.6,8.6 0 1,0 -17.2,0M1509.2,3708.2a8.6,8.6 0 1,0 17.2,0a8.6,8.6 0 1,0 -17.2,0M1511.2,3708.5a8.6,8.6 0 1,0 17.2,0a8.6,8.6 0 1,0 -17.2,0M1513.3,3709.1a8.6,8.6 0 1,0 17.2,0a8.6,8.6 0 1,0 -17.2,0M1515.3,3708.0a8.6,8.6 0 1,0 17.2,0a8.6,8.6 0 1,0 -17.2,0M1517.4,3707.7a8.6,8.6 0 1,0 17.2,0a8.6,8.6 0 1,0 -17.2,0M1519.4,3707.7a8.6,8.6 0 1,0 17.2,0a8.6,8.6 0 1,0 -17.2,0M1521.5,3713.1a8.6,8.6 0 1,0 17.2,0a8.6,8.6 0 1,0 -17.2,0M1523.6,3711.1a8.6,8.6 0 1,0 17.2,0a8.6,8.6 0 1,0 -17.2,0M1525.6,3711.0a8.6,8.6 0 1,0 17.2,0a8.6,8.6 0 1,0 -17.2,0M1527.7,3711.2a8.6,8.6 0 1,0 17.2,0a8.6,8.6 0 1,0 -17.2,0M1529.7,3713.5a8.6,8.6 0 1,0 17.2,0a8.6,8.6 0 1,0 -17.2,0M1531.8,3708.5a8.6,8.6 0 1,0 17.2,0a8.6,8.6 0 1,0 -17.2,0M1533.8,3712.6a8.6,8.6 0 1,0 17.2,0a8.6,8.6 0 1,0 -17.2,0M1535.9,3710.8a8.6,8.6 0 1,0 17.2,0a8.6,8.6 0 1,0 -17.2,0M1537.9,3715.2a8.6,8.6 0 1,0 17.2,0a8.6,8.6 0 1,0 -17.2,0M1540.0,3712.0a8.6,8.6 0 1,0 17.2,0a8.6,8.6 0 1,0 -17.2,0M1542.0,3711.7a8.6,8.6 0 1,0 17.2,0a8.6,8.6 0 1,0 -17.2,0M1544.1,3713.0a8.6,8.6 0 1,0 17.2,0a8.6,8.6 0 1,0 -17.2,0M1546.1,3710.2a8.6,8.6 0 1,0 17.2,0a8.6,8.6 0 1,0 -17.2,0M1548.2,3707.4a8.6,8.6 0 1,0 17.2,0a8.6,8.6 0 1,0 -17.2,0M1550.2,3713.2a8.6,8.6 0 1,0 17.2,0a8.6,8.6 0 1,0 -17.2,0M1552.3,3713.2a8.6,8.6 0 1,0 17.2,0a8.6,8.6 0 1,0 -17.2,0M1554.4,3708.8a8.6,8.6 0 1,0 17.2,0a8.6,8.6 0 1,0 -17.2,0M1556.4,3710.9a8.6,8.6 0 1,0 17.2,0a8.6,8.6 0 1,0 -17.2,0M1558.5,3712.6a8.6,8.6 0 1,0 17.2,0a8.6,8.6 0 1,0 -17.2,0M1560.5,3714.3a8.6,8.6 0 1,0 17.2,0a8.6,8.6 0 1,0 -17.2,0M1562.6,3710.9a8.6,8.6 0 1,0 17.2,0a8.6,8.6 0 1,0 -17.2,0M1564.6,3731.4a8.6,8.6 0 1,0 17.2,0a8.6,8.6 0 1,0 -17.2,0M1566.7,3709.7a8.6,8.6 0 1,0 17.2,0a8.6,8.6 0 1,0 -17.2,0M1568.7,3737.2a8.6,8.6 0 1,0 17.2,0a8.6,8.6 0 1,0 -17.2,0M1570.8,3712.8a8.6,8.6 0 1,0 17.2,0a8.6,8.6 0 1,0 -17.2,0M1572.8,3713.1a8.6,8.6 0 1,0 17.2,0a8.6,8.6 0 1,0 -17.2,0M1574.9,3713.0a8.6,8.6 0 1,0 17.2,0a8.6,8.6 0 1,0 -17.2,0M1576.9,3710.9a8.6,8.6 0 1,0 17.2,0a8.6,8.6 0 1,0 -17.2,0M1579.0,3711.4a8.6,8.6 0 1,0 17.2,0a8.6,8.6 0 1,0 -17.2,0M1581.1,3714.0a8.6,8.6 0 1,0 17.2,0a8.6,8.6 0 1,0 -17.2,0M1583.1,3713.1a8.6,8.6 0 1,0 17.2,0a8.6,8.6 0 1,0 -17.2,0M1585.2,3713.4a8.6,8.6 0 1,0 17.2,0a8.6,8.6 0 1,0 -17.2,0M1587.2,3711.6a8.6,8.6 0 1,0 17.2,0a8.6,8.6 0 1,0 -17.2,0M1589.3,3727.5a8.6,8.6 0 1,0 17.2,0a8.6,8.6 0 1,0 -17.2,0M1591.3,3715.2a8.6,8.6 0 1,0 17.2,0a8.6,8.6 0 1,0 -17.2,0M1593.4,3713.9a8.6,8.6 0 1,0 17.2,0a8.6,8.6 0 1,0 -17.2,0M1595.4,3713.5a8.6,8.6 0 1,0 17.2,0a8.6,8.6 0 1,0 -17.2,0M1597.5,3732.1a8.6,8.6 0 1,0 17.2,0a8.6,8.6 0 1,0 -17.2,0M1599.5,3711.3a8.6,8.6 0 1,0 17.2,0a8.6,8.6 0 1,0 -17.2,0M1601.6,3711.4a8.6,8.6 0 1,0 17.2,0a8.6,8.6 0 1,0 -17.2,0M1603.6,3713.0a8.6,8.6 0 1,0 17.2,0a8.6,8.6 0 1,0 -17.2,0M1605.7,3714.6a8.6,8.6 0 1,0 17.2,0a8.6,8.6 0 1,0 -17.2,0M1607.7,3712.8a8.6,8.6 0 1,0 17.2,0a8.6,8.6 0 1,0 -17.2,0M1609.8,3714.2a8.6,8.6 0 1,0 17.2,0a8.6,8.6 0 1,0 -17.2,0M1611.9,3715.0a8.6,8.6 0 1,0 17.2,0a8.6,8.6 0 1,0 -17.2,0M1613.9,3713.5a8.6,8.6 0 1,0 17.2,0a8.6,8.6 0 1,0 -17.2,0M1616.0,3713.4a8.6,8.6 0 1,0 17.2,0a8.6,8.6 0 1,0 -17.2,0M1618.0,3734.3a8.6,8.6 0 1,0 17.2,0a8.6,8.6 0 1,0 -17.2,0M1620.1,3715.8a8.6,8.6 0 1,0 17.2,0a8.6,8.6 0 1,0 -17.2,0M1622.1,3717.2a8.6,8.6 0 1,0 17.2,0a8.6,8.6 0 1,0 -17.2,0M1624.2,3713.4a8.6,8.6 0 1,0 17.2,0a8.6,8.6 0 1,0 -17.2,0M1626.2,3739.0a8.6,8.6 0 1,0 17.2,0a8.6,8.6 0 1,0 -17.2,0M1628.3,3712.7a8.6,8.6 0 1,0 17.2,0a8.6,8.6 0 1,0 -17.2,0M1630.3,3716.4a8.6,8.6 0 1,0 17.2,0a8.6,8.6 0 1,0 -17.2,0M1632.4,3715.6a8.6,8.6 0 1,0 17.2,0a8.6,8.6 0 1,0 -17.2,0M1634.4,3717.7a8.6,8.6 0 1,0 17.2,0a8.6,8.6 0 1,0 -17.2,0M1636.5,3711.1a8.6,8.6 0 1,0 17.2,0a8.6,8.6 0 1,0 -17.2,0M1638.6,3715.5a8.6,8.6 0 1,0 17.2,0a8.6,8.6 0 1,0 -17.2,0M1640.6,3714.9a8.6,8.6 0 1,0 17.2,0a8.6,8.6 0 1,0 -17.2,0M1642.7,3715.7a8.6,8.6 0 1,0 17.2,0a8.6,8.6 0 1,0 -17.2,0M1644.7,3715.3a8.6,8.6 0 1,0 17.2,0a8.6,8.6 0 1,0 -17.2,0M1646.8,3713.5a8.6,8.6 0 1,0 17.2,0a8.6,8.6 0 1,0 -17.2,0M1648.8,3714.8a8.6,8.6 0 1,0 17.2,0a8.6,8.6 0 1,0 -17.2,0M1650.9,3730.0a8.6,8.6 0 1,0 17.2,0a8.6,8.6 0 1,0 -17.2,0M1652.9,3713.0a8.6,8.6 0 1,0 17.2,0a8.6,8.6 0 1,0 -17.2,0M1655.0,3717.4a8.6,8.6 0 1,0 17.2,0a8.6,8.6 0 1,0 -17.2,0M1657.0,3713.2a8.6,8.6 0 1,0 17.2,0a8.6,8.6 0 1,0 -17.2,0M1659.1,3712.4a8.6,8.6 0 1,0 17.2,0a8.6,8.6 0 1,0 -17.2,0M1661.1,3738.9a8.6,8.6 0 1,0 17.2,0a8.6,8.6 0 1,0 -17.2,0M1663.2,3734.2a8.6,8.6 0 1,0 17.2,0a8.6,8.6 0 1,0 -17.2,0M1665.2,3717.5a8.6,8.6 0 1,0 17.2,0a8.6,8.6 0 1,0 -17.2,0M1667.3,3719.0a8.6,8.6 0 1,0 17.2,0a8.6,8.6 0 1,0 -17.2,0M1669.4,3716.8a8.6,8.6 0 1,0 17.2,0a8.6,8.6 0 1,0 -17.2,0M1671.4,3714.5a8.6,8.6 0 1,0 17.2,0a8.6,8.6 0 1,0 -17.2,0M1673.5,3714.1a8.6,8.6 0 1,0 17.2,0a8.6,8.6 0 1,0 -17.2,0M1675.5,3735.4a8.6,8.6 0 1,0 17.2,0a8.6,8.6 0 1,0 -17.2,0M1677.6,3717.0a8.6,8.6 0 1,0 17.2,0a8.6,8.6 0 1,0 -17.2,0M1679.6,3716.3a8.6,8.6 0 1,0 17.2,0a8.6,8.6 0 1,0 -17.2,0M1681.7,3716.8a8.6,8.6 0 1,0 17.2,0a8.6,8.6 0 1,0 -17.2,0M1683.7,3716.7a8.6,8.6 0 1,0 17.2,0a8.6,8.6 0 1,0 -17.2,0M1685.8,3740.3a8.6,8.6 0 1,0 17.2,0a8.6,8.6 0 1,0 -17.2,0M1687.8,3716.1a8.6,8.6 0 1,0 17.2,0a8.6,8.6 0 1,0 -17.2,0M1689.9,3715.9a8.6,8.6 0 1,0 17.2,0a8.6,8.6 0 1,0 -17.2,0M1691.9,3712.0a8.6,8.6 0 1,0 17.2,0a8.6,8.6 0 1,0 -17.2,0M1694.0,3714.6a8.6,8.6 0 1,0 17.2,0a8.6,8.6 0 1,0 -17.2,0M1696.1,3716.1a8.6,8.6 0 1,0 17.2,0a8.6,8.6 0 1,0 -17.2,0M1698.1,3715.7a8.6,8.6 0 1,0 17.2,0a8.6,8.6 0 1,0 -17.2,0M1700.2,3715.3a8.6,8.6 0 1,0 17.2,0a8.6,8.6 0 1,0 -17.2,0M1702.2,3717.1a8.6,8.6 0 1,0 17.2,0a8.6,8.6 0 1,0 -17.2,0M1704.3,3719.6a8.6,8.6 0 1,0 17.2,0a8.6,8.6 0 1,0 -17.2,0M1706.3,3717.2a8.6,8.6 0 1,0 17.2,0a8.6,8.6 0 1,0 -17.2,0M1708.4,3716.4a8.6,8.6 0 1,0 17.2,0a8.6,8.6 0 1,0 -17.2,0M1710.4,3715.8a8.6,8.6 0 1,0 17.2,0a8.6,8.6 0 1,0 -17.2,0M1712.5,3717.3a8.6,8.6 0 1,0 17.2,0a8.6,8.6 0 1,0 -17.2,0M1714.5,3717.7a8.6,8.6 0 1,0 17.2,0a8.6,8.6 0 1,0 -17.2,0M1716.6,3716.6a8.6,8.6 0 1,0 17.2,0a8.6,8.6 0 1,0 -17.2,0M1718.6,3716.1a8.6,8.6 0 1,0 17.2,0a8.6,8.6 0 1,0 -17.2,0M1720.7,3715.2a8.6,8.6 0 1,0 17.2,0a8.6,8.6 0 1,0 -17.2,0M1722.8,3716.6a8.6,8.6 0 1,0 17.2,0a8.6,8.6 0 1,0 -17.2,0M1724.8,3715.5a8.6,8.6 0 1,0 17.2,0a8.6,8.6 0 1,0 -17.2,0M1726.9,3718.0a8.6,8.6 0 1,0 17.2,0a8.6,8.6 0 1,0 -17.2,0M1728.9,3714.9a8.6,8.6 0 1,0 17.2,0a8.6,8.6 0 1,0 -17.2,0M1731.0,3716.4a8.6,8.6 0 1,0 17.2,0a8.6,8.6 0 1,0 -17.2,0M1733.0,3718.7a8.6,8.6 0 1,0 17.2,0a8.6,8.6 0 1,0 -17.2,0M1735.1,3716.8a8.6,8.6 0 1,0 17.2,0a8.6,8.6 0 1,0 -17.2,0M1737.1,3716.2a8.6,8.6 0 1,0 17.2,0a8.6,8.6 0 1,0 -17.2,0M1739.2,3718.3a8.6,8.6 0 1,0 17.2,0a8.6,8.6 0 1,0 -17.2,0M1741.2,3715.2a8.6,8.6 0 1,0 17.2,0a8.6,8.6 0 1,0 -17.2,0M1743.3,3717.1a8.6,8.6 0 1,0 17.2,0a8.6,8.6 0 1,0 -17.2,0M1745.3,3715.7a8.6,8.6 0 1,0 17.2,0a8.6,8.6 0 1,0 -17.2,0M1747.4,3718.3a8.6,8.6 0 1,0 17.2,0a8.6,8.6 0 1,0 -17.2,0M1749.4,3716.0a8.6,8.6 0 1,0 17.2,0a8.6,8.6 0 1,0 -17.2,0M1751.5,3715.3a8.6,8.6 0 1,0 17.2,0a8.6,8.6 0 1,0 -17.2,0M1753.6,3717.4a8.6,8.6 0 1,0 17.2,0a8.6,8.6 0 1,0 -17.2,0M1755.6,3717.0a8.6,8.6 0 1,0 17.2,0a8.6,8.6 0 1,0 -17.2,0M1757.7,3717.7a8.6,8.6 0 1,0 17.2,0a8.6,8.6 0 1,0 -17.2,0M1759.7,3716.1a8.6,8.6 0 1,0 17.2,0a8.6,8.6 0 1,0 -17.2,0M1761.8,3716.7a8.6,8.6 0 1,0 17.2,0a8.6,8.6 0 1,0 -17.2,0M1763.8,3715.9a8.6,8.6 0 1,0 17.2,0a8.6,8.6 0 1,0 -17.2,0M1765.9,3716.9a8.6,8.6 0 1,0 17.2,0a8.6,8.6 0 1,0 -17.2,0M1767.9,3719.0a8.6,8.6 0 1,0 17.2,0a8.6,8.6 0 1,0 -17.2,0M1770.0,3719.1a8.6,8.6 0 1,0 17.2,0a8.6,8.6 0 1,0 -17.2,0M1772.0,3717.6a8.6,8.6 0 1,0 17.2,0a8.6,8.6 0 1,0 -17.2,0M1774.1,3716.0a8.6,8.6 0 1,0 17.2,0a8.6,8.6 0 1,0 -17.2,0M1776.1,3712.9a8.6,8.6 0 1,0 17.2,0a8.6,8.6 0 1,0 -17.2,0M1778.2,3715.4a8.6,8.6 0 1,0 17.2,0a8.6,8.6 0 1,0 -17.2,0M1780.3,3718.0a8.6,8.6 0 1,0 17.2,0a8.6,8.6 0 1,0 -17.2,0M1782.3,3733.8a8.6,8.6 0 1,0 17.2,0a8.6,8.6 0 1,0 -17.2,0M1784.4,3716.1a8.6,8.6 0 1,0 17.2,0a8.6,8.6 0 1,0 -17.2,0M1786.4,3717.0a8.6,8.6 0 1,0 17.2,0a8.6,8.6 0 1,0 -17.2,0M1788.5,3719.1a8.6,8.6 0 1,0 17.2,0a8.6,8.6 0 1,0 -17.2,0M1790.5,3715.5a8.6,8.6 0 1,0 17.2,0a8.6,8.6 0 1,0 -17.2,0M1792.6,3717.0a8.6,8.6 0 1,0 17.2,0a8.6,8.6 0 1,0 -17.2,0M1794.6,3717.8a8.6,8.6 0 1,0 17.2,0a8.6,8.6 0 1,0 -17.2,0M1796.7,3738.3a8.6,8.6 0 1,0 17.2,0a8.6,8.6 0 1,0 -17.2,0M1798.7,3715.4a8.6,8.6 0 1,0 17.2,0a8.6,8.6 0 1,0 -17.2,0M1800.8,3717.0a8.6,8.6 0 1,0 17.2,0a8.6,8.6 0 1,0 -17.2,0M1802.8,3717.6a8.6,8.6 0 1,0 17.2,0a8.6,8.6 0 1,0 -17.2,0M1804.9,3718.9a8.6,8.6 0 1,0 17.2,0a8.6,8.6 0 1,0 -17.2,0M1806.9,3717.8a8.6,8.6 0 1,0 17.2,0a8.6,8.6 0 1,0 -17.2,0M1809.0,3715.1a8.6,8.6 0 1,0 17.2,0a8.6,8.6 0 1,0 -17.2,0M1811.1,3716.3a8.6,8.6 0 1,0 17.2,0a8.6,8.6 0 1,0 -17.2,0M1813.1,3713.8a8.6,8.6 0 1,0 17.2,0a8.6,8.6 0 1,0 -17.2,0M1815.2,3715.4a8.6,8.6 0 1,0 17.2,0a8.6,8.6 0 1,0 -17.2,0M1817.2,3730.2a8.6,8.6 0 1,0 17.2,0a8.6,8.6 0 1,0 -17.2,0M1819.3,3715.8a8.6,8.6 0 1,0 17.2,0a8.6,8.6 0 1,0 -17.2,0M1821.3,3717.1a8.6,8.6 0 1,0 17.2,0a8.6,8.6 0 1,0 -17.2,0M1823.4,3719.9a8.6,8.6 0 1,0 17.2,0a8.6,8.6 0 1,0 -17.2,0M1825.4,3718.4a8.6,8.6 0 1,0 17.2,0a8.6,8.6 0 1,0 -17.2,0M1827.5,3716.8a8.6,8.6 0 1,0 17.2,0a8.6,8.6 0 1,0 -17.2,0M1829.5,3719.1a8.6,8.6 0 1,0 17.2,0a8.6,8.6 0 1,0 -17.2,0M1831.6,3718.4a8.6,8.6 0 1,0 17.2,0a8.6,8.6 0 1,0 -17.2,0M1833.6,3719.6a8.6,8.6 0 1,0 17.2,0a8.6,8.6 0 1,0 -17.2,0M1835.7,3714.6a8.6,8.6 0 1,0 17.2,0a8.6,8.6 0 1,0 -17.2,0M1837.8,3719.8a8.6,8.6 0 1,0 17.2,0a8.6,8.6 0 1,0 -17.2,0M1839.8,3719.4a8.6,8.6 0 1,0 17.2,0a8.6,8.6 0 1,0 -17.2,0M1841.9,3719.1a8.6,8.6 0 1,0 17.2,0a8.6,8.6 0 1,0 -17.2,0M1843.9,3715.9a8.6,8.6 0 1,0 17.2,0a8.6,8.6 0 1,0 -17.2,0M1846.0,3715.6a8.6,8.6 0 1,0 17.2,0a8.6,8.6 0 1,0 -17.2,0M1848.0,3718.6a8.6,8.6 0 1,0 17.2,0a8.6,8.6 0 1,0 -17.2,0M1850.1,3716.6a8.6,8.6 0 1,0 17.2,0a8.6,8.6 0 1,0 -17.2,0M1852.1,3719.2a8.6,8.6 0 1,0 17.2,0a8.6,8.6 0 1,0 -17.2,0M1854.2,3717.7a8.6,8.6 0 1,0 17.2,0a8.6,8.6 0 1,0 -17.2,0M1856.2,3713.2a8.6,8.6 0 1,0 17.2,0a8.6,8.6 0 1,0 -17.2,0M1858.3,3716.1a8.6,8.6 0 1,0 17.2,0a8.6,8.6 0 1,0 -17.2,0M1860.3,3717.8a8.6,8.6 0 1,0 17.2,0a8.6,8.6 0 1,0 -17.2,0M1862.4,3720.1a8.6,8.6 0 1,0 17.2,0a8.6,8.6 0 1,0 -17.2,0M1864.4,3718.3a8.6,8.6 0 1,0 17.2,0a8.6,8.6 0 1,0 -17.2,0M1866.5,3720.1a8.6,8.6 0 1,0 17.2,0a8.6,8.6 0 1,0 -17.2,0M1868.6,3721.6a8.6,8.6 0 1,0 17.2,0a8.6,8.6 0 1,0 -17.2,0M1870.6,3716.8a8.6,8.6 0 1,0 17.2,0a8.6,8.6 0 1,0 -17.2,0M1872.7,3740.0a8.6,8.6 0 1,0 17.2,0a8.6,8.6 0 1,0 -17.2,0M1874.7,3717.5a8.6,8.6 0 1,0 17.2,0a8.6,8.6 0 1,0 -17.2,0M1876.8,3716.2a8.6,8.6 0 1,0 17.2,0a8.6,8.6 0 1,0 -17.2,0M1878.8,3720.8a8.6,8.6 0 1,0 17.2,0a8.6,8.6 0 1,0 -17.2,0M1880.9,3715.5a8.6,8.6 0 1,0 17.2,0a8.6,8.6 0 1,0 -17.2,0M1882.9,3719.8a8.6,8.6 0 1,0 17.2,0a8.6,8.6 0 1,0 -17.2,0M1885.0,3717.3a8.6,8.6 0 1,0 17.2,0a8.6,8.6 0 1,0 -17.2,0M1887.0,3717.2a8.6,8.6 0 1,0 17.2,0a8.6,8.6 0 1,0 -17.2,0M1889.1,3716.1a8.6,8.6 0 1,0 17.2,0a8.6,8.6 0 1,0 -17.2,0M1891.1,3714.6a8.6,8.6 0 1,0 17.2,0a8.6,8.6 0 1,0 -17.2,0M1893.2,3717.4a8.6,8.6 0 1,0 17.2,0a8.6,8.6 0 1,0 -17.2,0M1895.3,3741.4a8.6,8.6 0 1,0 17.2,0a8.6,8.6 0 1,0 -17.2,0M1897.3,3720.0a8.6,8.6 0 1,0 17.2,0a8.6,8.6 0 1,0 -17.2,0M1899.4,3717.6a8.6,8.6 0 1,0 17.2,0a8.6,8.6 0 1,0 -17.2,0M1901.4,3719.6a8.6,8.6 0 1,0 17.2,0a8.6,8.6 0 1,0 -17.2,0M1903.5,3741.6a8.6,8.6 0 1,0 17.2,0a8.6,8.6 0 1,0 -17.2,0M1905.5,3718.5a8.6,8.6 0 1,0 17.2,0a8.6,8.6 0 1,0 -17.2,0M1907.6,3717.0a8.6,8.6 0 1,0 17.2,0a8.6,8.6 0 1,0 -17.2,0M1909.6,3718.7a8.6,8.6 0 1,0 17.2,0a8.6,8.6 0 1,0 -17.2,0M1911.7,3740.5a8.6,8.6 0 1,0 17.2,0a8.6,8.6 0 1,0 -17.2,0M1913.7,3718.0a8.6,8.6 0 1,0 17.2,0a8.6,8.6 0 1,0 -17.2,0M1915.8,3720.4a8.6,8.6 0 1,0 17.2,0a8.6,8.6 0 1,0 -17.2,0M1917.8,3720.9a8.6,8.6 0 1,0 17.2,0a8.6,8.6 0 1,0 -17.2,0M1919.9,3733.5a8.6,8.6 0 1,0 17.2,0a8.6,8.6 0 1,0 -17.2,0M1921.9,3717.9a8.6,8.6 0 1,0 17.2,0a8.6,8.6 0 1,0 -17.2,0M1924.0,3714.9a8.6,8.6 0 1,0 17.2,0a8.6,8.6 0 1,0 -17.2,0M1926.1,3720.9a8.6,8.6 0 1,0 17.2,0a8.6,8.6 0 1,0 -17.2,0M1928.1,3716.5a8.6,8.6 0 1,0 17.2,0a8.6,8.6 0 1,0 -17.2,0M1930.2,3718.6a8.6,8.6 0 1,0 17.2,0a8.6,8.6 0 1,0 -17.2,0M1932.2,3713.7a8.6,8.6 0 1,0 17.2,0a8.6,8.6 0 1,0 -17.2,0M1934.3,3718.7a8.6,8.6 0 1,0 17.2,0a8.6,8.6 0 1,0 -17.2,0M1936.3,3738.7a8.6,8.6 0 1,0 17.2,0a8.6,8.6 0 1,0 -17.2,0M1938.4,3717.7a8.6,8.6 0 1,0 17.2,0a8.6,8.6 0 1,0 -17.2,0M1940.4,3718.1a8.6,8.6 0 1,0 17.2,0a8.6,8.6 0 1,0 -17.2,0M1942.5,3719.2a8.6,8.6 0 1,0 17.2,0a8.6,8.6 0 1,0 -17.2,0M1944.5,3716.8a8.6,8.6 0 1,0 17.2,0a8.6,8.6 0 1,0 -17.2,0M1946.6,3737.6a8.6,8.6 0 1,0 17.2,0a8.6,8.6 0 1,0 -17.2,0M1948.6,3716.9a8.6,8.6 0 1,0 17.2,0a8.6,8.6 0 1,0 -17.2,0M1950.7,3717.8a8.6,8.6 0 1,0 17.2,0a8.6,8.6 0 1,0 -17.2,0M1952.8,3719.7a8.6,8.6 0 1,0 17.2,0a8.6,8.6 0 1,0 -17.2,0M1954.8,3719.7a8.6,8.6 0 1,0 17.2,0a8.6,8.6 0 1,0 -17.2,0M1956.9,3717.5a8.6,8.6 0 1,0 17.2,0a8.6,8.6 0 1,0 -17.2,0M1958.9,3720.1a8.6,8.6 0 1,0 17.2,0a8.6,8.6 0 1,0 -17.2,0M1961.0,3729.2a8.6,8.6 0 1,0 17.2,0a8.6,8.6 0 1,0 -17.2,0M1963.0,3718.5a8.6,8.6 0 1,0 17.2,0a8.6,8.6 0 1,0 -17.2,0M1965.1,3719.9a8.6,8.6 0 1,0 17.2,0a8.6,8.6 0 1,0 -17.2,0M1967.1,3716.8a8.6,8.6 0 1,0 17.2,0a8.6,8.6 0 1,0 -17.2,0M1969.2,3718.6a8.6,8.6 0 1,0 17.2,0a8.6,8.6 0 1,0 -17.2,0M1971.2,3739.7a8.6,8.6 0 1,0 17.2,0a8.6,8.6 0 1,0 -17.2,0M1973.3,3718.2a8.6,8.6 0 1,0 17.2,0a8.6,8.6 0 1,0 -17.2,0M1975.3,3715.5a8.6,8.6 0 1,0 17.2,0a8.6,8.6 0 1,0 -17.2,0M1977.4,3741.2a8.6,8.6 0 1,0 17.2,0a8.6,8.6 0 1,0 -17.2,0M1979.5,3722.4a8.6,8.6 0 1,0 17.2,0a8.6,8.6 0 1,0 -17.2,0M1981.5,3735.0a8.6,8.6 0 1,0 17.2,0a8.6,8.6 0 1,0 -17.2,0M1983.6,3721.5a8.6,8.6 0 1,0 17.2,0a8.6,8.6 0 1,0 -17.2,0M1985.6,3717.6a8.6,8.6 0 1,0 17.2,0a8.6,8.6 0 1,0 -17.2,0M1987.7,3715.5a8.6,8.6 0 1,0 17.2,0a8.6,8.6 0 1,0 -17.2,0M1989.7,3719.0a8.6,8.6 0 1,0 17.2,0a8.6,8.6 0 1,0 -17.2,0M1991.8,3721.0a8.6,8.6 0 1,0 17.2,0a8.6,8.6 0 1,0 -17.2,0M1993.8,3717.5a8.6,8.6 0 1,0 17.2,0a8.6,8.6 0 1,0 -17.2,0M1995.9,3717.9a8.6,8.6 0 1,0 17.2,0a8.6,8.6 0 1,0 -17.2,0M1997.9,3719.3a8.6,8.6 0 1,0 17.2,0a8.6,8.6 0 1,0 -17.2,0M2000.0,3718.0a8.6,8.6 0 1,0 17.2,0a8.6,8.6 0 1,0 -17.2,0M2002.0,3718.7a8.6,8.6 0 1,0 17.2,0a8.6,8.6 0 1,0 -17.2,0M2004.1,3720.7a8.6,8.6 0 1,0 17.2,0a8.6,8.6 0 1,0 -17.2,0M2006.1,3717.5a8.6,8.6 0 1,0 17.2,0a8.6,8.6 0 1,0 -17.2,0M2008.2,3719.6a8.6,8.6 0 1,0 17.2,0a8.6,8.6 0 1,0 -17.2,0M2010.3,3720.4a8.6,8.6 0 1,0 17.2,0a8.6,8.6 0 1,0 -17.2,0M2012.3,3719.1a8.6,8.6 0 1,0 17.2,0a8.6,8.6 0 1,0 -17.2,0M2014.4,3716.0a8.6,8.6 0 1,0 17.2,0a8.6,8.6 0 1,0 -17.2,0M2016.4,3715.3a8.6,8.6 0 1,0 17.2,0a8.6,8.6 0 1,0 -17.2,0M2018.5,3716.3a8.6,8.6 0 1,0 17.2,0a8.6,8.6 0 1,0 -17.2,0M2020.5,3738.8a8.6,8.6 0 1,0 17.2,0a8.6,8.6 0 1,0 -17.2,0M2022.6,3720.6a8.6,8.6 0 1,0 17.2,0a8.6,8.6 0 1,0 -17.2,0M2024.6,3718.2a8.6,8.6 0 1,0 17.2,0a8.6,8.6 0 1,0 -17.2,0M2026.7,3719.1a8.6,8.6 0 1,0 17.2,0a8.6,8.6 0 1,0 -17.2,0M2028.7,3718.6a8.6,8.6 0 1,0 17.2,0a8.6,8.6 0 1,0 -17.2,0M2030.8,3720.8a8.6,8.6 0 1,0 17.2,0a8.6,8.6 0 1,0 -17.2,0M2032.8,3720.3a8.6,8.6 0 1,0 17.2,0a8.6,8.6 0 1,0 -17.2,0M2034.9,3720.7a8.6,8.6 0 1,0 17.2,0a8.6,8.6 0 1,0 -17.2,0M2037.0,3717.5a8.6,8.6 0 1,0 17.2,0a8.6,8.6 0 1,0 -17.2,0M2039.0,3717.0a8.6,8.6 0 1,0 17.2,0a8.6,8.6 0 1,0 -17.2,0M2041.1,3720.0a8.6,8.6 0 1,0 17.2,0a8.6,8.6 0 1,0 -17.2,0M2043.1,3717.8a8.6,8.6 0 1,0 17.2,0a8.6,8.6 0 1,0 -17.2,0M2045.2,3717.7a8.6,8.6 0 1,0 17.2,0a8.6,8.6 0 1,0 -17.2,0M2047.2,3740.0a8.6,8.6 0 1,0 17.2,0a8.6,8.6 0 1,0 -17.2,0M2049.3,3718.8a8.6,8.6 0 1,0 17.2,0a8.6,8.6 0 1,0 -17.2,0M2051.3,3717.5a8.6,8.6 0 1,0 17.2,0a8.6,8.6 0 1,0 -17.2,0M2053.4,3734.8a8.6,8.6 0 1,0 17.2,0a8.6,8.6 0 1,0 -17.2,0M2055.4,3716.7a8.6,8.6 0 1,0 17.2,0a8.6,8.6 0 1,0 -17.2,0M2057.5,3719.2a8.6,8.6 0 1,0 17.2,0a8.6,8.6 0 1,0 -17.2,0M2059.5,3718.8a8.6,8.6 0 1,0 17.2,0a8.6,8.6 0 1,0 -17.2,0M2061.6,3719.3a8.6,8.6 0 1,0 17.2,0a8.6,8.6 0 1,0 -17.2,0M2063.6,3721.5a8.6,8.6 0 1,0 17.2,0a8.6,8.6 0 1,0 -17.2,0M2065.7,3733.0a8.6,8.6 0 1,0 17.2,0a8.6,8.6 0 1,0 -17.2,0M2067.8,3741.4a8.6,8.6 0 1,0 17.2,0a8.6,8.6 0 1,0 -17.2,0M2069.8,3719.6a8.6,8.6 0 1,0 17.2,0a8.6,8.6 0 1,0 -17.2,0M2071.9,3719.3a8.6,8.6 0 1,0 17.2,0a8.6,8.6 0 1,0 -17.2,0M2073.9,3718.2a8.6,8.6 0 1,0 17.2,0a8.6,8.6 0 1,0 -17.2,0M2076.0,3719.2a8.6,8.6 0 1,0 17.2,0a8.6,8.6 0 1,0 -17.2,0M2078.0,3719.9a8.6,8.6 0 1,0 17.2,0a8.6,8.6 0 1,0 -17.2,0M2080.1,3718.8a8.6,8.6 0 1,0 17.2,0a8.6,8.6 0 1,0 -17.2,0M2082.1,3717.7a8.6,8.6 0 1,0 17.2,0a8.6,8.6 0 1,0 -17.2,0M2084.2,3718.9a8.6,8.6 0 1,0 17.2,0a8.6,8.6 0 1,0 -17.2,0M2086.2,3720.4a8.6,8.6 0 1,0 17.2,0a8.6,8.6 0 1,0 -17.2,0M2088.3,3734.9a8.6,8.6 0 1,0 17.2,0a8.6,8.6 0 1,0 -17.2,0M2090.3,3719.5a8.6,8.6 0 1,0 17.2,0a8.6,8.6 0 1,0 -17.2,0M2092.4,3718.0a8.6,8.6 0 1,0 17.2,0a8.6,8.6 0 1,0 -17.2,0M2094.5,3719.2a8.6,8.6 0 1,0 17.2,0a8.6,8.6 0 1,0 -17.2,0M2096.5,3720.6a8.6,8.6 0 1,0 17.2,0a8.6,8.6 0 1,0 -17.2,0M2098.6,3721.2a8.6,8.6 0 1,0 17.2,0a8.6,8.6 0 1,0 -17.2,0M2100.6,3738.9a8.6,8.6 0 1,0 17.2,0a8.6,8.6 0 1,0 -17.2,0M2102.7,3719.4a8.6,8.6 0 1,0 17.2,0a8.6,8.6 0 1,0 -17.2,0M2104.7,3722.9a8.6,8.6 0 1,0 17.2,0a8.6,8.6 0 1,0 -17.2,0M2106.8,3718.4a8.6,8.6 0 1,0 17.2,0a8.6,8.6 0 1,0 -17.2,0M2108.8,3717.1a8.6,8.6 0 1,0 17.2,0a8.6,8.6 0 1,0 -17.2,0M2110.9,3719.5a8.6,8.6 0 1,0 17.2,0a8.6,8.6 0 1,0 -17.2,0M2112.9,3721.0a8.6,8.6 0 1,0 17.2,0a8.6,8.6 0 1,0 -17.2,0M2115.0,3721.9a8.6,8.6 0 1,0 17.2,0a8.6,8.6 0 1,0 -17.2,0M2117.0,3718.7a8.6,8.6 0 1,0 17.2,0a8.6,8.6 0 1,0 -17.2,0M2119.1,3738.5a8.6,8.6 0 1,0 17.2,0a8.6,8.6 0 1,0 -17.2,0M2121.1,3719.0a8.6,8.6 0 1,0 17.2,0a8.6,8.6 0 1,0 -17.2,0M2123.2,3717.9a8.6,8.6 0 1,0 17.2,0a8.6,8.6 0 1,0 -17.2,0M2125.3,3720.2a8.6,8.6 0 1,0 17.2,0a8.6,8.6 0 1,0 -17.2,0M2127.3,3719.5a8.6,8.6 0 1,0 17.2,0a8.6,8.6 0 1,0 -17.2,0M2129.4,3718.6a8.6,8.6 0 1,0 17.2,0a8.6,8.6 0 1,0 -17.2,0M2131.4,3719.5a8.6,8.6 0 1,0 17.2,0a8.6,8.6 0 1,0 -17.2,0M2133.5,3738.6a8.6,8.6 0 1,0 17.2,0a8.6,8.6 0 1,0 -17.2,0M2135.5,3718.2a8.6,8.6 0 1,0 17.2,0a8.6,8.6 0 1,0 -17.2,0M2137.6,3719.6a8.6,8.6 0 1,0 17.2,0a8.6,8.6 0 1,0 -17.2,0M2139.6,3720.8a8.6,8.6 0 1,0 17.2,0a8.6,8.6 0 1,0 -17.2,0M2141.7,3736.7a8.6,8.6 0 1,0 17.2,0a8.6,8.6 0 1,0 -17.2,0M2143.7,3717.2a8.6,8.6 0 1,0 17.2,0a8.6,8.6 0 1,0 -17.2,0M2145.8,3721.2a8.6,8.6 0 1,0 17.2,0a8.6,8.6 0 1,0 -17.2,0M2147.8,3719.0a8.6,8.6 0 1,0 17.2,0a8.6,8.6 0 1,0 -17.2,0M2149.9,3720.9a8.6,8.6 0 1,0 17.2,0a8.6,8.6 0 1,0 -17.2,0M2152.0,3732.4a8.6,8.6 0 1,0 17.2,0a8.6,8.6 0 1,0 -17.2,0M2154.0,3720.2a8.6,8.6 0 1,0 17.2,0a8.6,8.6 0 1,0 -17.2,0M2156.1,3718.0a8.6,8.6 0 1,0 17.2,0a8.6,8.6 0 1,0 -17.2,0M2158.1,3720.8a8.6,8.6 0 1,0 17.2,0a8.6,8.6 0 1,0 -17.2,0M2160.2,3713.6a8.6,8.6 0 1,0 17.2,0a8.6,8.6 0 1,0 -17.2,0M2162.2,3721.5a8.6,8.6 0 1,0 17.2,0a8.6,8.6 0 1,0 -17.2,0M2164.3,3718.5a8.6,8.6 0 1,0 17.2,0a8.6,8.6 0 1,0 -17.2,0M2166.3,3721.3a8.6,8.6 0 1,0 17.2,0a8.6,8.6 0 1,0 -17.2,0M2168.4,3717.8a8.6,8.6 0 1,0 17.2,0a8.6,8.6 0 1,0 -17.2,0M2170.4,3721.4a8.6,8.6 0 1,0 17.2,0a8.6,8.6 0 1,0 -17.2,0M2172.5,3720.0a8.6,8.6 0 1,0 17.2,0a8.6,8.6 0 1,0 -17.2,0M2174.5,3738.4a8.6,8.6 0 1,0 17.2,0a8.6,8.6 0 1,0 -17.2,0M2176.6,3719.9a8.6,8.6 0 1,0 17.2,0a8.6,8.6 0 1,0 -17.2,0M2178.6,3719.2a8.6,8.6 0 1,0 17.2,0a8.6,8.6 0 1,0 -17.2,0M2180.7,3731.7a8.6,8.6 0 1,0 17.2,0a8.6,8.6 0 1,0 -17.2,0M2182.8,3723.2a8.6,8.6 0 1,0 17.2,0a8.6,8.6 0 1,0 -17.2,0M2184.8,3718.3a8.6,8.6 0 1,0 17.2,0a8.6,8.6 0 1,0 -17.2,0M2186.9,3719.1a8.6,8.6 0 1,0 17.2,0a8.6,8.6 0 1,0 -17.2,0M2188.9,3720.3a8.6,8.6 0 1,0 17.2,0a8.6,8.6 0 1,0 -17.2,0M2191.0,3719.6a8.6,8.6 0 1,0 17.2,0a8.6,8.6 0 1,0 -17.2,0M2193.0,3718.5a8.6,8.6 0 1,0 17.2,0a8.6,8.6 0 1,0 -17.2,0M2195.1,3719.3a8.6,8.6 0 1,0 17.2,0a8.6,8.6 0 1,0 -17.2,0M2197.1,3719.3a8.6,8.6 0 1,0 17.2,0a8.6,8.6 0 1,0 -17.2,0M2199.2,3720.6a8.6,8.6 0 1,0 17.2,0a8.6,8.6 0 1,0 -17.2,0M2201.2,3719.9a8.6,8.6 0 1,0 17.2,0a8.6,8.6 0 1,0 -17.2,0M2203.3,3718.4a8.6,8.6 0 1,0 17.2,0a8.6,8.6 0 1,0 -17.2,0M2205.3,3720.8a8.6,8.6 0 1,0 17.2,0a8.6,8.6 0 1,0 -17.2,0M2207.4,3720.1a8.6,8.6 0 1,0 17.2,0a8.6,8.6 0 1,0 -17.2,0M2209.5,3719.1a8.6,8.6 0 1,0 17.2,0a8.6,8.6 0 1,0 -17.2,0M2211.5,3741.2a8.6,8.6 0 1,0 17.2,0a8.6,8.6 0 1,0 -17.2,0M2213.6,3718.6a8.6,8.6 0 1,0 17.2,0a8.6,8.6 0 1,0 -17.2,0M2215.6,3719.6a8.6,8.6 0 1,0 17.2,0a8.6,8.6 0 1,0 -17.2,0M2217.7,3722.8a8.6,8.6 0 1,0 17.2,0a8.6,8.6 0 1,0 -17.2,0M2219.7,3736.5a8.6,8.6 0 1,0 17.2,0a8.6,8.6 0 1,0 -17.2,0M2221.8,3717.5a8.6,8.6 0 1,0 17.2,0a8.6,8.6 0 1,0 -17.2,0M2223.8,3717.2a8.6,8.6 0 1,0 17.2,0a8.6,8.6 0 1,0 -17.2,0M2225.9,3718.7a8.6,8.6 0 1,0 17.2,0a8.6,8.6 0 1,0 -17.2,0M2227.9,3717.8a8.6,8.6 0 1,0 17.2,0a8.6,8.6 0 1,0 -17.2,0M2230.0,3719.8a8.6,8.6 0 1,0 17.2,0a8.6,8.6 0 1,0 -17.2,0M2232.0,3721.2a8.6,8.6 0 1,0 17.2,0a8.6,8.6 0 1,0 -17.2,0M2234.1,3719.6a8.6,8.6 0 1,0 17.2,0a8.6,8.6 0 1,0 -17.2,0M2236.2,3719.7a8.6,8.6 0 1,0 17.2,0a8.6,8.6 0 1,0 -17.2,0M2238.2,3717.6a8.6,8.6 0 1,0 17.2,0a8.6,8.6 0 1,0 -17.2,0M2240.3,3717.9a8.6,8.6 0 1,0 17.2,0a8.6,8.6 0 1,0 -17.2,0M2242.3,3720.2a8.6,8.6 0 1,0 17.2,0a8.6,8.6 0 1,0 -17.2,0M2244.4,3720.0a8.6,8.6 0 1,0 17.2,0a8.6,8.6 0 1,0 -17.2,0M2246.4,3719.4a8.6,8.6 0 1,0 17.2,0a8.6,8.6 0 1,0 -17.2,0M2248.5,3719.2a8.6,8.6 0 1,0 17.2,0a8.6,8.6 0 1,0 -17.2,0M2250.5,3737.7a8.6,8.6 0 1,0 17.2,0a8.6,8.6 0 1,0 -17.2,0M2252.6,3720.2a8.6,8.6 0 1,0 17.2,0a8.6,8.6 0 1,0 -17.2,0M2254.6,3738.4a8.6,8.6 0 1,0 17.2,0a8.6,8.6 0 1,0 -17.2,0M2256.7,3721.7a8.6,8.6 0 1,0 17.2,0a8.6,8.6 0 1,0 -17.2,0M2258.7,3720.5a8.6,8.6 0 1,0 17.2,0a8.6,8.6 0 1,0 -17.2,0M2260.8,3716.4a8.6,8.6 0 1,0 17.2,0a8.6,8.6 0 1,0 -17.2,0M2262.8,3718.6a8.6,8.6 0 1,0 17.2,0a8.6,8.6 0 1,0 -17.2,0M2264.9,3719.2a8.6,8.6 0 1,0 17.2,0a8.6,8.6 0 1,0 -17.2,0M2267.0,3718.3a8.6,8.6 0 1,0 17.2,0a8.6,8.6 0 1,0 -17.2,0M2269.0,3719.7a8.6,8.6 0 1,0 17.2,0a8.6,8.6 0 1,0 -17.2,0M2271.1,3719.2a8.6,8.6 0 1,0 17.2,0a8.6,8.6 0 1,0 -17.2,0M2273.1,3739.1a8.6,8.6 0 1,0 17.2,0a8.6,8.6 0 1,0 -17.2,0M2275.2,3742.2a8.6,8.6 0 1,0 17.2,0a8.6,8.6 0 1,0 -17.2,0M2277.2,3718.7a8.6,8.6 0 1,0 17.2,0a8.6,8.6 0 1,0 -17.2,0M2279.3,3720.3a8.6,8.6 0 1,0 17.2,0a8.6,8.6 0 1,0 -17.2,0M2281.3,3738.2a8.6,8.6 0 1,0 17.2,0a8.6,8.6 0 1,0 -17.2,0M2283.4,3720.6a8.6,8.6 0 1,0 17.2,0a8.6,8.6 0 1,0 -17.2,0M2285.4,3718.3a8.6,8.6 0 1,0 17.2,0a8.6,8.6 0 1,0 -17.2,0M2287.5,3719.6a8.6,8.6 0 1,0 17.2,0a8.6,8.6 0 1,0 -17.2,0" stroke="#0000ff" stroke-width="4.4" fill="none"/>
<clipPath id="clip2"><rect x="315.2" y="2100.8" width="1984.1" height="1688.2"/></clipPath>
<g clip-path="url(#clip2)">
<path d="M313.4,3672.1 322.2,3660 343.2,3628 351.4,3617.3 355,3613.6 359.6,3610.1 363.8,3608.4 366.8,3608.2 369.9,3608.7 372.5,3609.6 377.6,3612.8 382.8,3618 388.4,3625.9 394.6,3636.9 398.2,3644.3 413,3678.3 420.2,3693.9 426.9,3706.1 432,3713.6 435.1,3717.3 438.7,3720.8 445.4,3725.3 453.1,3728 462.3,3729.2 471.6,3729.5 2300.8,3729.5" stroke="#0070c0" stroke-width="8.0" fill="none" stroke-linejoin="round"/>
<path d="M313.4,3729.5 525,3729.1 568.6,3728.2 588.6,3727.3 606.6,3726 620.5,3724.5 635.9,3722.1 648.2,3719.4 660.5,3715.7 671.3,3711.4 678,3708.1 689.3,3701.1 697.5,3694.7 705.7,3686.9 712.9,3678.7 720.1,3669 727.8,3656.7 736,3641.1 743.2,3625 747.8,3613.3 754.5,3594.4 762.2,3569.5 766.3,3554.8 777.6,3509.2 788.9,3456.9 807.8,3361.9 815,3328.7 819.1,3312 823.2,3297.7 826.8,3287.5 828.9,3282.9 830.9,3279.2 833,3276.6 834.5,3275.4 836.1,3274.8 837.6,3274.9 839.7,3275.9 842.8,3279.4 844.8,3283.1 847.4,3289.3 850.5,3299.1 854.1,3313.8 858.2,3334.8 862.8,3363.5 869.5,3412.7 884.3,3538.9 892,3600.2 898.7,3644.8 903.3,3669.6 909,3692.9 911,3699.5 915.1,3710.1 918.7,3716.8 922.3,3721.5 926.4,3725.1 931.6,3727.6 939.3,3729.1 949,3729.5 2300.8,3729.5" stroke="#ff5008" stroke-width="8.0" fill="none" stroke-linejoin="round"/>
<path d="M313.4,3729.5 575.8,3729.4 624,3728.9 655.4,3727.9 681.6,3726 702.6,3723.2 724.7,3718.4 758,3708.8 765.7,3707.3 772.4,3706.7 781.7,3707.4 788.9,3709.4 797.6,3713.3 815,3723.1 823.2,3726.5 828.9,3728 834,3728.8 847.4,3729.5 2300.8,3729.5" stroke="#ffaa00" stroke-width="8.0" fill="none" stroke-linejoin="round"/>
<path d="M313.4,3729.5 678,3729.3 724.2,3728.3 738.5,3727.5 753.4,3726.1 770.9,3723.2 781.7,3720.3 793,3715.8 796.6,3714 804.3,3709.2 813,3702 816.1,3698.9 822.2,3691.6 827.4,3684.2 831.5,3677.3 836.6,3667.2 842.8,3652.5 846.4,3642.4 852.5,3622.1 858.2,3599.4 865.9,3561.1 870.5,3533.2 877.2,3485.1 882.8,3436.3 888.5,3378.8 897.2,3271 903.9,3171.6 908,3103 915.7,2960.2 934.1,2581.9 940.8,2464.8 944.4,2415.8 947.5,2384.9 949,2374 950.6,2366.4 952.1,2362.5 953.1,2362 954.2,2363 955.2,2365.4 957.8,2377.8 961.4,2411 965.5,2472.5 969.6,2558.6 973.2,2652.5 976.8,2761 987.5,3130.8 994.7,3362.7 999.3,3484.8 1002.9,3560.8 1007,3626.5 1010.1,3662.1 1012.7,3684 1014.7,3697.1 1018.3,3712.8 1021.4,3720.7 1024.5,3725.2 1026.6,3726.9 1029.6,3728.4 1032.7,3729.1 1038.9,3729.5 2300.8,3729.5" stroke="#8a1e8c" stroke-width="8.0" fill="none" stroke-linejoin="round"/>
<path d="M313.4,3729.4 483.4,3728.8 541.4,3728 592.7,3726.6 634.3,3724.6 665.1,3722.3 698,3718.7 727.8,3714 752.4,3708.7 773.4,3702.9 794,3695.9 812,3688.5 823.8,3683 835.6,3676.9 854.6,3666 874.6,3653.2 914.6,3626.2 933.1,3615.5 941.3,3611.7 952.1,3607.9 960.3,3606.2 970.1,3605.7 980.9,3606.3 988.1,3607.2 1004,3610.6 1013.7,3613.7 1021.9,3616.9 1038.4,3624.9 1053.3,3633.8 1069.2,3644.7 1110.2,3676.2 1129.7,3690.5 1144.1,3699.9 1152.3,3704.7 1167.2,3712.2 1181.6,3717.9 1198.5,3722.8 1215,3725.9 1231.9,3727.8 1254.5,3729 1291,3729.5 2300.8,3729.5" stroke="#4ca800" stroke-width="8.0" fill="none" stroke-linejoin="round"/>
<path d="M313.4,3729.5 650.2,3729.1 744.7,3728.5 821.2,3727.5 923.9,3724.8 974.2,3722.7 1095.9,3716.5 1129.2,3715.4 1158,3715 1208.3,3715.3 1258.1,3716.3 1496.8,3724.9 1573.3,3726.8 1648.3,3728 1753,3728.9 1862.4,3729.3 2300.8,3729.5" stroke="#00c2f2" stroke-width="8.0" fill="none" stroke-linejoin="round"/>
<path d="M313.4,3729.5 1358.2,3729.4 1431.6,3728.3 1514.8,3724.4 1569.7,3723.3 1872.1,3724.3 2300.8,3724.7" stroke="#b0001e" stroke-width="8.0" fill="none" stroke-linejoin="round"/>
<path d="M313.4,3672 322.2,3659.9 344.2,3626.4 351.9,3616.6 355.5,3613 359.6,3609.9 363.8,3608.2 367.9,3608.1 373,3609.6 376.1,3611.4 379.2,3613.9 383.8,3619 387.9,3624.8 394.6,3636.6 398.2,3644 417.1,3687 424.3,3701.2 427.9,3707.3 434.6,3716.2 439.7,3721.1 445.4,3724.7 450.5,3726.7 458.7,3728.2 478.2,3728.6 541.4,3727.1 571.2,3725.5 590.7,3723.8 606.6,3721.8 618.4,3719.8 628.2,3717.7 640.5,3714.3 651.3,3710.4 659.5,3706.8 666.7,3703 675.9,3697.1 685.7,3689.3 693.4,3681.8 704.7,3668.1 712.4,3656.6 716.5,3649.6 724.2,3634.7 727.8,3626.9 736,3606.8 746.8,3575.1 754.5,3548.6 766.3,3501.4 777.6,3449.3 785.3,3410.4 819.1,3227 826.8,3190.7 830.9,3174.3 834,3163.8 837.6,3153.8 842.2,3144.1 844.8,3140.1 846.9,3137.7 849.4,3135.7 851,3135 854.1,3134.7 855.6,3135 858.7,3136.5 861.8,3139 871.5,3148.8 874.6,3150.8 877.2,3151.4 878.7,3151.1 881.3,3149.3 884.9,3143.4 887.4,3136.3 890,3126.4 893.1,3110.4 897.2,3081.4 901.8,3037.4 908,2959.6 911.6,2904.4 919.3,2765.5 934.1,2461 937.7,2393.3 941.8,2325.9 945.4,2279.1 948,2254.8 950.6,2239.5 951.6,2236.1 952.1,2235.1 953.1,2234.3 954.2,2235 955.2,2237.1 957.8,2248.8 961.4,2281.4 965.5,2342.3 969.6,2428.2 973.2,2522.1 976.8,2630.5 987.5,3001 994.7,3233.8 999.3,3356.7 1002.9,3433.3 1007,3500 1010.1,3536.5 1012.7,3559.1 1014.7,3572.9 1018.3,3589.7 1022.4,3600.9 1026,3606.3 1029.1,3609.3 1031.7,3611.1 1049.7,3620.8 1065.6,3630.6 1084.1,3643.4 1125.1,3673.3 1141,3683.7 1151.8,3690 1165.2,3696.5 1179,3701.2 1196,3705.1 1212.4,3707.1 1239.6,3708.3 1301.7,3708.3 1359.8,3710.8 1460.9,3716.2 1501.5,3718 1573.8,3720.3 1662.1,3722.1 1768.9,3723.4 1879.3,3724.1 2300.8,3724.7" stroke="#ff0000" stroke-width="9.5" fill="none" stroke-linejoin="round"/>
</g>
<text x="453.9" y="3816.5" text-anchor="middle" textLength="92.0" lengthAdjust="spacingAndGlyphs">100</text>
<text x="661.5" y="3816.5" text-anchor="middle" textLength="100.0" lengthAdjust="spacingAndGlyphs">200</text>
<text x="868.4" y="3816.5" text-anchor="middle" textLength="100.0" lengthAdjust="spacingAndGlyphs">300</text>
<text x="1070.3" y="3816.5" text-anchor="middle" textLength="100.0" lengthAdjust="spacingAndGlyphs">400</text>
<text x="1276.1" y="3816.5" text-anchor="middle" textLength="100.0" lengthAdjust="spacingAndGlyphs">500</text>
<text x="1481.5" y="3816.5" text-anchor="middle" textLength="100.0" lengthAdjust="spacingAndGlyphs">600</text>
<text x="1688.4" y="3816.5" text-anchor="middle" textLength="100.0" lengthAdjust="spacingAndGlyphs">700</text>
<text x="1894.1" y="3816.5" text-anchor="middle" textLength="100.0" lengthAdjust="spacingAndGlyphs">800</text>
<text x="2100.4" y="3816.5" text-anchor="middle" textLength="100.0" lengthAdjust="spacingAndGlyphs">900</text>
<text x="290.3" y="3753.9" text-anchor="end">0</text>
<text x="290.3" y="3537.0" text-anchor="end">0.01</text>
<text x="290.3" y="3320.1" text-anchor="end">0.02</text>
<text x="290.3" y="3103.1" text-anchor="end">0.03</text>
<text x="290.3" y="2886.2" text-anchor="end">0.04</text>
<text x="290.3" y="2669.3" text-anchor="end">0.05</text>
<text x="290.3" y="2452.4" text-anchor="end">0.06</text>
<text x="290.3" y="2235.5" text-anchor="end">0.07</text>
</g>
<g font-family='"Liberation Sans", Arial, sans-serif' font-size="54.5" fill="#2a2a2a" stroke="#2a2a2a" stroke-width="0.9">
<rect x="1510.0" y="2211.6" width="738.4" height="687.9" fill="#fff" stroke="#333333" stroke-width="3.5"/>
<circle cx="1617.7" cy="2256.2" r="8.7" stroke="#0000ff" stroke-width="4.5" fill="#d8d8ff"/>
<text x="1722.0" y="2276.7">Experimental</text>
<path d="M1529.0,2329.7H1709.7" stroke="#0070c0" stroke-width="8"/>
<text x="1722.0" y="2350.2">Pseudocomponent 1</text>
<path d="M1529.0,2405.5H1709.7" stroke="#ff5008" stroke-width="8"/>
<text x="1722.0" y="2426.0">Pseudocomponent 2</text>
<path d="M1529.0,2481.3H1709.7" stroke="#ffaa00" stroke-width="8"/>
<text x="1722.0" y="2501.8">Pseudocomponent 3</text>
<path d="M1529.0,2557.1H1709.7" stroke="#8a1e8c" stroke-width="8"/>
<text x="1722.0" y="2577.6">Pseudocomponent 4</text>
<path d="M1529.0,2632.9H1709.7" stroke="#4ca800" stroke-width="8"/>
<text x="1722.0" y="2653.4">Pseudocomponent 5</text>
<path d="M1529.0,2708.7H1709.7" stroke="#00c2f2" stroke-width="8"/>
<text x="1722.0" y="2729.2">Pseudocomponent 6</text>
<path d="M1529.0,2784.5H1709.7" stroke="#b0001e" stroke-width="8"/>
<text x="1722.0" y="2805.0">Pseudocomponent 7</text>
<path d="M1529.0,2860.3H1709.7" stroke="#ff0000" stroke-width="8"/>
<text x="1722.0" y="2880.8">Model</text>
</g>
<g font-family='"Liberation Sans", Arial, sans-serif' fill="#1a1a1a" stroke="#1a1a1a" stroke-width="0.9">
<text x="1311" y="1821.5" font-size="68" text-anchor="middle" textLength="496" lengthAdjust="spacingAndGlyphs">Temperature, ºC</text>
<text transform="translate(97,867) rotate(-90)" font-size="70" text-anchor="middle" textLength="502.5" lengthAdjust="spacingAndGlyphs">dX/dt, (wt/wt)/min</text>
</g>
<g font-family='"Liberation Sans", Arial, sans-serif' fill="#2a2a2a" stroke="#2a2a2a" stroke-width="0.9">
<text x="1306" y="3907" font-size="68" text-anchor="middle" textLength="495" lengthAdjust="spacingAndGlyphs">Temperature, ºC</text>
<text transform="translate(135,2962) rotate(-90)" font-size="68" text-anchor="middle" textLength="561.6" lengthAdjust="spacingAndGlyphs">dX/dt, (wt/wt)/min</text>
</g>
<g font-family='"Liberation Serif", "Times New Roman", serif' fill="#000" font-size="86">
<text transform="translate(1303.8,1969.5) scale(0.89,1)" font-size="85.6">(</text>
<text transform="translate(1330.2,1970) scale(0.94,1)" font-size="89.7" font-weight="bold">a</text>
<text transform="translate(1371.9,1969.5) scale(0.89,1)" font-size="85.6">)</text>
<text transform="translate(1298.5,4058.8) scale(0.906,1)" font-size="86.2">(</text>
<text transform="translate(1325.5,4059.2)" font-size="89.5" font-weight="bold">b</text>
<text transform="translate(1376.5,4058.8) scale(0.906,1)" font-size="86.2">)</text>
</g>
</svg></body></html>
